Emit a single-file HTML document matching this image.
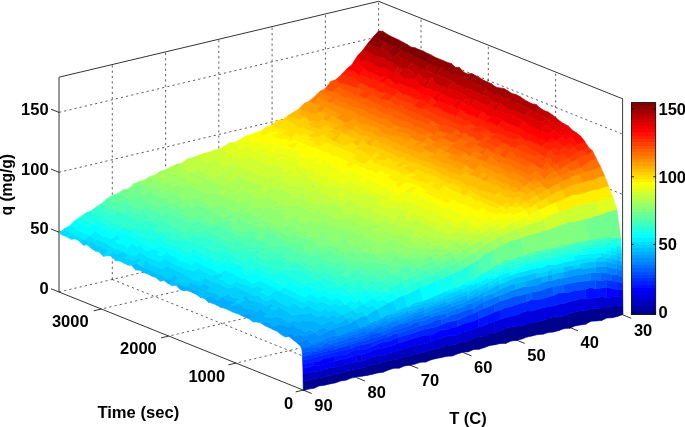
<!DOCTYPE html>
<html><head><meta charset="utf-8"><title>q surface</title><style>html,body{margin:0;padding:0;background:#fff}body{width:685px;height:427px;overflow:hidden}</style></head><body>
<svg width="685" height="427" viewBox="0 0 685 427" style="display:block">
<rect width="685" height="427" fill="#fff"/>
<path d="M112.3,279.5 L112.3,64.6 M112.3,279.5 L356.5,377.6 M165.6,267.0 L165.6,51.9 M165.6,267.0 L409.8,365.0 M218.8,254.4 L218.8,39.3 M218.8,254.4 L463.1,352.5 M272.1,241.9 L272.1,26.6 M272.1,241.9 L516.3,340.0 M325.4,229.4 L325.4,14.0 M325.4,229.4 L569.6,327.4 M378.6,216.8 L378.6,1.3 M378.6,216.8 L622.9,314.9 M421.0,233.8 L421.0,18.3 M421.0,233.8 L101.4,309.0 M488.3,260.9 L488.3,45.1 M488.3,260.9 L168.7,336.1 M555.6,287.9 L555.6,72.0 M555.6,287.9 L236.0,363.1 M59.0,292.0 L378.6,216.8 M59.0,232.2 L378.6,156.8 M378.6,156.8 L622.9,254.7 M59.0,172.3 L378.6,96.7 M378.6,96.7 L622.9,194.5 M59.0,112.4 L378.6,36.6 M378.6,36.6 L622.9,134.3" fill="none" stroke="#1a1a1a" stroke-width="0.7" stroke-dasharray="2.2 3.1"/>
<path d="M303.3,390.1 L59.0,292.0 M59.0,77.2 L378.6,1.3 L622.9,98.9" fill="none" stroke="#000" stroke-width="0.8"/>
<path d="M59,292.0 V77.2" fill="none" stroke="#333" stroke-width="1"/>
<path d="M622.6,314.9 V98.9" fill="none" stroke="#222" stroke-width="0.9"/>
<g stroke-width="0.6" stroke-linejoin="round">
<path fill="#00008f" stroke="#00008f" d="M622.9 314.5l-5.4 1.9l-0.1 -10.5l5.3 -0.4zM617.5 316.4l-5.3 1.3l-0.1 -11.6l5.3 -0.2zM612.2 317.7l-5.3 0.3l-0.2 -10l5.4 -1.9zM606.9 318.0l-5.3 2.5l-0.2 -12.6l5.3 0.1zM601.6 320.5l-5.4 0.4l-0.1 -12.4l5.3 -0.6zM596.2 320.9l-5.3 0.4l-0.1 -12.2l5.3 -0.6zM590.9 321.3l-5.3 2.9l-0.2 -13.5l5.4 -1.6zM585.6 324.2l-5.4 0.8l-0.1 -14.2l5.3 -0.1zM580.2 325.0l-5.3 1l-0.1 -14.1l5.3 -1.1zM574.9 326.0l-5.3 2.3l-0.1 -14.9l5.3 -1.5zM569.6 328.3l-5.3 0.2l-0.2 -12.6l5.4 -2.5zM564.3 328.5l-5.4 2l-0.1 -13.9l5.3 -0.7zM558.9 330.5l-5.3 1.5l-0.1 -15.3l5.3 -0.1zM553.6 332.0l-5.3 0.4l-0.1 -13.9l5.3 -1.8zM548.3 332.4l-5.3 1.8l-0.2 -13.9l5.4 -1.8zM543.0 334.2l-5.4 0.4l-0.1 -12.9l5.3 -1.4zM537.6 334.6l-5.3 1.3l-0.1 -13.4l5.3 -0.8zM532.3 335.9l-5.3 1.2l-0.2 -13.6l5.4 -1zM527.0 337.1l-5.3 2l-0.2 -13.3l5.3 -2.3zM521.7 339.1l-5.4 1.3l-0.1 -14.1l5.3 -0.5zM516.3 340.4l-5.3 0.7l-0.1 -14l5.3 -0.8zM511.0 341.1l-5.3 2.3l-0.2 -14.9l5.4 -1.4zM505.7 343.4l-5.3 0.1l-0.2 -12.8l5.3 -2.2zM500.4 343.5l-5.4 1.2l-0.1 -11.9l5.3 -2.1zM495.0 344.7l-5.3 0.9l-0.1 -12.1l5.3 -0.7zM489.7 345.6l-5.3 2l-0.2 -11.7l5.4 -2.4zM484.4 347.6l-5.4 1.7l-0.1 -12.9l5.3 -0.5zM479.0 349.3l-5.3 0.2l-0.1 -11.2l5.3 -1.9zM473.7 349.5l-5.3 2.3l-0.1 -10.8l5.3 -2.7zM468.4 351.8l-5.3 0.4l-0.2 -10.6l5.4 -0.6zM463.1 352.2l-5.4 1.6l-0.1 -10.6l5.3 -1.6zM457.7 353.8l-5.3 2.2l-0.1 -10.7l5.3 -2.1zM452.4 356.0l-5.3 0.3l-0.1 -11.3l5.3 0.3zM447.1 356.3l-5.3 1.1l-0.2 -10.2l5.4 -2.2zM441.8 357.4l-5.4 1.1l-0.1 -9.8l5.3 -1.5zM436.4 358.5l-5.3 1.3l-0.1 -10.1l5.3 -1zM431.1 359.8l-5.3 2.3l-0.2 -10.7l5.4 -1.7zM425.8 362.1l-5.3 0.2l-0.2 -9.3l5.3 -1.6zM420.5 362.3l-5.4 1.8l-0.1 -10.2l5.3 -0.9zM415.1 364.1l-5.3 1.2l-0.1 -9.5l5.3 -1.9zM409.8 365.3l-5.3 0.6l-0.2 -9.5l5.4 -0.6zM404.5 365.9l-5.4 2.3l-0.1 -9.4l5.3 -2.4zM399.1 368.2l-5.3 0.1l-0.1 -8.3l5.3 -1.2zM393.8 368.3l-5.3 1.6l-0.1 -9.6l5.3 -0.3zM388.5 369.9l-5.3 2.3l-0.2 -9.9l5.4 -2zM383.2 372.2l-5.4 0.7l-0.1 -9l5.3 -1.6zM377.8 372.9l-5.3 1.4l-0.1 -10l5.3 -0.4zM372.5 374.3l-5.3 1.1l-0.1 -9l5.3 -2.1zM367.2 375.4l-5.3 0.8l-0.2 -7.9l5.4 -1.9zM361.9 376.2l-5.4 0.9l-0.1 -7.8l5.3 -1zM356.5 377.1l-5.3 1l-0.1 -8l5.3 -0.8zM351.2 378.1l-5.3 2.1l-0.2 -8.9l5.4 -1.2zM345.9 380.2l-5.3 0.8l-0.2 -7.6l5.3 -2.1zM340.6 381.0l-5.4 1.9l-0.1 -8.9l5.3 -0.6zM335.2 382.9l-5.3 1l-0.1 -8.3l5.3 -1.6zM329.9 383.9l-5.3 1.3l-0.2 -8.7l5.4 -0.9zM324.6 385.2l-5.4 0.7l-0.1 -7.9l5.3 -1.5zM319.2 385.9l-5.3 2.4l-0.1 -9.5l5.3 -0.8zM313.9 388.3l-5.3 0.8l-0.1 -8.7l5.3 -1.6zM308.6 389.1l-5.3 1.6l-0.2 -9.8l5.4 -0.5z"/>
<path fill="#0000bf" stroke="#0000bf" d="M415.0 353.9l-5.3 1.9l-0.2 -8.6l5.4 -1.7zM409.7 355.8l-5.4 0.6l-0.1 -8l5.3 -1.2zM404.3 356.4l-5.3 2.4l-0.1 -8.6l5.3 -1.8zM399.0 358.8l-5.3 1.2l-0.1 -8.6l5.3 -1.2zM393.7 360.0l-5.3 0.3l-0.2 -6.9l5.4 -2zM388.4 360.3l-5.4 2l-0.1 -6.9l5.3 -2zM383.0 362.3l-5.3 1.6l-0.1 -8.2l5.3 -0.3zM377.7 363.9l-5.3 0.4l-0.2 -7.2l5.4 -1.4zM372.4 364.3l-5.3 2.1l-0.2 -7.4l5.3 -1.9zM367.1 366.4l-5.4 1.9l-0.1 -7.1l5.3 -2.2zM361.7 368.3l-5.3 1l-0.1 -7.5l5.3 -0.6zM356.4 369.3l-5.3 0.8l-0.2 -7.5l5.4 -0.8zM351.1 370.1l-5.4 1.2l-0.1 -6.8l5.3 -1.9zM345.7 371.3l-5.3 2.1l-0.1 -7.5l5.3 -1.4zM340.4 373.4l-5.3 0.6l-0.1 -6.6l5.3 -1.5zM335.1 374.0l-5.3 1.6l-0.2 -7.9l5.4 -0.3zM329.8 375.6l-5.4 0.9l-0.1 -7.6l5.3 -1.2zM324.4 376.5l-5.3 1.5l-0.1 -7.1l5.3 -2zM319.1 378.0l-5.3 0.8l-0.1 -7.4l5.3 -0.5zM313.8 378.8l-5.3 1.6l-0.2 -7.4l5.4 -1.6zM308.5 380.4l-5.4 0.5l-0.1 -7.7l5.3 -0.2z"/>
<path fill="#0000cf" stroke="#0000cf" d="M622.7 305.5l-5.3 0.4l-0.1 -9.3l5.3 1zM617.4 305.9l-5.3 0.2l-0.2 -8.8l5.4 -0.7zM612.1 306.1l-5.4 1.9l-0.1 -10.5l5.3 -0.2zM606.7 308.0l-5.3 -0.1l-0.1 -11.2l5.3 0.8zM601.4 307.9l-5.3 0.6l-0.1 -10.7l5.3 -1.1zM494.9 332.8l-5.3 0.7l-0.2 -10.4l5.4 -2.2zM489.6 333.5l-5.4 2.4l-0.1 -10.5l5.3 -2.3zM484.2 335.9l-5.3 0.5l-0.1 -9.3l5.3 -1.7zM478.9 336.4l-5.3 1.9l-0.2 -9.4l5.4 -1.8zM473.6 338.3l-5.3 2.7l-0.2 -10.5l5.3 -1.6zM468.3 341.0l-5.4 0.6l-0.1 -9.3l5.3 -1.8zM462.9 341.6l-5.3 1.6l-0.1 -8.2l5.3 -2.7zM457.6 343.2l-5.3 2.1l-0.2 -9.7l5.4 -0.6zM452.3 345.3l-5.3 -0.3l-0.2 -8.9l5.3 -0.5zM447.0 345.0l-5.4 2.2l-0.1 -8.6l5.3 -2.5zM441.6 347.2l-5.3 1.5l-0.1 -9.8l5.3 -0.3zM436.3 348.7l-5.3 1l-0.2 -8.3l5.4 -2.5zM431.0 349.7l-5.4 1.7l-0.1 -8l5.3 -2zM425.6 351.4l-5.3 1.6l-0.1 -8.5l5.3 -1.1zM420.3 353.0l-5.3 0.9l-0.1 -8.4l5.3 -1z"/>
<path fill="#0000df" stroke="#0000df" d="M596.1 308.5l-5.3 0.6l-0.2 -10.9l5.4 -0.4zM590.8 309.1l-5.4 1.6l-0.1 -11.6l5.3 -0.9zM585.4 310.7l-5.3 0.1l-0.1 -11.9l5.3 0.2zM580.1 310.8l-5.3 1.1l-0.1 -11.5l5.3 -1.5zM574.8 311.9l-5.3 1.5l-0.2 -12l5.4 -1zM569.5 313.4l-5.4 2.5l-0.1 -12.5l5.3 -2zM564.1 315.9l-5.3 0.7l-0.1 -12.3l5.3 -0.9zM558.8 316.6l-5.3 0.1l-0.2 -11l5.4 -1.4zM553.5 316.7l-5.3 1.8l-0.2 -11.8l5.3 -1zM548.2 318.5l-5.4 1.8l-0.1 -12.6l5.3 -1zM542.8 320.3l-5.3 1.4l-0.1 -12.4l5.3 -1.6zM537.5 321.7l-5.3 0.8l-0.2 -11.6l5.4 -1.6zM532.2 322.5l-5.4 1l-0.1 -12.6l5.3 0zM526.8 323.5l-5.3 2.3l-0.1 -13.1l5.3 -1.8zM521.5 325.8l-5.3 0.5l-0.1 -11.4l5.3 -2.2zM516.2 326.3l-5.3 0.8l-0.2 -10.8l5.4 -1.4zM510.9 327.1l-5.4 1.4l-0.1 -11.1l5.3 -1.1zM505.5 328.5l-5.3 2.2l-0.1 -11.4l5.3 -1.9zM500.2 330.7l-5.3 2.1l-0.1 -11.9l5.3 -1.6zM361.6 361.2l-5.3 0.6l-0.2 -6.8l5.4 -0.4zM345.6 364.5l-5.3 1.4l-0.1 -6.4l5.3 -0.7zM340.3 365.9l-5.3 1.5l-0.2 -6.4l5.4 -1.5z"/>
<path fill="#0000ef" stroke="#0000ef" d="M622.6 297.6l-5.3 -1l-0.2 -7l5.4 0.1zM430.8 341.4l-5.3 2l-0.1 -8.1l5.3 -0.2zM425.5 343.4l-5.3 1.1l-0.2 -8.1l5.4 -1.1zM420.2 344.5l-5.3 1l-0.2 -7.4l5.3 -1.7zM414.9 345.5l-5.4 1.7l-0.1 -7.7l5.3 -1.4zM409.5 347.2l-5.3 1.2l-0.1 -6.8l5.3 -2.1zM404.2 348.4l-5.3 1.8l-0.2 -7.1l5.4 -1.5zM398.9 350.2l-5.3 1.2l-0.2 -6.2l5.3 -2.1zM393.6 351.4l-5.4 2l-0.1 -6.6l5.3 -1.6zM388.2 353.4l-5.3 2l-0.1 -7.3l5.3 -1.3zM382.9 355.4l-5.3 0.3l-0.2 -6.7l5.4 -0.9zM377.6 355.7l-5.4 1.4l-0.1 -6.5l5.3 -1.6zM372.2 357.1l-5.3 1.9l-0.1 -6.1l5.3 -2.3zM366.9 359.0l-5.3 2.2l-0.1 -6.6l5.3 -1.7zM356.3 361.8l-5.4 0.8l-0.1 -5.7l5.3 -1.9zM350.9 362.6l-5.3 1.9l-0.1 -5.7l5.3 -1.9zM335.0 367.4l-5.4 0.3l-0.1 -4.9l5.3 -1.8zM329.6 367.7l-5.3 1.2l-0.1 -4.9l5.3 -1.2zM324.3 368.9l-5.3 2l-0.2 -5.4l5.4 -1.5zM319.0 370.9l-5.3 0.5l-0.2 -5.8l5.3 -0.1zM313.7 371.4l-5.4 1.6l-0.1 -5.7l5.3 -1.7zM308.3 373.0l-5.3 0.2l-0.1 -5l5.3 -0.9z"/>
<path fill="#0000ff" stroke="#0000ff" d="M617.3 296.6l-5.4 0.7l-0.1 -8.7l5.3 1zM611.9 297.3l-5.3 0.2l-0.1 -10.3l5.3 1.4zM478.8 327.1l-5.4 1.8l-0.1 -7.7l5.3 -2.6zM473.4 328.9l-5.3 1.6l-0.1 -8l5.3 -1.3zM468.1 330.5l-5.3 1.8l-0.1 -8.5l5.3 -1.3zM462.8 332.3l-5.3 2.7l-0.2 -8.5l5.4 -2.7zM457.5 335.0l-5.4 0.6l-0.1 -7.9l5.3 -1.2zM452.1 335.6l-5.3 0.5l-0.1 -6.5l5.3 -1.9zM446.8 336.1l-5.3 2.5l-0.1 -8.5l5.3 -0.5zM441.5 338.6l-5.3 0.3l-0.2 -6.5l5.4 -2.3zM436.2 338.9l-5.4 2.5l-0.1 -6.3l5.3 -2.7zM334.8 361.0l-5.3 1.8l-0.1 -5l5.3 -1.8zM329.5 362.8l-5.3 1.2l-0.2 -5.5l5.4 -0.7zM324.2 364.0l-5.4 1.5l-0.1 -4.3l5.3 -2.7zM318.8 365.5l-5.3 0.1l-0.1 -4.2l5.3 -0.2z"/>
<path fill="#0010ff" stroke="#0010ff" d="M606.6 297.5l-5.3 -0.8l-0.1 -8.7l5.3 -0.8zM601.3 296.7l-5.3 1.1l-0.2 -9l5.4 -0.8zM596.0 297.8l-5.4 0.4l-0.1 -10.6l5.3 1.2zM590.6 298.2l-5.3 0.9l-0.1 -9.8l5.3 -1.7zM500.1 319.3l-5.3 1.6l-0.2 -9.2l5.3 -1.7zM494.8 320.9l-5.4 2.2l-0.1 -8.7l5.3 -2.7zM489.4 323.1l-5.3 2.3l-0.1 -9l5.3 -2zM484.1 325.4l-5.3 1.7l-0.2 -8.5l5.4 -2.2zM398.7 343.1l-5.3 2.1l-0.1 -6l5.3 -2.1zM393.4 345.2l-5.3 1.6l-0.1 -5.1l5.3 -2.5zM388.1 346.8l-5.3 1.3l-0.2 -6l5.4 -0.4zM382.8 348.1l-5.4 0.9l-0.1 -5l5.3 -1.9zM377.4 349.0l-5.3 1.6l-0.1 -3.9l5.3 -2.7zM372.1 350.6l-5.3 2.3l-0.2 -4.4l5.4 -1.8zM366.8 352.9l-5.3 1.7l-0.2 -5l5.3 -1.1zM361.5 354.6l-5.4 0.4l-0.1 -5.1l5.3 -0.3zM356.1 355.0l-5.3 1.9l-0.1 -5.1l5.3 -1.9zM350.8 356.9l-5.3 1.9l-0.2 -4.1l5.4 -2.9zM345.5 358.8l-5.3 0.7l-0.2 -4.5l5.3 -0.3zM340.2 359.5l-5.4 1.5l-0.1 -5l5.3 -1zM313.5 365.6l-5.3 1.7l-0.1 -4.6l5.3 -1.3zM308.2 367.3l-5.3 0.9l-0.2 -4.4l5.4 -1.1z"/>
<path fill="#0020ff" stroke="#0020ff" d="M585.3 299.1l-5.3 -0.2l-0.2 -8.6l5.4 -1zM580.0 298.9l-5.3 1.5l-0.2 -10.2l5.3 0.1zM574.7 300.4l-5.4 1l-0.1 -9l5.3 -2.2zM569.3 301.4l-5.3 2l-0.1 -10.9l5.3 -0.1zM564.0 303.4l-5.3 0.9l-0.2 -11.3l5.4 -0.5zM558.7 304.3l-5.4 1.4l-0.1 -10.3l5.3 -2.4zM553.3 305.7l-5.3 1l-0.1 -9.7l5.3 -1.6zM548.0 306.7l-5.3 1l-0.1 -9.3l5.3 -1.4zM542.7 307.7l-5.3 1.6l-0.2 -9.6l5.4 -1.3zM537.4 309.3l-5.4 1.6l-0.1 -11.6l5.3 0.4zM532.0 310.9l-5.3 0l-0.1 -9.1l5.3 -2.5zM526.7 310.9l-5.3 1.8l-0.1 -9.6l5.3 -1.3zM521.4 312.7l-5.3 2.2l-0.2 -10.1l5.4 -1.7zM516.1 314.9l-5.4 1.4l-0.1 -9.7l5.3 -1.8zM510.7 316.3l-5.3 1.1l-0.1 -9.8l5.3 -1zM505.4 317.4l-5.3 1.9l-0.2 -9.3l5.4 -2.4zM622.5 289.7l-5.4 -0.1l-0.1 -8.1l5.3 1.3zM457.3 326.5l-5.3 1.2l-0.1 -6.4l5.3 -1.4zM452.0 327.7l-5.3 1.9l-0.2 -7.3l5.4 -1zM446.7 329.6l-5.3 0.5l-0.2 -5.3l5.3 -2.5zM441.4 330.1l-5.4 2.3l-0.1 -5.4l5.3 -2.2zM436.0 332.4l-5.3 2.7l-0.1 -7l5.3 -1.1zM430.7 335.1l-5.3 0.2l-0.2 -6.2l5.4 -1zM425.4 335.3l-5.4 1.1l-0.1 -5.7l5.3 -1.6zM420.0 336.4l-5.3 1.7l-0.1 -5.5l5.3 -1.9zM414.7 338.1l-5.3 1.4l-0.1 -5.2l5.3 -1.7zM409.4 339.5l-5.3 2.1l-0.2 -5.8l5.4 -1.5zM404.1 341.6l-5.4 1.5l-0.1 -6l5.3 -1.3zM372.0 346.7l-5.4 1.8l-0.1 -4.4l5.3 -2.1zM366.6 348.5l-5.3 1.1l-0.1 -4.8l5.3 -0.7zM361.3 349.6l-5.3 0.3l-0.1 -3.7l5.3 -1.4zM356.0 349.9l-5.3 1.9l-0.2 -3.4l5.4 -2.2zM350.7 351.8l-5.4 2.9l-0.1 -4.9l5.3 -1.4zM345.3 354.7l-5.3 0.3l-0.1 -3.9l5.3 -1.3zM340.0 355.0l-5.3 1l-0.1 -3.8l5.3 -1.1zM334.7 356.0l-5.3 1.8l-0.2 -4.2l5.4 -1.4zM329.4 357.8l-5.4 0.7l-0.1 -3.3l5.3 -1.6zM324.0 358.5l-5.3 2.7l-0.1 -5.2l5.3 -0.8zM318.7 361.2l-5.3 0.2l-0.1 -3.9l5.3 -1.5zM313.4 361.4l-5.3 1.3l-0.2 -3.5l5.4 -1.7zM308.1 362.7l-5.4 1.1l-0.1 -4.1l5.3 -0.5z"/>
<path fill="#0030ff" stroke="#0030ff" d="M617.1 289.6l-5.3 -1l-0.1 -8.1l5.3 1zM611.8 288.6l-5.3 -1.4l-0.2 -7.2l5.4 0.5zM478.6 318.6l-5.3 2.6l-0.1 -7.7l5.3 -2.8zM473.3 321.2l-5.3 1.3l-0.1 -7.3l5.3 -1.7zM468.0 322.5l-5.3 1.3l-0.2 -6l5.4 -2.6zM462.7 323.8l-5.4 2.7l-0.1 -6.6l5.3 -2.1zM398.6 337.1l-5.3 2.1l-0.2 -5l5.4 -1.1zM393.3 339.2l-5.3 2.5l-0.2 -4.7l5.3 -2.8zM388.0 341.7l-5.4 0.4l-0.1 -4l5.3 -1.1zM382.6 342.1l-5.3 1.9l-0.1 -4.3l5.3 -1.6zM377.3 344.0l-5.3 2.7l-0.2 -4.7l5.4 -2.3zM350.5 348.4l-5.3 1.4l-0.1 -3.2l5.3 -2.3zM345.2 349.8l-5.3 1.3l-0.2 -3.6l5.4 -0.9zM339.9 351.1l-5.3 1.1l-0.2 -2.8l5.3 -1.9zM334.6 352.2l-5.4 1.4l-0.1 -3l5.3 -1.2zM329.2 353.6l-5.3 1.6l-0.1 -3.1l5.3 -1.5zM323.9 355.2l-5.3 0.8l-0.2 -3l5.4 -0.9zM318.6 356.0l-5.3 1.5l-0.2 -2.6l5.3 -1.9zM313.3 357.5l-5.4 1.7l-0.1 -4l5.3 -0.3zM307.9 359.2l-5.3 0.5l-0.1 -1.7l5.3 -2.8z"/>
<path fill="#0040ff" stroke="#0040ff" d="M606.5 287.2l-5.3 0.8l-0.2 -7.6l5.3 -0.4zM601.2 288.0l-5.4 0.8l-0.1 -8.9l5.3 0.5zM494.6 311.7l-5.3 2.7l-0.1 -8l5.3 -2.5zM489.3 314.4l-5.3 2l-0.2 -8l5.4 -2zM484.0 316.4l-5.4 2.2l-0.1 -7.9l5.3 -2.3zM441.2 324.8l-5.3 2.2l-0.1 -6.8l5.3 -0.4zM435.9 327.0l-5.3 1.1l-0.2 -5.4l5.4 -2.5zM430.6 328.1l-5.4 1l-0.1 -4.5l5.3 -1.9zM425.2 329.1l-5.3 1.6l-0.1 -4.7l5.3 -1.4zM419.9 330.7l-5.3 1.9l-0.1 -4.5l5.3 -2.1zM414.6 332.6l-5.3 1.7l-0.2 -4.8l5.4 -1.4zM409.3 334.3l-5.4 1.5l-0.1 -4.3l5.3 -2zM403.9 335.8l-5.3 1.3l-0.1 -4l5.3 -1.6zM387.8 337.0l-5.3 1.1l-0.1 -2.7l5.3 -2.4zM382.5 338.1l-5.3 1.6l-0.2 -2.8l5.4 -1.5zM377.2 339.7l-5.4 2.3l-0.1 -4.2l5.3 -0.9zM371.8 342.0l-5.3 2.1l-0.1 -3.7l5.3 -2.6zM366.5 344.1l-5.3 0.7l-0.1 -3.7l5.3 -0.7zM361.2 344.8l-5.3 1.4l-0.2 -3.2l5.4 -1.9zM355.9 346.2l-5.4 2.2l-0.1 -4.1l5.3 -1.3zM334.4 349.4l-5.3 1.2l-0.1 -2.2l5.3 -2.3zM329.1 350.6l-5.3 1.5l-0.2 -2.9l5.4 -0.8zM323.8 352.1l-5.4 0.9l-0.1 -1.4l5.3 -2.4zM318.4 353.0l-5.3 1.9l-0.1 -2.9l5.3 -0.4zM313.1 354.9l-5.3 0.3l-0.1 -0.6l5.3 -2.6zM307.8 355.2l-5.3 2.8l-0.2 -2l5.4 -1.4z"/>
<path fill="#0050ff" stroke="#0050ff" d="M595.8 288.8l-5.3 -1.2l-0.1 -7.3l5.3 -0.4zM590.5 287.6l-5.3 1.7l-0.2 -8.3l5.4 -0.7zM585.2 289.3l-5.4 1l-0.1 -8.9l5.3 -0.4zM579.8 290.3l-5.3 -0.1l-0.1 -7.8l5.3 -1zM574.5 290.2l-5.3 2.2l-0.1 -9.1l5.3 -0.9zM569.2 292.4l-5.3 0.1l-0.2 -7.8l5.4 -1.4zM553.2 295.4l-5.3 1.6l-0.1 -9.1l5.3 -1.4zM547.9 297.0l-5.3 1.4l-0.2 -8.7l5.4 -1.8zM542.6 298.4l-5.4 1.3l-0.1 -8.2l5.3 -1.8zM537.2 299.7l-5.3 -0.4l-0.1 -7.2l5.3 -0.6zM526.6 301.8l-5.3 1.3l-0.2 -7.9l5.3 -1.4zM521.3 303.1l-5.4 1.7l-0.1 -8.7l5.3 -0.9zM515.9 304.8l-5.3 1.8l-0.1 -8.9l5.3 -1.6zM510.6 306.6l-5.3 1l-0.2 -7.9l5.4 -2zM505.3 307.6l-5.4 2.4l-0.1 -9.1l5.3 -1.2zM499.9 310.0l-5.3 1.7l-0.1 -7.8l5.3 -3zM622.3 282.8l-5.3 -1.3l-0.1 -6.9l5.3 2.4zM617.0 281.5l-5.3 -1l-0.2 -6.1l5.4 0.2zM473.2 313.5l-5.3 1.7l-0.2 -5.5l5.3 -1.1zM467.9 315.2l-5.4 2.6l-0.1 -6.5l5.3 -1.6zM462.5 317.8l-5.3 2.1l-0.1 -6.2l5.3 -2.4zM457.2 319.9l-5.3 1.4l-0.2 -6.6l5.4 -1zM451.9 321.3l-5.4 1l-0.1 -4.7l5.3 -2.9zM446.5 322.3l-5.3 2.5l-0.1 -5l5.3 -2.2zM419.8 326.0l-5.3 2.1l-0.2 -5.3l5.3 -1.7zM414.5 328.1l-5.4 1.4l-0.1 -3.6l5.3 -3.1zM409.1 329.5l-5.3 2l-0.1 -4.3l5.3 -1.3zM403.8 331.5l-5.3 1.6l-0.2 -3.9l5.4 -2zM398.5 333.1l-5.4 1.1l-0.1 -4.2l5.3 -0.8zM393.1 334.2l-5.3 2.8l-0.1 -4l5.3 -3zM382.4 335.4l-5.4 1.5l-0.1 -3.6l5.3 -1.6zM377.0 336.9l-5.3 0.9l-0.1 -3.4l5.3 -1.1zM371.7 337.8l-5.3 2.6l-0.2 -3.2l5.4 -2.8zM366.4 340.4l-5.3 0.7l-0.2 -2l5.3 -1.9zM361.1 341.1l-5.4 1.9l-0.1 -2.3l5.3 -1.6zM355.7 343.0l-5.3 1.3l-0.1 -2.7l5.3 -0.9zM350.4 344.3l-5.3 2.3l-0.2 -3.6l5.4 -1.4zM345.1 346.6l-5.4 0.9l-0.1 -2.7l5.3 -1.8zM339.7 347.5l-5.3 1.9l-0.1 -3.3l5.3 -1.3zM334.3 346.1l-5.3 2.3l-0.2 -3l5.4 -1.2zM329.0 348.4l-5.4 0.8l-0.1 -1.5l5.3 -2.3zM323.6 349.2l-5.3 2.4l-0.1 -2.6l5.3 -1.3zM318.3 351.6l-5.3 0.4l-0.2 -1.2l5.4 -1.8zM313.0 352.0l-5.3 2.6l-0.2 -3.2l5.3 -0.6zM307.7 354.6l-5.4 1.4l-0.1 -3.4l5.3 -1.2z"/>
<path fill="#0060ff" stroke="#0060ff" d="M563.9 292.5l-5.4 0.5l-0.1 -7.6l5.3 -0.7zM558.5 293.0l-5.3 2.4l-0.1 -8.9l5.3 -1.1zM531.9 299.3l-5.3 2.5l-0.2 -8l5.4 -1.7zM611.7 280.5l-5.4 -0.5l-0.1 -7.1l5.3 1.5zM606.3 280.0l-5.3 0.4l-0.1 -7.4l5.3 -0.1zM483.8 308.4l-5.3 2.3l-0.1 -5.9l5.3 -3.1zM478.5 310.7l-5.3 2.8l-0.2 -4.9l5.4 -3.8zM446.4 317.6l-5.3 2.2l-0.1 -5l5.3 -1.7zM441.1 319.8l-5.3 0.4l-0.2 -4.6l5.4 -0.8zM435.8 320.2l-5.4 2.5l-0.1 -5.4l5.3 -1.7zM430.4 322.7l-5.3 1.9l-0.1 -4.2l5.3 -3.1zM425.1 324.6l-5.3 1.4l-0.2 -4.9l5.4 -0.7zM409.0 325.9l-5.3 1.3l-0.2 -3.4l5.4 -2.3zM403.7 327.2l-5.4 2l-0.1 -4.6l5.3 -0.8zM398.3 329.2l-5.3 0.8l-0.1 -2.8l5.3 -2.6zM393.0 330.0l-5.3 3l-0.1 -3.5l5.3 -2.3zM387.7 333.0l-5.3 2.4l-0.2 -3.7l5.4 -2.2zM376.9 333.3l-5.3 1.1l-0.2 -2.3l5.4 -1.3zM371.6 334.4l-5.4 2.8l-0.1 -2.8l5.3 -2.3zM366.2 337.2l-5.3 1.9l-0.1 -3l5.3 -1.7zM360.9 339.1l-5.3 1.6l-0.1 -2.5l5.3 -2.1zM355.6 340.7l-5.3 0.9l-0.2 -1.9l5.4 -1.5zM350.3 341.6l-5.4 1.4l-0.1 -2.4l5.3 -0.9zM344.9 343.0l-5.3 1.8l-0.1 -2.1l5.3 -2.1zM339.6 344.8l-5.3 1.3l-0.1 -1.9l5.3 -1.5zM355.5 338.2l-5.4 1.5l-0.1 -2l5.3 -1.8zM350.1 339.7l-5.3 0.9l-0.1 -0.3l5.3 -2.6zM344.8 340.6l-5.3 2.1l-0.2 -1.6l5.4 -0.8zM339.5 342.7l-5.3 1.5l-0.2 -1.5l5.3 -1.6zM334.2 344.2l-5.4 1.2l-0.1 -0.8l5.3 -1.9zM328.8 345.4l-5.3 2.3l-0.1 -1.8l5.3 -1.3zM323.5 347.7l-5.3 1.3l-0.2 -2.5l5.4 -0.6zM318.2 349.0l-5.4 1.8l-0.1 -3.1l5.3 -1.2zM312.8 350.8l-5.3 0.6l-0.1 -1.3l5.3 -2.4zM307.5 351.4l-5.3 1.2l-0.1 -1.1l5.3 -1.4zM328.7 344.6l-5.3 1.3l-0.2 -1.2l5.4 -2.6zM312.7 347.7l-5.3 2.4l-0.1 -2.5l5.3 -0.9zM307.4 350.1l-5.3 1.4l-0.2 -1.9l5.4 -2z"/>
<path fill="#0070ff" stroke="#0070ff" d="M601.0 280.4l-5.3 -0.5l-0.1 -7.3l5.3 0.4zM595.7 279.9l-5.3 0.4l-0.2 -7.9l5.4 0.2zM499.8 300.9l-5.3 3l-0.1 -6.4l5.3 -2.6zM494.5 303.9l-5.3 2.5l-0.2 -7l5.4 -1.9zM489.2 306.4l-5.4 2l-0.1 -6.7l5.3 -2.3zM622.2 277.0l-5.3 -2.4l-0.2 -6.3l5.4 2.4zM473.0 308.6l-5.3 1.1l-0.1 -5.4l5.3 -1.5zM467.7 309.7l-5.3 1.6l-0.1 -3.9l5.3 -3.1zM462.4 311.3l-5.3 2.4l-0.2 -5.2l5.4 -1.1zM457.1 313.7l-5.4 1l-0.1 -3.4l5.3 -2.8zM451.7 314.7l-5.3 2.9l-0.1 -4.5l5.3 -1.8zM430.3 317.3l-5.3 3.1l-0.2 -4.2l5.4 -1.7zM425.0 320.4l-5.4 0.7l-0.1 -3.1l5.3 -1.8zM419.6 321.1l-5.3 1.7l-0.1 -3.8l5.3 -1zM414.3 322.8l-5.3 3.1l-0.1 -4.4l5.3 -2.5zM392.9 327.2l-5.3 2.3l-0.2 -2.5l5.3 -2.5zM387.6 329.5l-5.4 2.2l-0.1 -2.6l5.3 -2.1zM382.2 331.7l-5.3 1.6l-0.1 -2.5l5.3 -1.7zM382.1 329.1l-5.3 1.7l-0.2 -2.2l5.4 -2.5zM376.8 330.8l-5.4 1.3l-0.1 -1.9l5.3 -1.6zM371.4 332.1l-5.3 2.3l-0.1 -2.1l5.3 -2.1zM366.1 334.4l-5.3 1.7l-0.1 -1.4l5.3 -2.4zM360.8 336.1l-5.3 2.1l-0.2 -2.3l5.4 -1.2zM366.0 332.3l-5.3 2.4l-0.2 -2.4l5.3 -1.9zM360.7 334.7l-5.4 1.2l-0.1 -1.7l5.3 -1.9zM355.3 335.9l-5.3 1.8l-0.1 -2.1l5.3 -1.4zM350.0 337.7l-5.3 2.6l-0.2 -2.3l5.4 -2.4zM344.7 340.3l-5.4 0.8l-0.1 -1.8l5.3 -1.3zM339.3 341.1l-5.3 1.6l-0.1 -1.6l5.3 -1.8zM334.0 342.7l-5.3 1.9l-0.1 -2.5l5.3 -1zM323.4 345.9l-5.4 0.6l-0.1 -0.9l5.3 -0.9zM318.0 346.5l-5.3 1.2l-0.1 -1l5.3 -1.1zM344.5 338.0l-5.3 1.3l-0.1 -1.7l5.3 -0.7zM339.2 339.3l-5.3 1.8l-0.2 -1l5.4 -2.5zM333.9 341.1l-5.3 1l-0.2 -1.6l5.3 -0.4zM328.6 342.1l-5.4 2.6l-0.1 -2l5.3 -2.2zM323.2 344.7l-5.3 0.9l-0.1 -1.2l5.3 -1.7zM317.9 345.6l-5.3 1.1l-0.2 0l5.4 -2.3zM312.6 346.7l-5.3 0.9l-0.2 -0.1l5.3 -0.8zM307.3 347.6l-5.4 2l-0.1 -1.1l5.3 -1zM323.1 342.7l-5.3 1.7l-0.2 -0.1l5.4 -2.4zM317.8 344.4l-5.4 2.3l-0.1 -2.2l5.3 -0.2zM312.4 346.7l-5.3 0.8l-0.1 -0.6l5.3 -2.4zM307.1 347.5l-5.3 1l-0.1 0l5.3 -1.6zM307.0 346.9l-5.3 1.6l-0.2 -1.1l5.3 -1.2z"/>
<path fill="#0080ff" stroke="#0080ff" d="M590.4 280.3l-5.4 0.7l-0.1 -6.9l5.3 -1.7zM585.0 281.0l-5.3 0.4l-0.1 -6.6l5.3 -0.7zM579.7 281.4l-5.3 1l-0.2 -7.2l5.4 -0.4zM574.4 282.4l-5.3 0.9l-0.2 -6.4l5.3 -1.7zM569.1 283.3l-5.4 1.4l-0.1 -6.8l5.3 -1zM563.7 284.7l-5.3 0.7l-0.1 -7l5.3 -0.5zM558.4 285.4l-5.3 1.1l-0.2 -6l5.4 -2.1zM553.1 286.5l-5.3 1.4l-0.2 -6.8l5.3 -0.6zM547.8 287.9l-5.4 1.8l-0.1 -7.3l5.3 -1.3zM542.4 289.7l-5.3 1.8l-0.1 -6.2l5.3 -2.9zM537.1 291.5l-5.3 0.6l-0.2 -6.1l5.4 -0.7zM531.8 292.1l-5.4 1.7l-0.1 -7.4l5.3 -0.4zM526.4 293.8l-5.3 1.4l-0.1 -7.9l5.3 -0.9zM521.1 295.2l-5.3 0.9l-0.1 -6.9l5.3 -1.9zM515.8 296.1l-5.3 1.6l-0.2 -6.8l5.4 -1.7zM510.5 297.7l-5.4 2l-0.1 -6.5l5.3 -2.3zM505.1 299.7l-5.3 1.2l-0.1 -6l5.3 -1.7zM616.9 274.6l-5.4 -0.2l-0.1 -6.3l5.3 0.2zM611.5 274.4l-5.3 -1.5l-0.1 -6.6l5.3 1.8zM483.7 301.7l-5.3 3.1l-0.2 -4.9l5.4 -3.2zM478.4 304.8l-5.4 3.8l-0.1 -5.8l5.3 -2.9zM456.9 308.5l-5.3 2.8l-0.1 -4.4l5.3 -2.4zM451.6 311.3l-5.3 1.8l-0.2 -4.2l5.4 -2zM446.3 313.1l-5.3 1.7l-0.2 -4.1l5.3 -1.8zM441.0 314.8l-5.4 0.8l-0.1 -3.3l5.3 -1.6zM435.6 315.6l-5.3 1.7l-0.1 -2.8l5.3 -2.2zM424.8 316.2l-5.3 1.8l-0.1 -3.4l5.3 -1.3zM419.5 318.0l-5.3 1l-0.1 -3l5.3 -1.4zM414.2 319.0l-5.3 2.5l-0.2 -3.1l5.4 -2.4zM408.9 321.5l-5.4 2.3l-0.1 -3l5.3 -2.4zM403.5 323.8l-5.3 0.8l-0.1 -2.9l5.3 -0.9zM398.2 324.6l-5.3 2.6l-0.2 -2.7l5.4 -2.8zM398.1 321.7l-5.4 2.8l-0.1 -2.4l5.3 -2.6zM392.7 324.5l-5.3 2.5l-0.1 -3l5.3 -1.9zM387.4 327.0l-5.3 2.1l-0.1 -3l5.3 -2.1zM382.0 326.1l-5.4 2.5l-0.1 -2.8l5.3 -0.8zM376.6 328.6l-5.3 1.6l-0.1 -1.1l5.3 -3.3zM371.3 330.2l-5.3 2.1l-0.2 -1.9l5.4 -1.3zM371.2 329.1l-5.4 1.3l-0.1 -1.2l5.3 -2.4zM365.8 330.4l-5.3 1.9l-0.1 -0.5l5.3 -2.6zM360.5 332.3l-5.3 1.9l-0.1 -2.2l5.3 -0.2zM355.2 334.2l-5.3 1.4l-0.2 -0.9l5.4 -2.7zM349.9 335.6l-5.4 2.4l-0.1 -1.1l5.3 -2.2zM365.7 329.2l-5.3 2.6l-0.2 -2.9l5.4 -1.2zM360.4 331.8l-5.3 0.2l-0.2 -0.4l5.3 -2.7zM355.1 332.0l-5.4 2.7l-0.1 -2.1l5.3 -1zM349.7 334.7l-5.3 2.2l-0.1 -2.5l5.3 -1.8zM344.4 336.9l-5.3 0.7l-0.2 -1l5.4 -2.2zM339.1 337.6l-5.4 2.5l-0.1 -2l5.3 -1.5zM333.7 340.1l-5.3 0.4l-0.1 -0.4l5.3 -2zM328.4 340.5l-5.3 2.2l-0.1 -0.8l5.3 -1.8zM344.3 334.4l-5.4 2.2l-0.1 0.3l5.3 -2.6zM338.9 336.6l-5.3 1.5l-0.1 -0.5l5.3 -0.7zM333.6 338.1l-5.3 2l-0.1 -1l5.3 -1.5zM328.3 340.1l-5.3 1.8l-0.2 -0.9l5.4 -1.9zM323.0 341.9l-5.4 2.4l-0.1 -1.5l5.3 -1.8zM317.6 344.3l-5.3 0.2l-0.1 0l5.3 -1.7zM312.3 344.5l-5.3 2.4l-0.2 -0.7l5.4 -1.7zM344.1 334.3l-5.3 2.6l-0.1 -1.2l5.3 -2.1zM338.8 336.9l-5.3 0.7l-0.2 -0.3l5.4 -1.6zM333.5 337.6l-5.3 1.5l-0.2 -0.8l5.3 -1zM328.2 339.1l-5.4 1.9l-0.1 -0.5l5.3 -2.2zM322.8 341.0l-5.3 1.8l-0.1 -1.2l5.3 -1.1zM317.5 342.8l-5.3 1.7l-0.2 -0.2l5.4 -2.7zM312.2 344.5l-5.4 1.7l-0.1 -1.6l5.3 -0.3zM306.8 346.2l-5.3 1.2l-0.1 0.6l5.3 -3.4zM338.7 335.7l-5.4 1.6l-0.1 -1.7l5.3 0.5zM333.3 337.3l-5.3 1l-0.1 -0.6l5.3 -2.1zM328.0 338.3l-5.3 2.2l-0.1 0.1l5.3 -2.9zM322.7 340.5l-5.3 1.1l-0.2 0.1l5.4 -1.1zM317.4 341.6l-5.4 2.7l-0.1 -0.4l5.3 -2.2zM312.0 344.3l-5.3 0.3l-0.1 -0.1l5.3 -0.6zM306.7 344.6l-5.3 3.4l-0.1 -1.1l5.3 -2.4zM311.9 343.9l-5.3 0.6l-4.1 -3.8l5.4 -1.8zM306.6 344.5l-5.3 2.4l-4.1 -3.9l5.3 -2.3z"/>
<path fill="#008fff" stroke="#008fff" d="M606.2 272.9l-5.3 0.1l-0.2 -6.2l5.4 -0.5zM600.9 273.0l-5.3 -0.4l-0.2 -5.5l5.3 -0.3zM494.4 297.5l-5.4 1.9l-0.1 -5l5.3 -1.7zM489.0 299.4l-5.3 2.3l-0.1 -5l5.3 -2.3zM622.1 270.7l-5.4 -2.4l-0.1 -4.5l5.3 2.2zM478.2 299.9l-5.3 2.9l-0.1 -5.1l5.3 -2.2zM472.9 302.8l-5.3 1.5l-0.2 -4l5.4 -2.6zM467.6 304.3l-5.3 3.1l-0.2 -3.9l5.3 -3.2zM462.3 307.4l-5.4 1.1l-0.1 -4l5.3 -1zM451.5 306.9l-5.4 2l-0.1 -3.4l5.3 -2.8zM446.1 308.9l-5.3 1.8l-0.1 -3.8l5.3 -1.4zM440.8 310.7l-5.3 1.6l-0.1 -4l5.3 -1.4zM435.5 312.3l-5.3 2.2l-0.2 -3.6l5.4 -2.6zM430.2 314.5l-5.4 1.7l-0.1 -2.9l5.3 -2.4zM424.7 313.3l-5.3 1.3l-0.2 -2.8l5.4 -2zM419.4 314.6l-5.3 1.4l-0.2 -2.4l5.3 -1.8zM414.1 316.0l-5.4 2.4l-0.1 -2.8l5.3 -2zM408.7 318.4l-5.3 2.4l-0.1 -3.3l5.3 -1.9zM403.4 320.8l-5.3 0.9l-0.2 -2.2l5.4 -2zM397.9 319.5l-5.3 2.6l-0.1 -2.1l5.3 -2.1zM392.6 322.1l-5.3 1.9l-0.2 -2l5.4 -2zM387.3 324.0l-5.3 2.1l-0.2 -1.1l5.3 -3zM387.1 322.0l-5.3 3l-0.1 -2.7l5.3 -2.8zM381.8 325.0l-5.3 0.8l-0.1 -1.2l5.3 -2.3zM376.5 325.8l-5.3 3.3l-0.2 -2.3l5.4 -2.2zM376.4 324.6l-5.4 2.2l-0.1 -0.8l5.3 -3.1zM371.0 326.8l-5.3 2.4l-0.1 -1.5l5.3 -1.7zM370.9 326.0l-5.3 1.7l-0.2 -0.2l5.4 -3.4zM365.6 327.7l-5.4 1.2l-0.1 0.3l5.3 -1.7zM360.2 328.9l-5.3 2.7l-0.1 -1.5l5.3 -0.9zM354.9 331.6l-5.3 1l-0.1 -0.8l5.3 -1.7zM349.6 332.6l-5.3 1.8l-0.2 -0.1l5.4 -2.5zM365.4 327.5l-5.3 1.7l-0.1 -1.4l5.3 -1.9zM360.1 329.2l-5.3 0.9l-0.1 -0.2l5.3 -2.1zM354.8 330.1l-5.3 1.7l-0.2 0.1l5.4 -2zM349.5 331.8l-5.4 2.5l-0.1 -0.7l5.3 -1.7zM360.0 327.8l-5.3 2.1l-0.2 -1.4l5.3 -0.8zM354.7 329.9l-5.4 2l-0.1 -0.9l5.3 -2.5zM349.3 331.9l-5.3 1.7l-0.1 -0.7l5.3 -1.9zM344.0 333.6l-5.3 2.1l-0.2 0.4l5.4 -3.2zM338.5 336.1l-5.3 -0.5l-4 -5.2l5.3 -2.2zM333.2 335.6l-5.3 2.1l-4.1 -4.6l5.4 -2.7zM327.9 337.7l-5.3 2.9l-4.1 -4.9l5.3 -2.6zM322.6 340.6l-5.4 1.1l-4 -4.6l5.3 -1.4zM317.2 341.7l-5.3 2.2l-4 -5l5.3 -1.8zM318.5 335.7l-5.3 1.4l-4 -2.6l5.3 -2.1zM313.2 337.1l-5.3 1.8l-4.1 -2.4l5.4 -2zM307.9 338.9l-5.4 1.8l-4 -3.2l5.3 -1zM302.5 340.7l-5.3 2.3l-4 -3.1l5.3 -2.4zM303.8 336.5l-5.3 1l-4 -1.3l5.3 -1.9zM298.5 337.5l-5.3 2.4l-4.1 -3.3l5.4 -0.4zM294.5 336.2l-5.4 0.4l-4 0.3l5.3 -4z"/>
<path fill="#009fff" stroke="#009fff" d="M595.6 272.6l-5.4 -0.2l-0.1 -5.1l5.3 -0.2zM590.2 272.4l-5.3 1.7l-0.1 -5.4l5.3 -1.4zM584.9 274.1l-5.3 0.7l-0.2 -6.8l5.4 0.7zM579.6 274.8l-5.4 0.4l-0.1 -6.2l5.3 -1zM574.2 275.2l-5.3 1.7l-0.1 -6.1l5.3 -1.8zM568.9 276.9l-5.3 1l-0.1 -6l5.3 -1.1zM552.9 280.5l-5.3 0.6l-0.1 -5.5l5.3 -1.3zM542.3 282.4l-5.3 2.9l-0.2 -7.3l5.4 -1.6zM537.0 285.3l-5.4 0.7l-0.1 -6.3l5.3 -1.7zM531.6 286.0l-5.3 0.4l-0.1 -5.7l5.3 -1zM515.7 289.2l-5.4 1.7l-0.1 -5.9l5.3 -1.4zM510.3 290.9l-5.3 2.3l-0.1 -6.1l5.3 -2.1zM505.0 293.2l-5.3 1.7l-0.2 -5.5l5.4 -2.3zM499.7 294.9l-5.3 2.6l-0.2 -4.8l5.3 -3.3zM616.7 268.3l-5.3 -0.2l-0.1 -5.2l5.3 0.9zM611.4 268.1l-5.3 -1.8l-0.2 -5.4l5.4 2zM483.6 296.7l-5.4 3.2l-0.1 -4.4l5.3 -3.6zM621.9 266.0l-5.3 -2.2l-0.1 -4.2l5.3 2zM467.4 300.3l-5.3 3.2l-0.1 -3.8l5.3 -3.2zM462.1 303.5l-5.3 1l-0.1 -3.5l5.3 -1.3zM456.8 304.5l-5.3 2.4l-0.2 -4.2l5.4 -1.7zM446.0 305.5l-5.3 1.4l-0.2 -3l5.4 -2zM440.7 306.9l-5.3 1.4l-0.2 -2.5l5.3 -1.9zM435.4 308.3l-5.4 2.6l-0.1 -3.2l5.3 -1.9zM430.0 310.9l-5.3 2.4l-0.1 -3.5l5.3 -2.1zM424.6 309.8l-5.4 2l-0.1 -2.8l5.3 -2zM419.2 311.8l-5.3 1.8l-0.1 -1.8l5.3 -2.8zM413.9 313.6l-5.3 2l-0.1 -2.4l5.3 -1.4zM408.6 315.6l-5.3 1.9l-0.2 -1.6l5.4 -2.7zM403.3 317.5l-5.4 2l-0.1 -1.6l5.3 -2zM408.5 313.2l-5.4 2.7l-0.1 -1.7l5.3 -3.3zM403.1 315.9l-5.3 2l-0.1 -1.9l5.3 -1.8zM397.8 317.9l-5.3 2.1l-0.2 -3l5.4 -1zM392.5 320.0l-5.4 2l-0.1 -2.5l5.3 -2.5zM392.3 317.0l-5.3 2.5l-0.1 -0.4l5.3 -2.6zM387.0 319.5l-5.3 2.8l-0.1 -0.4l5.3 -2.8zM381.7 322.3l-5.3 2.3l-0.2 -1.7l5.4 -1zM386.9 319.1l-5.3 2.8l-0.2 -3.1l5.3 -1.5zM381.6 321.9l-5.4 1l-0.1 -0.7l5.3 -3.4zM376.2 322.9l-5.3 3.1l-0.1 -1.9l5.3 -1.9zM376.1 322.2l-5.3 1.9l-0.2 -1l5.4 -1.8zM370.8 324.1l-5.4 3.4l-0.1 -1.6l5.3 -2.8zM376.0 321.3l-5.4 1.8l-0.1 -0.1l5.3 -2.4zM370.6 323.1l-5.3 2.8l-0.1 -0.6l5.3 -2.3zM365.3 325.9l-5.3 1.9l-0.2 -0.1l5.4 -2.4zM359.8 327.7l-5.3 0.8l-4 -5.6l5.3 -3.2zM354.5 328.5l-5.3 2.5l-4 -5.9l5.3 -2.2zM349.2 331.0l-5.3 1.9l-4.1 -6.3l5.4 -1.5zM343.9 332.9l-5.4 3.2l-4 -7.9l5.3 -1.6zM329.2 330.4l-5.4 2.7l-4 -4.5l5.3 -0.8zM323.8 333.1l-5.3 2.6l-4 -3.3l5.3 -3.8zM314.5 332.4l-5.3 2.1l-4.1 -2.4l5.3 -3.2zM309.2 334.5l-5.4 2l-4 -2.2l5.3 -2.2zM305.1 332.1l-5.3 2.2l-4 -3.3l5.3 -2.2zM299.8 334.3l-5.3 1.9l-4.1 -3.3l5.4 -1.9zM301.1 328.8l-5.3 2.2l-4.1 -1.4l5.3 -1.6zM295.8 331.0l-5.4 1.9l-4 -0.3l5.3 -3zM290.4 332.9l-5.3 4l-4 -2.4l5.3 -1.9zM297.0 328.0l-5.3 1.6l-4 -2.8l5.3 -2.4zM291.7 329.6l-5.3 3l-4 -3.1l5.3 -2.7zM286.4 332.6l-5.3 1.9l-4.1 -3.3l5.4 -1.7zM287.7 326.8l-5.3 2.7l-4.1 -2.2l5.3 -2.1zM282.4 329.5l-5.4 1.7l-4 -1.6l5.3 -2.3zM283.6 325.2l-5.3 2.1l-4 -0.8l5.3 -2.7zM278.3 327.3l-5.3 2.3l-4 -2l5.3 -1.1zM274.3 326.5l-5.3 1.1l-4.1 -1.8l5.3 -2zM270.2 323.8l-5.3 2l-4 -2.9l5.3 -1.6zM254.1 316.6l-5.3 2.1l-4.1 -1.8l5.4 -2.2zM250.1 314.7l-5.4 2.2l-4 -1.8l5.3 -1.3z"/>
<path fill="#00afff" stroke="#00afff" d="M563.6 277.9l-5.3 0.5l-0.2 -6l5.4 -0.5zM558.3 278.4l-5.4 2.1l-0.1 -6.2l5.3 -1.9zM547.6 281.1l-5.3 1.3l-0.1 -6l5.3 -0.8zM526.3 286.4l-5.3 0.9l-0.2 -4.7l5.4 -1.9zM521.0 287.3l-5.3 1.9l-0.2 -5.6l5.3 -1zM606.1 266.3l-5.4 0.5l-0.1 -5.2l5.3 -0.7zM600.7 266.8l-5.3 0.3l-0.1 -5.8l5.3 0.3zM499.5 289.4l-5.3 3.3l-0.1 -6.3l5.3 -2.5zM494.2 292.7l-5.3 1.7l-0.1 -4.4l5.3 -3.6zM488.9 294.4l-5.3 2.3l-0.2 -4.8l5.4 -1.9zM616.6 263.8l-5.3 -0.9l-0.2 -5l5.4 1.7zM478.1 295.5l-5.3 2.2l-0.2 -2.2l5.4 -4.9zM472.8 297.7l-5.4 2.6l-0.1 -3.8l5.3 -1zM467.3 296.5l-5.3 3.2l-0.1 -3.4l5.3 -1.5zM462.0 299.7l-5.3 1.3l-0.2 -2.9l5.4 -1.8zM456.7 301.0l-5.4 1.7l-0.1 -1.9l5.3 -2.7zM451.3 302.7l-5.3 2.8l-0.1 -3.6l5.3 -1.1zM445.9 301.9l-5.4 2l-0.1 -1.3l5.3 -3.9zM440.5 303.9l-5.3 1.9l-0.1 -2.2l5.3 -1zM435.2 305.8l-5.3 1.9l-0.1 -2.1l5.3 -2zM429.9 307.7l-5.3 2.1l-0.2 -2.8l5.4 -1.4zM424.4 307.0l-5.3 2l-0.1 -1.1l5.3 -2.8zM419.1 309.0l-5.3 2.8l-0.2 -2.5l5.4 -1.4zM413.8 311.8l-5.3 1.4l-0.2 -2.3l5.3 -1.6zM408.3 310.9l-5.3 3.3l-0.1 -1.8l5.3 -2.8zM403.0 314.2l-5.3 1.8l-0.2 -2.3l5.4 -1.3zM397.7 316.0l-5.4 1l-0.1 -0.5l5.3 -2.8zM402.9 312.4l-5.4 1.3l-0.1 -0.8l5.3 -1.9zM397.5 313.7l-5.3 2.8l-0.1 -1.8l5.3 -1.8zM392.2 316.5l-5.3 2.6l-0.2 -1.8l5.4 -2.6zM392.1 314.7l-5.4 2.6l-0.1 -0.5l5.3 -2.1zM386.7 317.3l-5.3 1.5l-0.1 -0.7l5.3 -1.3zM381.4 318.8l-5.3 3.4l-0.1 -0.9l5.3 -3.2zM391.9 314.7l-5.3 2.1l-0.1 -1.8l5.3 -1.4zM386.6 316.8l-5.3 1.3l-0.2 0l5.4 -3.1zM381.3 318.1l-5.3 3.2l-0.2 -0.7l5.3 -2.5zM370.5 323.0l-5.3 2.3l-4.1 -8.7l5.4 -0.6zM365.2 325.3l-5.4 2.4l-4 -8l5.3 -3.1zM350.5 322.9l-5.3 2.2l-4.1 -3.3l5.3 -3.4zM345.2 325.1l-5.4 1.5l-4 -2.8l5.3 -2zM339.8 326.6l-5.3 1.6l-4 -2.6l5.3 -1.8zM334.5 328.2l-5.3 2.2l-4.1 -2.6l5.4 -2.2zM335.8 323.8l-5.3 1.8l-4.1 -3.2l5.4 -2.5zM330.5 325.6l-5.4 2.2l-4 -2.9l5.3 -2.5zM325.1 327.8l-5.3 0.8l-4 -2.5l5.3 -1.2zM319.8 328.6l-5.3 3.8l-4.1 -3.5l5.4 -2.8zM321.1 324.9l-5.3 1.2l-4.1 -1.5l5.4 -2.3zM315.8 326.1l-5.4 2.8l-4 -2.2l5.3 -2.1zM310.4 328.9l-5.3 3.2l-4 -3.3l5.3 -2.1zM317.1 322.3l-5.4 2.3l-4 -3l5.3 -1.6zM311.7 324.6l-5.3 2.1l-4 -2.5l5.3 -2.6zM306.4 326.7l-5.3 2.1l-4.1 -0.8l5.4 -3.8zM307.7 321.6l-5.3 2.6l-4.1 -1.8l5.4 -2.7zM302.4 324.2l-5.4 3.8l-4 -3.6l5.3 -2zM298.3 322.4l-5.3 2l-4 -1.9l5.3 -2.7zM293.0 324.4l-5.3 2.4l-4.1 -1.6l5.4 -2.7zM289.0 322.5l-5.4 2.7l-4 -1.4l5.3 -3.5zM284.9 320.3l-5.3 3.5l-4 -3.4l5.3 -2.5zM279.6 323.8l-5.3 2.7l-4.1 -2.7l5.4 -3.4zM280.9 317.9l-5.3 2.5l-4.1 -2.2l5.4 -2.2zM275.6 320.4l-5.4 3.4l-4 -2.5l5.3 -3.1zM271.5 318.2l-5.3 3.1l-4 -2.6l5.3 -0.9zM266.2 321.3l-5.3 1.6l-4.1 -0.8l5.4 -3.4zM267.5 317.8l-5.3 0.9l-4.1 -1.2l5.4 -1.8zM262.2 318.7l-5.4 3.4l-4 -0.3l5.3 -4.3zM268.8 312.8l-5.3 2.9l-4.1 -2.7l5.4 -0.4zM263.5 315.7l-5.4 1.8l-4 -0.9l5.3 -3.6zM258.1 317.5l-5.3 4.3l-4 -3.1l5.3 -2.1zM264.8 312.6l-5.4 0.4l-4 -0.8l5.3 -4.4zM259.4 313.0l-5.3 3.6l-4 -1.9l5.3 -2.5zM255.4 312.2l-5.3 2.5l-4.1 -0.9l5.4 -5.7zM251.4 308.1l-5.4 5.7l-4 -3.8l5.3 -0.8zM246.0 313.8l-5.3 1.3l-4 -1.7l5.3 -3.4zM247.3 309.2l-5.3 0.8l-4 -3.2l5.3 0.3zM242.0 310.0l-5.3 3.4l-4.1 -1.4l5.4 -5.2zM243.3 307.1l-5.3 -0.3l-4.1 -0.8l5.3 -2.8zM238.0 306.8l-5.4 5.2l-4 -2l5.3 -4zM233.9 306.0l-5.3 4l-4 -1.7l5.3 -2.8zM235.2 302.8l-5.3 2.7l-4.1 -1.9l5.4 -3zM229.9 305.5l-5.3 2.8l-4.1 -1l5.3 -3.7zM231.2 300.6l-5.4 3l-4 -2.4l5.3 -0.9zM225.8 303.6l-5.3 3.7l-4 -2.2l5.3 -3.9zM227.1 300.3l-5.3 0.9l-4 -0.9l5.3 -3.9zM221.8 301.2l-5.3 3.9l-4.1 -1.8l5.4 -3zM217.8 300.3l-5.4 3l-4 -1.1l5.3 -5zM213.7 297.2l-5.3 5l-4 -3.6l5.3 -2.9zM201.6 292.8l-5.3 1.6l-4 -2l5.3 -1.4zM197.6 291.0l-5.3 1.4l-4.1 -1.6l5.3 -0.7zM193.5 290.1l-5.3 0.7l-4 -0.1l5.3 -3.2zM189.5 287.5l-5.3 3.2l-4.1 -1.2l5.4 -2.9zM185.5 286.6l-5.4 2.9l-4 -4.2l5.3 -1.4zM173.4 282.0l-5.4 1.5l-4 -3.1l5.3 -1.6z"/>
<path fill="#00bfff" stroke="#00bfff" d="M595.4 267.1l-5.3 0.2l-0.1 -5.4l5.3 -0.6zM590.1 267.3l-5.3 1.4l-0.2 -6l5.4 -0.8zM584.8 268.7l-5.4 -0.7l-0.1 -4l5.3 -1.3zM574.1 269.0l-5.3 1.8l-0.1 -4.8l5.3 -1.1zM568.8 270.8l-5.3 1.1l-0.2 -5.1l5.4 -0.8zM552.8 274.3l-5.3 1.3l-0.2 -4.4l5.4 -2.5zM536.8 278.0l-5.3 1.7l-0.1 -6.2l5.3 -1zM531.5 279.7l-5.3 1l-0.2 -5.4l5.4 -1.8zM526.2 280.7l-5.4 1.9l-0.1 -5.8l5.3 -1.5zM520.8 282.6l-5.3 1l-0.1 -6.3l5.3 -0.5zM515.5 283.6l-5.3 1.4l-0.1 -5l5.3 -2.7zM510.2 285.0l-5.3 2.1l-0.2 -5.1l5.4 -2zM504.9 287.1l-5.4 2.3l-0.1 -5.5l5.3 -1.9zM611.3 262.9l-5.4 -2l-0.1 -3.1l5.3 0.1zM488.8 290.0l-5.4 1.9l-0.1 -3.1l5.3 -2.7zM483.4 291.9l-5.3 3.6l-0.1 -4.9l5.3 -1.8zM621.8 261.6l-5.3 -2l-0.2 -4.7l5.3 2.1zM478.0 290.6l-5.4 4.9l-0.1 -5.1l5.3 -2.6zM472.6 295.5l-5.3 1l-0.1 -1.7l5.3 -4.4zM467.2 294.8l-5.3 1.5l-0.2 -2.8l5.3 -1.7zM461.9 296.3l-5.4 1.8l-0.1 -3l5.3 -1.6zM456.5 298.1l-5.3 2.7l-0.1 -3.4l5.3 -2.3zM451.2 300.8l-5.3 1.1l-0.2 -3.2l5.4 -1.3zM445.7 298.7l-5.3 3.9l-0.1 -2.7l5.3 -1.7zM440.4 302.6l-5.3 1l-0.1 -1.9l5.3 -1.8zM435.1 303.6l-5.3 2l-0.2 -2.7l5.4 -1.2zM429.8 305.6l-5.4 1.4l-0.1 -1.9l5.3 -2.2zM435.0 301.7l-5.4 1.2l-0.1 -0.6l5.3 -1.4zM429.6 302.9l-5.3 2.2l-0.1 -2.3l5.3 -0.5zM424.3 305.1l-5.3 2.8l-0.2 -3.1l5.4 -2zM419.0 307.9l-5.4 1.4l-0.1 -1.4l5.3 -3.1zM413.6 309.3l-5.3 1.6l-0.1 -1.3l5.3 -1.7zM418.8 304.8l-5.3 3.1l-0.1 -2.1l5.3 -1.4zM413.5 307.9l-5.3 1.7l-0.1 -1.9l5.3 -1.9zM408.2 309.6l-5.3 2.8l-0.2 -1.4l5.4 -3.3zM408.1 307.7l-5.4 3.3l-0.1 -1.8l5.3 -1.4zM402.7 311.0l-5.3 1.9l-0.1 -1.9l5.3 -1.8zM397.4 312.9l-5.3 1.8l-0.2 0l5.4 -3.7zM407.9 307.8l-5.3 1.4l-0.1 -1l5.3 -1.8zM402.6 309.2l-5.3 1.8l-0.2 -0.3l5.4 -2.5zM397.3 311.0l-5.4 3.7l-0.1 -1.1l5.3 -2.9zM381.1 318.1l-5.3 2.5l-4 -9l5.3 -2.5zM375.8 320.6l-5.3 2.4l-4 -7l5.3 -4.4zM355.8 319.7l-5.3 3.2l-4.1 -4.5l5.4 -1.6zM346.4 318.4l-5.3 3.4l-4 -3.9l5.3 -3.5zM341.1 321.8l-5.3 2l-4 -3.9l5.3 -2zM337.1 317.9l-5.3 2l-4.1 -2l5.3 -3.5zM331.8 319.9l-5.4 2.5l-4 -2.6l5.3 -1.9zM326.4 322.4l-5.3 2.5l-4 -2.6l5.3 -2.5zM327.7 317.9l-5.3 1.9l-4 -3l5.3 -2.2zM322.4 319.8l-5.3 2.5l-4.1 -2.3l5.4 -3.2zM318.4 316.8l-5.4 3.2l-4 -2.1l5.3 -2.3zM313.0 320.0l-5.3 1.6l-4 -1.9l5.3 -1.8zM314.3 315.6l-5.3 2.3l-4 -3.6l5.3 -2.2zM309.0 317.9l-5.3 1.8l-4.1 -3.2l5.4 -2.2zM303.7 319.7l-5.4 2.7l-4 -2.6l5.3 -3.3zM305.0 314.3l-5.4 2.2l-4 -1.6l5.3 -2zM299.6 316.5l-5.3 3.3l-4 -3.3l5.3 -1.6zM294.3 319.8l-5.3 2.7l-4.1 -2.2l5.4 -3.8zM295.6 314.9l-5.3 1.6l-4.1 -1.3l5.4 -0.4zM290.3 316.5l-5.4 3.8l-4 -2.4l5.3 -2.7zM291.6 314.8l-5.4 0.4l-4 -1l5.3 -2.7zM286.2 315.2l-5.3 2.7l-4 -1.9l5.3 -1.8zM287.5 311.5l-5.3 2.7l-4 -2.7l5.3 -2.1zM282.2 314.2l-5.3 1.8l-4.1 -3.8l5.4 -0.7zM276.9 316.0l-5.4 2.2l-4 -0.4l5.3 -5.6zM283.5 309.4l-5.3 2.1l-4.1 -1.3l5.3 -4zM278.2 311.5l-5.4 0.7l-4 0.6l5.3 -2.6zM272.8 312.2l-5.3 5.6l-4 -2.1l5.3 -2.9zM274.1 310.2l-5.3 2.6l-4 -0.2l5.3 -4.8zM275.4 306.4l-5.3 1.4l-4.1 -1.3l5.4 -3zM270.1 307.8l-5.3 4.8l-4.1 -4.8l5.3 -1.3zM266.0 306.5l-5.3 1.3l-4 -0.1l5.3 -4.5zM260.7 307.8l-5.3 4.4l-4 -4.1l5.3 -0.4zM262.0 303.2l-5.3 4.5l-4.1 -2.7l5.4 -2.7zM256.7 307.7l-5.3 0.4l-4.1 1.1l5.3 -4.2zM258.0 302.3l-5.4 2.7l-4 -2.6l5.3 -1.8zM252.6 305.0l-5.3 4.2l-4 -2.1l5.3 -4.7zM253.9 300.6l-5.3 1.8l-4 -3.1l5.3 0.9zM248.6 302.4l-5.3 4.7l-4.1 -3.9l5.4 -3.9zM249.9 300.2l-5.3 -0.9l-4.1 -0.5l5.4 -4.1zM239.2 303.2l-5.3 2.8l-4 -0.5l5.3 -2.7zM240.5 298.8l-5.3 4l-4 -2.2l5.3 -2.6zM236.5 298.0l-5.3 2.6l-4.1 -0.3l5.4 -2.6zM232.5 297.7l-5.4 2.6l-4 -3.9l5.3 -2.8zM223.1 296.4l-5.3 3.9l-4.1 -3.1l5.4 -1.8zM219.1 295.4l-5.4 1.8l-4 -1.5l5.3 -3zM215.0 292.7l-5.3 3l-4 -2.3l5.3 -1.1zM209.7 295.7l-5.3 2.9l-4.1 -1.1l5.4 -4.1zM211.0 292.3l-5.3 1.1l-4.1 -0.6l5.3 -2.4zM205.7 293.4l-5.4 4.1l-4 -3.1l5.3 -1.6zM212.3 286.4l-5.4 4l-4 -2.2l5.3 -2zM206.9 290.4l-5.3 2.4l-4 -1.8l5.3 -2.8zM208.2 286.2l-5.3 2l-4 -1.8l5.3 -3.5zM202.9 288.2l-5.3 2.8l-4.1 -0.9l5.4 -3.7zM198.9 286.4l-5.4 3.7l-4 -2.6l5.3 -3.8zM194.8 283.7l-5.3 3.8l-4 -0.9l5.3 -4.7zM181.4 283.9l-5.3 1.4l-4 0.4l5.3 -3.9zM177.4 281.8l-5.3 3.9l-4.1 -2.2l5.4 -1.5zM178.7 278.2l-5.3 3.8l-4.1 -3.2l5.4 -4.4zM169.3 278.8l-5.3 1.6l-4 0.8l5.3 -4zM165.3 277.2l-5.3 4l-4.1 -3.6l5.4 -3zM161.3 274.6l-5.4 3l-4 -1.4l5.3 -2.8zM157.2 273.4l-5.3 2.8l-4 -2.3l5.3 -2.7zM153.2 271.2l-5.3 2.7l-4.1 -1.2l5.3 -3.2zM149.1 269.5l-5.3 3.2l-4 -2.5l5.3 -2.3zM145.1 267.9l-5.3 2.3l-4.1 -0.2l5.4 -3.6zM141.1 266.4l-5.4 3.6l-4 -4.5l5.3 -2.6z"/>
<path fill="#00cfff" stroke="#00cfff" d="M579.4 268.0l-5.3 1l-0.1 -4.1l5.3 -0.9zM563.5 271.9l-5.4 0.5l-0.1 -4.4l5.3 -1.2zM558.1 272.4l-5.3 1.9l-0.1 -5.6l5.3 -0.7zM547.5 275.6l-5.3 0.8l-0.2 -4.2l5.3 -1zM542.2 276.4l-5.4 1.6l-0.1 -5.5l5.3 -0.3zM605.9 260.9l-5.3 0.7l-0.1 -5.1l5.3 1.3zM600.6 261.6l-5.3 -0.3l-0.1 -3l5.3 -1.8zM499.4 283.9l-5.3 2.5l-0.2 -3l5.4 -2.9zM494.1 286.4l-5.3 3.6l-0.2 -3.9l5.3 -2.7zM616.5 259.6l-5.4 -1.7l-0.1 -3.3l5.3 0.3zM488.6 286.1l-5.3 2.7l-0.1 -3.6l5.3 -3.1zM483.3 288.8l-5.3 1.8l-0.2 -2.8l5.4 -2.6zM621.6 257.0l-5.3 -2.1l-0.1 -2.8l5.3 1.8zM472.5 290.4l-5.3 4.4l-0.2 -3l5.4 -3.4zM467.0 291.8l-5.3 1.7l-0.1 -1.7l5.3 -1.9zM461.7 293.5l-5.3 1.6l-0.1 -0.6l5.3 -2.7zM456.4 295.1l-5.3 2.3l-0.2 -2.1l5.4 -0.8zM451.1 297.4l-5.4 1.3l-0.1 -0.5l5.3 -2.9zM461.6 291.8l-5.3 2.7l-0.2 -2l5.4 -3zM456.3 294.5l-5.4 0.8l-0.1 -2.1l5.3 -0.7zM450.9 295.3l-5.3 2.9l-0.1 -3l5.3 -2zM445.6 298.2l-5.3 1.7l-0.2 -2.2l5.4 -2.5zM440.3 299.9l-5.3 1.8l-0.2 -0.8l5.3 -3.2zM440.1 297.7l-5.3 3.2l-0.1 -1.9l5.3 -2.4zM434.8 300.9l-5.3 1.4l-0.1 -1.4l5.3 -1.9zM429.5 302.3l-5.3 0.5l-0.2 -0.5l5.4 -1.4zM424.2 302.8l-5.4 2l-0.1 -0.4l5.3 -2.1zM434.7 299.0l-5.3 1.9l-0.2 -2l5.3 -1.8zM429.4 300.9l-5.4 1.4l-0.1 -1.8l5.3 -1.6zM424.0 302.3l-5.3 2.1l-0.1 -1.7l5.3 -2.2zM418.7 304.4l-5.3 1.4l-0.2 -1.5l5.4 -1.6zM413.4 305.8l-5.3 1.9l-0.2 0.1l5.3 -3.5zM418.6 302.7l-5.4 1.6l-0.1 -0.8l5.3 -2.2zM413.2 304.3l-5.3 3.5l-0.1 -1.4l5.3 -2.9zM397.1 310.7l-5.3 2.9l-4 -10.6l5.3 -2.4zM391.8 313.6l-5.3 1.4l-4.1 -9.1l5.4 -2.9zM386.5 315.0l-5.4 3.1l-4 -9l5.3 -3.2zM366.5 316.0l-5.4 0.6l-4 -3.3l5.3 -2.6zM361.1 316.6l-5.3 3.1l-4 -2.9l5.3 -3.5zM357.1 313.3l-5.3 3.5l-4.1 -4.9l5.4 -2.3zM351.8 316.8l-5.4 1.6l-4 -4l5.3 -2.5zM342.4 314.4l-5.3 3.5l-4.1 -3.5l5.4 -1.7zM338.4 312.7l-5.4 1.7l-4 -2.6l5.3 -2.7zM333.0 314.4l-5.3 3.5l-4 -3.3l5.3 -2.8zM329.0 311.8l-5.3 2.8l-4.1 -2.4l5.4 -4.1zM323.7 314.6l-5.3 2.2l-4.1 -1.2l5.3 -3.4zM319.6 312.2l-5.3 3.4l-4 -3.5l5.3 -2.4zM315.6 309.7l-5.3 2.4l-4.1 -4.2l5.4 0.2zM310.3 312.1l-5.3 2.2l-4.1 -1.4l5.3 -5zM311.6 308.1l-5.4 -0.2l-4 0.5l5.3 -3.4zM306.2 307.9l-5.3 5l-4 -3.4l5.3 -1.1zM300.9 312.9l-5.3 2l-4 -0.1l5.3 -5.3zM302.2 308.4l-5.3 1.1l-4.1 -0.3l5.4 -3.3zM296.9 309.5l-5.3 5.3l-4.1 -3.3l5.3 -2.3zM298.2 305.9l-5.4 3.3l-4 -2.8l5.3 -3.6zM292.8 309.2l-5.3 2.3l-4 -2.1l5.3 -3zM288.8 306.4l-5.3 3l-4.1 -3.2l5.4 -0.6zM284.8 305.6l-5.4 0.6l-4 0.2l5.3 -3.9zM279.4 306.2l-5.3 4l-4 -2.4l5.3 -1.4zM280.7 302.5l-5.3 3.9l-4 -2.9l5.3 -2.9zM276.7 300.6l-5.3 2.9l-4.1 -2.5l5.4 -3zM271.4 303.5l-5.4 3l-4 -3.3l5.3 -2.2zM267.3 301.0l-5.3 2.2l-4 -0.9l5.3 -2.2zM263.3 300.1l-5.3 2.2l-4.1 -1.7l5.4 -5.2zM259.3 295.4l-5.4 5.2l-4 -0.4l5.3 -4.5zM255.2 295.7l-5.3 4.5l-4 -5.5l5.3 -0.5zM244.6 299.3l-5.4 3.9l-4 -0.4l5.3 -4zM251.2 294.2l-5.3 0.5l-4.1 -1l5.3 -2zM245.9 294.7l-5.4 4.1l-4 -0.8l5.3 -4.3zM247.1 291.7l-5.3 2l-4 -0.8l5.3 -2.7zM241.8 293.7l-5.3 4.3l-4 -0.3l5.3 -4.8zM243.1 290.2l-5.3 2.7l-4.1 -2.3l5.4 -2.2zM237.8 292.9l-5.3 4.8l-4.1 -4.1l5.3 -3zM239.1 288.4l-5.4 2.2l-4 -2.3l5.3 -2zM233.7 290.6l-5.3 3l-4 -2.4l5.3 -2.9zM228.4 293.6l-5.3 2.8l-4 -1l5.3 -4.2zM229.7 288.3l-5.3 2.9l-4.1 -0.8l5.4 -3zM224.4 291.2l-5.3 4.2l-4.1 -2.7l5.3 -2.3zM225.7 287.4l-5.4 3l-4 -2.6l5.3 -3.2zM220.3 290.4l-5.3 2.3l-4 -0.4l5.3 -4.5zM221.6 284.6l-5.3 3.2l-4 -1.4l5.3 -3.7zM216.3 287.8l-5.3 4.5l-4.1 -1.9l5.4 -4zM217.6 282.7l-5.3 3.7l-4.1 -0.2l5.4 -4.3zM213.6 281.9l-5.4 4.3l-4 -3.3l5.3 -2.5zM209.5 280.4l-5.3 2.5l-4 -1.6l5.3 -3.7zM204.2 282.9l-5.3 3.5l-4.1 -2.7l5.4 -2.4zM200.2 281.3l-5.4 2.4l-4 -1.8l5.3 -1.6zM196.1 280.3l-5.3 1.6l-4 -2.2l5.3 -1.2zM190.8 281.9l-5.3 4.7l-4.1 -2.7l5.4 -4.2zM192.1 278.5l-5.3 1.2l-4.1 -2.3l5.4 -1.4zM186.8 279.7l-5.4 4.2l-4 -2.1l5.3 -4.4zM188.1 276.0l-5.4 1.4l-4 0.8l5.3 -4.4zM182.7 277.4l-5.3 4.4l-4 0.2l5.3 -3.8zM184.0 273.8l-5.3 4.4l-4 -3.8l5.3 -2.2zM180.0 272.2l-5.3 2.2l-4.1 -1.6l5.3 -2.7zM174.7 274.4l-5.4 4.4l-4 -1.6l5.3 -4.4zM175.9 270.1l-5.3 2.7l-4 -0.6l5.3 -3.6zM170.6 272.8l-5.3 4.4l-4 -2.6l5.3 -2.4zM171.9 268.6l-5.3 3.6l-4.1 -3.6l5.4 -2.5zM166.6 272.2l-5.3 2.4l-4.1 -1.2l5.3 -4.8zM162.5 268.6l-5.3 4.8l-4 -2.2l5.3 -3.7zM158.5 267.5l-5.3 3.7l-4.1 -1.7l5.4 -4.4zM154.5 265.1l-5.4 4.4l-4 -1.6l5.3 -2.2zM150.4 265.7l-5.3 2.2l-4 -1.5l5.3 -8.2zM142.4 260.3l-5.4 2.6l-4 -1.8l5.3 -3.4zM137.0 262.9l-5.3 2.6l-4 -0.5l5.3 -3.9zM133.0 261.1l-5.3 3.9l-4.1 -2l5.4 -4.1zM129.0 258.9l-5.4 4.1l-4 -2.1l5.3 -2.9zM130.2 254.3l-5.3 3.7l-4 -3.8l5.3 -0.3zM124.9 258.0l-5.3 2.9l-4 -0.1l5.3 -6.6zM126.2 253.9l-5.3 0.3l-4.1 0.6l5.4 -4zM120.9 254.2l-5.3 6.6l-4.1 -4.6l5.3 -1.4zM116.8 254.8l-5.3 1.4l-4 -0.6l5.3 -4.6zM108.8 248.8l-5.4 7.6l-4 -4.2l5.3 -3.6zM104.7 248.6l-5.3 3.6l-4 -1.1l5.3 -5.4zM100.7 245.7l-5.3 5.4l-4.1 -2.6l5.4 -3zM96.7 245.5l-5.4 3l-4 -3.7l5.3 -2.3zM92.6 242.5l-5.3 2.3l-4 0.4l5.3 -2.9zM88.6 242.3l-5.3 2.9l-4.1 -4.2l5.4 -1.7z"/>
<path fill="#00dfff" stroke="#00dfff" d="M595.3 261.3l-5.3 0.6l-0.2 -4.2l5.4 0.6zM590.0 261.9l-5.4 0.8l-0.1 -4.4l5.3 -0.6zM584.6 262.7l-5.3 1.3l-0.1 -4.6l5.3 -1.1zM579.3 264.0l-5.3 0.9l-0.2 -4.3l5.4 -1.2zM574.0 264.9l-5.3 1.1l-0.2 -5l5.3 -0.4zM568.7 266.0l-5.4 0.8l-0.1 -4.4l5.3 -1.4zM563.3 266.8l-5.3 1.2l-0.1 -3.8l5.3 -1.8zM558.0 268.0l-5.3 0.7l-0.2 -4.2l5.4 -0.3zM552.7 268.7l-5.4 2.5l-0.1 -6.4l5.3 -0.3zM547.3 271.2l-5.3 1l-0.1 -4.4l5.3 -3zM542.0 272.2l-5.3 0.3l-0.1 -4.6l5.3 -0.1zM536.7 272.5l-5.3 1l-0.2 -4.4l5.4 -1.2zM531.4 273.5l-5.4 1.8l-0.1 -4.3l5.3 -1.9zM526.0 275.3l-5.3 1.5l-0.1 -5l5.3 -0.8zM520.7 276.8l-5.3 0.5l-0.1 -4l5.3 -1.5zM515.4 277.3l-5.3 2.7l-0.2 -4.6l5.4 -2.1zM510.1 280.0l-5.4 2l-0.1 -4.8l5.3 -1.8zM504.7 282.0l-5.3 1.9l-0.1 -3.4l5.3 -3.3zM611.1 257.9l-5.3 -0.1l-0.1 -4.4l5.3 1.2zM605.8 257.8l-5.3 -1.3l-0.2 -4l5.4 0.9zM499.3 280.5l-5.4 2.9l-0.1 -4.2l5.3 -3.2zM493.9 283.4l-5.3 2.7l-0.1 -4l5.3 -2.9zM616.3 254.9l-5.3 -0.3l-0.1 -4.1l5.3 1.6zM483.2 285.2l-5.4 2.6l-0.1 -2l5.3 -3.4zM477.8 287.8l-5.3 2.6l-0.1 -2l5.3 -2.6zM621.5 253.9l-5.3 -1.8l-0.1 -3.6l5.3 2.1zM477.7 285.8l-5.3 2.6l-0.2 -2.6l5.4 -3.1zM472.4 288.4l-5.4 3.4l-0.1 -1.9l5.3 -4.1zM472.2 285.8l-5.3 4.1l-0.1 -3.2l5.3 -2.7zM466.9 289.9l-5.3 1.9l-0.1 -2.3l5.3 -2.8zM461.5 289.5l-5.4 3l-0.1 -2.5l5.3 -1.9zM456.1 292.5l-5.3 0.7l-0.1 -1.1l5.3 -2.1zM450.8 293.2l-5.3 2l-0.2 -1.5l5.4 -1.6zM445.5 295.2l-5.4 2.5l-0.1 -1.1l5.3 -2.9zM450.7 292.1l-5.4 1.6l-0.1 -1l5.3 -1.6zM445.3 293.7l-5.3 2.9l-0.1 -1.7l5.3 -2.2zM440.0 296.6l-5.3 2.4l-0.2 -1.9l5.4 -2.2zM445.2 292.7l-5.3 2.2l-0.2 -1.1l5.4 -2.9zM439.9 294.9l-5.4 2.2l-0.1 -1.3l5.3 -2zM434.5 297.1l-5.3 1.8l-0.1 -1.2l5.3 -1.9zM429.2 298.9l-5.3 1.6l-0.1 0.2l5.3 -3zM423.9 300.5l-5.3 2.2l-0.2 -1.4l5.4 -0.6zM407.8 306.4l-5.3 1.8l-4.1 -10.9l5.3 -2.2zM402.5 308.2l-5.4 2.5l-4 -10.1l5.3 -3.3zM377.1 309.1l-5.3 2.5l-4.1 -4.4l5.4 -2.8zM371.8 311.6l-5.3 4.4l-4.1 -5.3l5.3 -3.5zM367.7 307.2l-5.3 3.5l-4 -4.5l5.3 -2.4zM362.4 310.7l-5.3 2.6l-4 -3.7l5.3 -3.4zM353.1 309.6l-5.4 2.3l-4 -3.6l5.3 -2.6zM347.7 311.9l-5.3 2.5l-4 -1.7l5.3 -4.4zM349.0 305.7l-5.3 2.6l-4 -2.1l5.3 -1.9zM343.7 308.3l-5.3 4.4l-4.1 -3.6l5.4 -2.9zM339.7 306.2l-5.4 2.9l-4 -3l5.3 -3.1zM334.3 309.1l-5.3 2.7l-4 -3.7l5.3 -2zM330.3 306.1l-5.3 2l-4.1 -2.6l5.4 -2.4zM325.0 308.1l-5.4 4.1l-4 -2.5l5.3 -4.2zM326.3 303.1l-5.4 2.4l-4 -2.1l5.3 -1.6zM320.9 305.5l-5.3 4.2l-4 -1.6l5.3 -4.7zM316.9 303.4l-5.3 4.7l-4.1 -3.1l5.4 -3.7zM312.9 301.3l-5.4 3.7l-4 -2.9l5.3 -2.5zM307.5 305.0l-5.3 3.4l-4 -2.5l5.3 -3.8zM303.5 302.1l-5.3 3.8l-4.1 -3.1l5.4 -1.8zM299.5 301.0l-5.4 1.8l-4 -2.9l5.3 -1.7zM294.1 302.8l-5.3 3.6l-4 -0.8l5.3 -5.7zM295.4 298.2l-5.3 1.7l-4 -1l5.3 -2.4zM290.1 299.9l-5.3 5.7l-4.1 -3.1l5.4 -3.6zM291.4 296.5l-5.3 2.4l-4.1 -0.6l5.3 -3.2zM286.1 298.9l-5.4 3.6l-4 -1.9l5.3 -2.3zM287.3 295.1l-5.3 3.2l-4 -3.5l5.3 -1.1zM282.0 298.3l-5.3 2.3l-4 -2.6l5.3 -3.2zM283.3 293.7l-5.3 1.1l-4.1 -3.6l5.4 -0.4zM278.0 294.8l-5.3 3.2l-4.1 -2.3l5.3 -4.5zM272.7 298.0l-5.4 3l-4 -0.9l5.3 -4.4zM268.6 295.7l-5.3 4.4l-4 -4.7l5.3 -1.6zM264.6 293.8l-5.3 1.6l-4.1 0.3l5.3 -3.9zM265.9 289.2l-5.4 2.6l-4 0.4l5.3 -4.5zM260.5 291.8l-5.3 3.9l-4 -1.5l5.3 -2zM261.8 287.7l-5.3 4.5l-4 -4.4l5.3 -2zM256.5 292.2l-5.3 2l-4.1 -2.5l5.4 -3.9zM252.5 287.8l-5.4 3.9l-4 -1.5l5.3 -4.7zM248.4 285.5l-5.3 4.7l-4 -1.8l5.3 -4zM244.4 284.4l-5.3 4l-4.1 -2.1l5.4 -3.1zM240.4 283.2l-5.4 3.1l-4 -1.6l5.3 -4zM235.0 286.3l-5.3 2l-4 -0.9l5.3 -2.7zM231.0 284.7l-5.3 2.7l-4.1 -2.8l5.4 -2.2zM227.0 282.4l-5.4 2.2l-4 -1.9l5.3 -2.7zM222.9 280.0l-5.3 2.7l-4 -0.8l5.3 -3zM224.2 276.3l-5.3 2.6l-4 -4l5.3 -1.8zM218.9 278.9l-5.3 3l-4.1 -1.5l5.4 -5.5zM214.9 274.9l-5.4 5.5l-4 -2.8l5.3 -2.1zM210.8 275.5l-5.3 2.1l-4 -3.2l5.3 -1.6zM205.5 277.6l-5.3 3.7l-4.1 -1l5.4 -5.9zM206.8 272.8l-5.3 1.6l-4.1 0.3l5.3 -3zM201.5 274.4l-5.4 5.9l-4 -1.8l5.3 -3.8zM202.7 271.7l-5.3 3l-4 -3.2l5.3 -4.1zM197.4 274.7l-5.3 3.8l-4 -2.5l5.3 -4.5zM193.4 271.5l-5.3 4.5l-4.1 -2.2l5.3 -4.2zM189.3 269.6l-5.3 4.2l-4 -1.6l5.3 -3.2zM185.3 269.0l-5.3 3.2l-4.1 -2.1l5.4 -3.4zM181.3 266.7l-5.4 3.4l-4 -1.5l5.3 -3.3zM177.2 265.3l-5.3 3.3l-4 -2.5l5.3 -2.4zM173.2 263.7l-5.3 2.4l-4.1 -2.4l5.4 -2.8zM167.9 266.1l-5.4 2.5l-4 -1.1l5.3 -3.8zM169.2 260.9l-5.4 2.8l-4 -2.3l5.3 -3zM163.8 263.7l-5.3 3.8l-4 -2.4l5.3 -3.7zM159.8 261.4l-5.3 3.7l-4.1 0.6l5.4 -5.9zM155.8 259.8l-5.4 5.9l-4 -7.5l5.3 0.5zM151.7 258.7l-5.3 -0.5l-4 2.1l5.3 -3.4zM146.4 258.2l-5.3 8.2l-4.1 -3.5l5.4 -2.6zM147.7 256.9l-5.3 3.4l-4.1 -2.6l5.3 -3.5zM143.6 254.2l-5.3 3.5l-4 -2l5.3 -4zM138.3 257.7l-5.3 3.4l-4 -2.2l5.3 -3.2zM134.3 255.7l-5.3 3.2l-4.1 -0.9l5.3 -3.7zM122.2 250.8l-5.4 4l-4 -3.8l5.3 -1.8zM118.1 249.2l-5.3 1.8l-4 -2.2l5.3 -0.8zM112.8 251.0l-5.3 4.6l-4.1 0.8l5.4 -7.6zM114.1 248.0l-5.3 0.8l-4.1 -0.2l5.4 -2.2zM110.1 246.4l-5.4 2.2l-4 -2.9l5.3 -3.1zM106.0 242.6l-5.3 3.1l-4 -0.2l5.3 -4.4zM102.0 241.1l-5.3 4.4l-4.1 -3l5.4 -2.2zM98.0 240.3l-5.4 2.2l-4 -0.2l5.3 -4.2zM93.9 238.1l-5.3 4.2l-4 -3l5.3 -4.1zM84.6 239.3l-5.4 1.7l-4 -2.1l5.3 -1.6zM80.5 237.3l-5.3 1.6l-4 0.4l5.3 -3.9zM76.5 235.4l-5.3 3.9l-4.1 -2.3l5.3 -3.6zM72.4 233.4l-5.3 3.6l-4 -1.6l5.3 -3.3zM68.4 232.1l-5.3 3.3l-4.1 -2.2l5.4 -4.5z"/>
<path fill="#00efff" stroke="#00efff" d="M600.5 256.5l-5.3 1.8l-0.2 -5l5.3 -0.8zM595.2 258.3l-5.4 -0.6l-0.1 -4.3l5.3 -0.1zM589.8 257.7l-5.3 0.6l-0.1 -3.8l5.3 -1.1zM584.5 258.3l-5.3 1.1l-0.2 -4.9l5.4 0zM579.2 259.4l-5.4 1.2l-0.1 -3.9l5.3 -2.2zM509.9 275.4l-5.3 1.8l-0.1 -3.5l5.3 -2zM504.6 277.2l-5.3 3.3l-0.2 -4.5l5.4 -2.3zM611.0 254.6l-5.3 -1.2l-0.2 -3.4l5.4 0.5zM493.8 279.2l-5.3 2.9l-0.1 -2.5l5.3 -2.6zM488.5 282.1l-5.3 3.1l-0.2 -2.8l5.4 -2.8zM616.2 252.1l-5.3 -1.6l-0.2 -4l5.4 2zM488.4 279.6l-5.4 2.8l-0.1 -2l5.3 -3.2zM483.0 282.4l-5.3 3.4l-0.1 -3.1l5.3 -2.3zM621.4 250.6l-5.3 -2.1l-0.2 -3.2l5.3 1.3zM477.6 282.7l-5.4 3.1l-0.1 -1.8l5.3 -3zM472.1 284.0l-5.3 2.7l-0.2 -1.5l5.4 -2.2zM466.8 286.7l-5.3 2.8l-0.2 -1.4l5.3 -2.9zM466.6 285.2l-5.3 2.9l-0.1 -2.9l5.3 -1.2zM461.3 288.1l-5.3 1.9l-0.1 -1.7l5.3 -3.1zM456.0 290.0l-5.3 2.1l-0.2 -1l5.4 -2.8zM455.9 288.3l-5.4 2.8l-0.1 -1.5l5.3 -3.1zM450.5 291.1l-5.3 1.6l-0.1 -1.8l5.3 -1.3zM423.8 300.7l-5.4 0.6l-4 -10.9l5.3 -3.2zM418.4 301.3l-5.3 2.2l-4 -10.2l5.3 -2.9zM413.1 303.5l-5.3 2.9l-4.1 -11.3l5.4 -1.8zM387.8 303.0l-5.4 2.9l-4 -4.3l5.3 -2.6zM382.4 305.9l-5.3 3.2l-4 -4.7l5.3 -2.8zM378.4 301.6l-5.3 2.8l-4.1 -4.3l5.4 -1.9zM373.1 304.4l-5.4 2.8l-4 -3.4l5.3 -3.7zM363.7 303.8l-5.3 2.4l-4.1 -3.3l5.4 -3.2zM358.4 306.2l-5.3 3.4l-4.1 -3.9l5.3 -2.8zM354.3 302.9l-5.3 2.8l-4 -1.4l5.3 -4.8zM345.0 304.3l-5.3 1.9l-4.1 -3.2l5.3 -3.2zM340.9 299.8l-5.3 3.2l-4 -2.4l5.3 -3.2zM335.6 303.0l-5.3 3.1l-4 -3l5.3 -2.5zM331.6 300.6l-5.3 2.5l-4.1 -1.3l5.3 -4.3zM327.5 297.5l-5.3 4.3l-4 -3.9l5.3 -2.6zM322.2 301.8l-5.3 1.6l-4 -2.1l5.3 -3.4zM318.2 297.9l-5.3 3.4l-4.1 -1.7l5.3 -3.9zM314.1 295.7l-5.3 3.9l-4 -2.8l5.3 -3.9zM308.8 299.6l-5.3 2.5l-4 -1.1l5.3 -4.2zM304.8 296.8l-5.3 4.2l-4.1 -2.8l5.3 -3.2zM300.7 295.0l-5.3 3.2l-4 -1.7l5.3 -3.4zM296.7 293.1l-5.3 3.4l-4.1 -1.4l5.4 -4.7zM292.7 290.4l-5.4 4.7l-4 -1.4l5.3 -4.3zM288.6 289.4l-5.3 4.3l-4 -2.9l5.3 -3.8zM279.3 290.8l-5.4 0.4l-4 -1l5.3 -3.3zM273.9 291.2l-5.3 4.5l-4 -1.9l5.3 -3.6zM275.2 286.9l-5.3 3.3l-4 -1l5.3 -2.7zM269.9 290.2l-5.3 3.6l-4.1 -2l5.4 -2.6zM271.2 286.5l-5.3 2.7l-4.1 -1.5l5.4 -4.2zM267.2 283.5l-5.4 4.2l-4 -1.9l5.3 -4.2zM263.1 281.6l-5.3 4.2l-4 -2.4l5.3 -3.2zM257.8 285.8l-5.3 2l-4.1 -2.3l5.4 -2.1zM253.8 283.4l-5.4 2.1l-4 -1.1l5.3 -2.7zM249.7 281.7l-5.3 2.7l-4 -1.2l5.3 -4.9zM245.7 278.3l-5.3 4.9l-4.1 -2.5l5.4 -2.2zM241.7 278.5l-5.4 2.2l-4 -2.9l5.3 -2.2zM236.3 280.7l-5.3 4l-4 -2.3l5.3 -4.6zM237.6 275.6l-5.3 2.2l-4 -1.6l5.3 -3.1zM232.3 277.8l-5.3 4.6l-4.1 -2.4l5.4 -3.8zM233.6 273.1l-5.3 3.1l-4.1 0.1l5.3 -4.2zM228.3 276.2l-5.4 3.8l-4 -1.1l5.3 -2.6zM229.5 272.1l-5.3 4.2l-4 -3.2l5.3 -3.5zM220.2 273.1l-5.3 1.8l-4.1 0.6l5.3 -4.4zM216.1 271.1l-5.3 4.4l-4 -2.7l5.3 -4.1zM212.1 268.7l-5.3 4.1l-4.1 -1.1l5.4 -3.9zM208.1 267.8l-5.4 3.9l-4 -4.3l5.3 -1.9zM204.0 265.5l-5.3 1.9l-4 -1l5.3 -2.8zM198.7 267.4l-5.3 4.1l-4.1 -1.9l5.4 -3.2zM200.0 263.6l-5.3 2.8l-4.1 -1.5l5.4 -4.2zM194.7 266.4l-5.4 3.2l-4 -0.6l5.3 -4.1zM190.6 264.9l-5.3 4.1l-4 -2.3l5.3 -4.4zM186.6 262.3l-5.3 4.4l-4.1 -1.4l5.4 -3.3zM182.6 262.0l-5.4 3.3l-4 -1.6l5.3 -4.2zM178.5 259.5l-5.3 4.2l-4 -2.8l5.3 -4.9zM174.5 256.0l-5.3 4.9l-4.1 -2.5l5.3 -2.7zM170.4 255.7l-5.3 2.7l-4 -2.5l5.3 -4.6zM165.1 258.4l-5.3 3l-4 -1.6l5.3 -3.9zM161.1 255.9l-5.3 3.9l-4.1 -1.1l5.3 -4.7zM162.4 251.7l-5.4 2.3l-4 -2.2l5.3 -0.4zM157.0 254.0l-5.3 4.7l-4 -1.8l5.3 -5.1zM158.3 251.4l-5.3 0.4l-4 -1.3l5.3 -2.1zM153.0 251.8l-5.3 5.1l-4.1 -2.7l5.4 -3.7zM149.0 250.5l-5.4 3.7l-4 -2.5l5.3 -1.5zM144.9 250.2l-5.3 1.5l-4 -2.7l5.3 -3.8zM139.6 251.7l-5.3 4l-4.1 -1.4l5.4 -5.3zM140.9 245.2l-5.3 3.8l-4.1 -1.5l5.4 -1zM135.6 249.0l-5.4 5.3l-4 -0.4l5.3 -6.4zM136.9 246.5l-5.4 1l-4 0.4l5.3 -5.6zM131.5 247.5l-5.3 6.4l-4 -3.1l5.3 -2.9zM127.5 247.9l-5.3 2.9l-4.1 -1.6l5.4 -5.3zM123.5 243.9l-5.4 5.3l-4 -1.2l5.3 -4.1zM119.4 243.9l-5.3 4.1l-4 -1.6l5.3 -5.2zM120.7 239.6l-5.3 1.6l-4 -1.7l5.3 -5.1zM115.4 241.2l-5.3 5.2l-4.1 -3.8l5.4 -3.1zM111.4 239.5l-5.4 3.1l-4 -1.5l5.3 -4.1zM107.3 237.0l-5.3 4.1l-4 -0.8l5.3 -3.8zM103.3 236.5l-5.3 3.8l-4.1 -2.2l5.3 -4.8zM99.2 233.3l-5.3 4.8l-4 -2.9l5.3 -4.4zM89.9 235.2l-5.3 4.1l-4.1 -2l5.3 -3.6zM85.8 233.7l-5.3 3.6l-4 -1.9l5.3 -4zM81.8 231.4l-5.3 4l-4.1 -2l5.4 -2.9zM77.8 230.5l-5.4 2.9l-4 -1.3l5.3 -5.1zM73.7 227.0l-5.3 5.1l-4 -3.4l5.3 -2.9z"/>
<path fill="#00ffff" stroke="#00ffff" d="M573.8 260.6l-5.3 0.4l-0.1 -2.6l5.3 -1.7zM568.5 261.0l-5.3 1.4l-0.1 -2.8l5.3 -1.2zM563.2 262.4l-5.3 1.8l-0.2 -3.5l5.4 -1.1zM557.9 264.2l-5.4 0.3l-0.1 -3l5.3 -0.8zM552.5 264.5l-5.3 0.3l-0.1 -2l5.3 -1.3zM547.2 264.8l-5.3 3l-0.1 -4.4l5.3 -0.6zM541.9 267.8l-5.3 0.1l-0.2 -2.9l5.4 -1.6zM536.6 267.9l-5.4 1.2l-0.1 -3.2l5.3 -0.9zM531.2 269.1l-5.3 1.9l-0.1 -4.3l5.3 -0.8zM525.9 271.0l-5.3 0.8l-0.2 -3.1l5.4 -2zM520.6 271.8l-5.3 1.5l-0.2 -2.1l5.3 -2.5zM515.3 273.3l-5.4 2.1l-0.1 -3.7l5.3 -0.5zM605.7 253.4l-5.4 -0.9l-0.1 -3l5.3 0.5zM600.3 252.5l-5.3 0.8l-0.1 -4l5.3 0.2zM595.0 253.3l-5.3 0.1l-0.1 -2.2l5.3 -1.9zM504.5 273.7l-5.4 2.3l-0.1 -2.6l5.3 -2zM499.1 276.0l-5.3 3.2l-0.1 -2.2l5.3 -3.6zM610.9 250.5l-5.4 -0.5l-0.1 -3.1l5.3 -0.4zM493.7 277.0l-5.3 2.6l-0.2 -2.4l5.3 -2.2zM488.2 277.2l-5.3 3.2l-0.1 -2.5l5.3 -3.3zM482.9 280.4l-5.3 2.3l-0.2 -1.7l5.4 -3.1zM482.8 277.9l-5.4 3.1l-0.1 -1.1l5.3 -3.1zM477.4 281.0l-5.3 3l-0.1 -1l5.3 -3.1zM477.3 279.9l-5.3 3.1l-0.2 -1.9l5.4 -2.5zM472.0 283.0l-5.4 2.2l-0.1 -1.2l5.3 -2.9zM471.8 281.1l-5.3 2.9l-0.1 -2l5.3 -1.6zM466.5 284.0l-5.3 1.2l-0.2 -0.3l5.4 -2.9zM461.2 285.2l-5.3 3.1l-0.2 -1.8l5.3 -1.6zM439.7 293.8l-5.3 2l-4 -12.6l5.3 -1.9zM434.4 295.8l-5.3 1.9l-4 -11.7l5.3 -2.8zM429.1 297.7l-5.3 3l-4.1 -13.5l5.4 -1.2zM398.4 297.3l-5.3 3.3l-4 -6.8l5.3 -1.2zM393.1 300.6l-5.3 2.4l-4.1 -4l5.4 -5.2zM383.7 299.0l-5.3 2.6l-4 -3.4l5.3 -4.3zM374.4 298.2l-5.4 1.9l-4 -4l5.3 -3.1zM369.0 300.1l-5.3 3.7l-4 -4.1l5.3 -3.6zM359.7 299.7l-5.4 3.2l-4 -3.4l5.3 -1.6zM355.6 297.9l-5.3 1.6l-4 -3.2l5.3 -2.1zM350.3 299.5l-5.3 4.8l-4.1 -4.5l5.4 -3.5zM346.3 296.3l-5.4 3.5l-4 -2.4l5.3 -2.9zM342.2 294.5l-5.3 2.9l-4 -3.2l5.3 -3zM336.9 297.4l-5.3 3.2l-4.1 -3.1l5.4 -3.3zM332.9 294.2l-5.4 3.3l-4 -2.2l5.3 -2.8zM328.8 292.5l-5.3 2.8l-4 -3.3l5.3 -2.7zM323.5 295.3l-5.3 2.6l-4.1 -2.2l5.4 -3.7zM319.5 292.0l-5.4 3.7l-4 -2.8l5.3 -2.9zM315.4 290.0l-5.3 2.9l-4 -1.2l5.3 -2.9zM310.1 292.9l-5.3 3.9l-4.1 -1.8l5.4 -3.3zM311.4 288.8l-5.3 2.9l-4.1 -3.6l5.4 -2.6zM306.1 291.7l-5.4 3.3l-4 -1.9l5.3 -5zM302.0 288.1l-5.3 5l-4 -2.7l5.3 -4zM298.0 286.4l-5.3 4l-4.1 -1l5.4 -3.9zM294.0 285.5l-5.4 3.9l-4 -2.4l5.3 -4.8zM284.6 287.0l-5.3 3.8l-4.1 -3.9l5.4 -2.8zM280.6 284.1l-5.4 2.8l-4 -0.4l5.3 -4.5zM276.5 282.0l-5.3 4.5l-4 -3l5.3 -2.9zM272.5 280.6l-5.3 2.9l-4.1 -1.9l5.4 -3zM268.5 278.6l-5.4 3l-4 -1.4l5.3 -3zM264.4 277.2l-5.3 3l-4 -3.4l5.3 -2.3zM259.1 280.2l-5.3 3.2l-4.1 -1.7l5.4 -4.9zM260.4 274.5l-5.3 2.3l-4.1 -2.3l5.3 -1.5zM255.1 276.8l-5.4 4.9l-4 -3.4l5.3 -3.8zM251.0 274.5l-5.3 3.8l-4 0.2l5.3 -2.8zM247.0 275.7l-5.3 2.8l-4.1 -2.9l5.3 -4.1zM242.9 271.5l-5.3 4.1l-4 -2.5l5.3 -2zM244.2 268.8l-5.3 2.3l-4 -4.1l5.3 -2.4zM238.9 271.1l-5.3 2l-4.1 -1l5.4 -5.1zM234.9 267.0l-5.4 5.1l-4 -2.5l5.3 -2.2zM230.8 267.4l-5.3 2.2l-4 -2.5l5.3 -1.6zM225.5 269.6l-5.3 3.5l-4.1 -2l5.4 -4zM226.8 265.5l-5.3 1.6l-4.1 -0.8l5.4 -3.9zM221.5 267.1l-5.4 4l-4 -2.4l5.3 -2.4zM217.4 266.3l-5.3 2.4l-4 -0.9l5.3 -3zM213.4 264.8l-5.3 3l-4.1 -2.3l5.4 -2.4zM214.7 260.3l-5.3 2.8l-4.1 -2l5.3 -3.3zM209.4 263.1l-5.4 2.4l-4 -1.9l5.3 -2.5zM205.3 261.1l-5.3 2.5l-4 -2.9l5.3 -3.2zM201.3 257.5l-5.3 3.2l-4.1 -1.6l5.3 -3.3zM196.0 260.7l-5.4 4.2l-4 -2.6l5.3 -3.2zM197.2 255.8l-5.3 3.3l-4 -1.4l5.3 -3.9zM191.9 259.1l-5.3 3.2l-4 -0.3l5.3 -4.3zM187.9 257.7l-5.3 4.3l-4.1 -2.5l5.3 -3zM183.8 256.5l-5.3 3l-4 -3.5l5.3 -3.1zM179.8 252.9l-5.3 3.1l-4.1 -0.3l5.4 -4.3zM175.8 251.4l-5.4 4.3l-4 -4.4l5.3 -2.2zM171.7 249.1l-5.3 2.2l-4 0.4l5.3 -3.5zM166.4 251.3l-5.3 4.6l-4.1 -1.9l5.4 -2.3zM167.7 248.2l-5.3 3.5l-4.1 -0.3l5.4 -4.4zM163.7 247.0l-5.4 4.4l-4 -3l5.3 -4.4zM154.3 248.4l-5.3 2.1l-4.1 -0.3l5.4 -4.9zM150.3 245.3l-5.4 4.9l-4 -5l5.3 -1.4zM146.2 243.8l-5.3 1.4l-4 1.3l5.3 -4zM142.2 242.5l-5.3 4l-4.1 -4.2l5.4 -2.5zM138.2 239.8l-5.4 2.5l-4 -1.4l5.3 -4zM132.8 242.3l-5.3 5.6l-4 -4l5.3 -3zM134.1 236.9l-5.3 4l-4 -2.6l5.3 -2.4zM128.8 240.9l-5.3 3l-4.1 0l5.4 -5.6zM130.1 235.9l-5.3 2.4l-4.1 1.3l5.3 -5.9zM124.8 238.3l-5.4 5.6l-4 -2.7l5.3 -1.6zM126.0 233.7l-5.3 5.9l-4 -5.2l5.3 -1.5zM122.0 232.9l-5.3 1.5l-4.1 -1.2l5.4 -2.9zM116.7 234.4l-5.3 5.1l-4.1 -2.5l5.3 -3.8zM112.6 233.2l-5.3 3.8l-4 -0.5l5.3 -4.3zM108.6 232.2l-5.3 4.3l-4.1 -3.2l5.4 -3.7zM104.6 229.6l-5.4 3.7l-4 -2.5l5.3 -3.5zM100.5 227.3l-5.3 3.5l-4 -2.1l5.3 -3zM95.2 230.8l-5.3 4.4l-4.1 -1.5l5.4 -5zM96.5 225.7l-5.3 3l-4.1 -1.5l5.4 -3zM91.2 228.7l-5.4 5l-4 -2.3l5.3 -4.2zM87.1 227.2l-5.3 4.2l-4 -0.9l5.3 -6.1zM83.1 224.4l-5.3 6.1l-4.1 -3.5l5.4 -3.7zM79.1 223.3l-5.4 3.7l-4 -1.2l5.3 -5.5z"/>
<path fill="#10ffef" stroke="#10ffef" d="M589.7 253.4l-5.3 1.1l-0.2 -2.7l5.4 -0.6zM584.4 254.5l-5.4 0l-0.1 -2.7l5.3 0zM579.0 254.5l-5.3 2.2l-0.1 -2.8l5.3 -2.1zM573.7 256.7l-5.3 1.7l-0.2 -5l5.4 0.5zM568.4 258.4l-5.3 1.2l-0.2 -4.2l5.3 -2zM563.1 259.6l-5.4 1.1l-0.1 -3.8l5.3 -1.5zM557.7 260.7l-5.3 0.8l-0.1 -3.5l5.3 -1.1zM552.4 261.5l-5.3 1.3l-0.2 -3.6l5.4 -1.2zM547.1 262.8l-5.3 0.6l-0.2 -2.6l5.3 -1.6zM541.8 263.4l-5.4 1.6l-0.1 -3.3l5.3 -0.9zM536.4 265.0l-5.3 0.9l-0.1 -3.2l5.3 -1zM531.1 265.9l-5.3 0.8l-0.2 -2.7l5.4 -1.3zM525.8 266.7l-5.4 2l-0.1 -2.5l5.3 -2.2zM520.4 268.7l-5.3 2.5l-0.1 -3.9l5.3 -1.1zM515.1 271.2l-5.3 0.5l-0.1 -2.9l5.3 -1.5zM509.8 271.7l-5.3 2l-0.2 -2.3l5.4 -2.6zM605.5 250.0l-5.3 -0.5l-0.1 -2.2l5.3 -0.4zM600.2 249.5l-5.3 -0.2l-0.2 -2.1l5.4 0.1zM594.9 249.3l-5.3 1.9l-0.2 -3.1l5.3 -0.9zM589.6 251.2l-5.4 0.6l-0.1 -2.9l5.3 -0.8zM509.7 268.8l-5.4 2.6l-0.1 -3.4l5.3 -1.4zM504.3 271.4l-5.3 2l-0.1 -1.2l5.3 -4.2zM499.0 273.4l-5.3 3.6l-0.2 -2l5.4 -2.8zM616.1 248.5l-5.4 -2l-0.1 -2.4l5.3 1.2zM610.7 246.5l-5.3 0.4l-0.1 -3l5.3 0.2zM498.9 272.2l-5.4 2.8l-0.1 -3.1l5.3 -2.4zM493.5 275.0l-5.3 2.2l-0.1 -2.6l5.3 -2.7zM621.2 246.6l-5.3 -1.3l-0.1 -2.2l5.3 0.5zM488.1 274.6l-5.3 3.3l-0.2 -1.1l5.3 -3.6zM487.9 273.2l-5.3 3.6l-0.1 -2.1l5.3 -3.2zM482.6 276.8l-5.3 3.1l-0.1 -1.3l5.3 -3.9zM482.5 274.7l-5.3 3.9l-0.2 -1.7l5.4 -4zM477.2 278.6l-5.4 2.5l-0.1 -0.7l5.3 -3.5zM455.7 286.5l-5.3 3.1l-4 -12.9l5.3 -2.9zM450.4 289.6l-5.3 1.3l-4.1 -12.1l5.4 -2.1zM445.1 290.9l-5.4 2.9l-4 -12.5l5.3 -2.5zM409.1 293.3l-5.4 1.8l-4 -5.5l5.3 -1.9zM403.7 295.1l-5.3 2.2l-4 -4.7l5.3 -3zM389.1 293.8l-5.4 5.2l-4 -5.1l5.3 -2.9zM379.7 293.9l-5.3 4.3l-4.1 -5.2l5.4 -4.1zM370.3 293.0l-5.3 3.1l-4 -4.6l5.3 -1.9zM365.0 296.1l-5.3 3.6l-4.1 -1.8l5.4 -6.4zM361.0 291.5l-5.4 6.4l-4 -3.7l5.3 -4.3zM351.6 294.2l-5.3 2.1l-4.1 -1.8l5.4 -4.3zM347.6 290.2l-5.4 4.3l-4 -3.3l5.3 -3.2zM343.5 288.0l-5.3 3.2l-4 -3.6l5.3 -1.5zM338.2 291.2l-5.3 3l-4.1 -1.7l5.4 -4.9zM334.2 287.6l-5.4 4.9l-4 -3.2l5.3 -2.9zM330.1 286.4l-5.3 2.9l-4 -1.4l5.3 -1.5zM324.8 289.3l-5.3 2.7l-4.1 -2l5.4 -2.1zM326.1 286.4l-5.3 1.5l-4.1 -4.1l5.4 -0.9zM320.8 287.9l-5.4 2.1l-4 -1.2l5.3 -5zM322.1 282.9l-5.4 0.9l-4 0l5.3 -3.2zM316.7 283.8l-5.3 5l-4 -3.3l5.3 -1.7zM312.7 283.8l-5.3 1.7l-4.1 -1l5.4 -3.8zM307.4 285.5l-5.4 2.6l-4 -1.7l5.3 -1.9zM303.3 284.5l-5.3 1.9l-4 -0.9l5.3 -3.3zM299.3 282.2l-5.3 3.3l-4.1 -3.3l5.4 -2.4zM295.3 279.8l-5.4 2.4l-4 -1.3l5.3 -3zM289.9 282.2l-5.3 4.8l-4 -2.9l5.3 -3.2zM291.2 277.9l-5.3 3l-4 -2.2l5.3 -3.2zM285.9 280.9l-5.3 3.2l-4.1 -2.1l5.4 -3.3zM287.2 275.5l-5.3 3.2l-4.1 -1.7l5.3 -2.5zM281.9 278.7l-5.4 3.3l-4 -1.4l5.3 -3.6zM283.1 274.5l-5.3 2.5l-4 -2.2l5.3 -3.1zM277.8 277.0l-5.3 3.6l-4 -2l5.3 -3.8zM273.8 274.8l-5.3 3.8l-4.1 -1.4l5.3 -4.4zM269.7 272.8l-5.3 4.4l-4 -2.7l5.3 -2.5zM265.7 272.0l-5.3 2.5l-4.1 -1.5l5.4 -4.2zM261.7 268.8l-5.4 4.2l-4 -3.2l5.3 -2.9zM256.3 273.0l-5.3 1.5l-4 1.2l5.3 -5.9zM252.3 269.8l-5.3 5.9l-4.1 -4.2l5.4 -3.6zM248.3 267.9l-5.4 3.6l-4 -0.4l5.3 -2.3zM240.2 264.6l-5.3 2.4l-4.1 0.4l5.4 -3.9zM236.2 263.5l-5.4 3.9l-4 -1.9l5.3 -4.4zM232.1 261.1l-5.3 4.4l-4 -3.1l5.3 -4.7zM222.8 262.4l-5.4 3.9l-4 -1.5l5.3 -5.3zM218.7 259.5l-5.3 5.3l-4 -1.7l5.3 -2.8zM210.6 257.8l-5.3 3.3l-4 -3.6l5.3 -2.3zM206.6 255.2l-5.3 2.3l-4.1 -1.7l5.4 -1.1zM202.6 254.7l-5.4 1.1l-4 -2l5.3 -3.5zM198.5 250.3l-5.3 3.5l-4 -2.2l5.3 -3.7zM193.2 253.8l-5.3 3.9l-4.1 -1.2l5.4 -4.9zM189.2 251.6l-5.4 4.9l-4 -3.6l5.3 -2.2zM185.1 250.7l-5.3 2.2l-4 -1.5l5.3 -4zM181.1 247.4l-5.3 4l-4.1 -2.3l5.4 -3zM177.1 246.1l-5.4 3l-4 -0.9l5.3 -4.3zM173.0 243.9l-5.3 4.3l-4 -1.2l5.3 -3.4zM169.0 243.6l-5.3 3.4l-4.1 -3l5.4 -2.5zM165.0 241.5l-5.4 2.5l-4 -3l5.3 -2.4zM159.6 244.0l-5.3 4.4l-4 -3.1l5.3 -4.3zM160.9 238.6l-5.3 2.4l-4 -1.5l5.3 -2.6zM155.6 241.0l-5.3 4.3l-4.1 -1.5l5.4 -4.3zM151.6 239.5l-5.4 4.3l-4 -1.3l5.3 -4.6zM147.5 237.9l-5.3 4.6l-4 -2.7l5.3 -3.7zM143.5 236.1l-5.3 3.7l-4.1 -2.9l5.3 -1.3zM139.4 235.6l-5.3 1.3l-4 -1l5.3 -4zM135.4 231.9l-5.3 4l-4.1 -2.2l5.4 -4zM131.4 229.7l-5.4 4l-4 -0.8l5.3 -4.4zM127.3 228.5l-5.3 4.4l-4 -2.6l5.3 -4zM118.0 230.3l-5.4 2.9l-4 -1l5.3 -4.2zM113.9 228.0l-5.3 4.2l-4 -2.6l5.3 -3.2zM109.9 226.4l-5.3 3.2l-4.1 -2.3l5.4 -2.5zM105.9 224.8l-5.4 2.5l-4 -1.6l5.3 -3.7zM101.8 222.0l-5.3 3.7l-4 -1.5l5.3 -5.1zM92.5 224.2l-5.4 3l-4 -2.8l5.3 -3.4zM88.4 221.0l-5.3 3.4l-4 -1.1l5.3 -3.5zM84.4 219.8l-5.3 3.5l-4.1 -3l5.3 -3.2z"/>
<path fill="#20ffdf" stroke="#20ffdf" d="M584.2 251.8l-5.3 0l-0.1 -2.6l5.3 -0.3zM578.9 251.8l-5.3 2.1l-0.2 -2.5l5.4 -2.2zM573.6 253.9l-5.4 -0.5l-0.1 -0.7l5.3 -1.3zM568.2 253.4l-5.3 2l-0.1 -2.8l5.3 0.1zM562.9 255.4l-5.3 1.5l-0.1 -1.6l5.3 -2.7zM557.6 256.9l-5.3 1.1l-0.2 -2.1l5.4 -0.6zM552.3 258.0l-5.4 1.2l-0.1 -1.9l5.3 -1.4zM546.9 259.2l-5.3 1.6l-0.1 -2.7l5.3 -0.8zM541.6 260.8l-5.3 0.9l-0.1 -2l5.3 -1.6zM536.3 261.7l-5.3 1l-0.2 -2.2l5.4 -0.8zM531.0 262.7l-5.4 1.3l-0.1 -2.7l5.3 -0.8zM525.6 264.0l-5.3 2.2l-0.1 -3.4l5.3 -1.5zM520.3 266.2l-5.3 1.1l-0.2 -2.7l5.4 -1.8zM515.0 267.3l-5.3 1.5l-0.2 -2.2l5.3 -2zM605.4 246.9l-5.3 0.4l-0.2 -3.3l5.4 -0.1zM600.1 247.3l-5.4 -0.1l-0.1 -2.4l5.3 -0.8zM594.7 247.2l-5.3 0.9l-0.1 -2.2l5.3 -1.1zM589.4 248.1l-5.3 0.8l-0.1 -2.9l5.3 -0.1zM573.4 251.4l-5.3 1.3l-0.1 -3.2l5.3 -1.2zM509.5 266.6l-5.3 1.4l-0.1 -1.5l5.3 -2.5zM504.2 268.0l-5.3 4.2l-0.2 -2.7l5.4 -3zM615.9 245.3l-5.3 -1.2l-0.1 -2.5l5.3 1.5zM610.6 244.1l-5.3 -0.2l-0.2 -2.9l5.4 0.6zM498.7 269.5l-5.3 2.4l-0.1 -2l5.3 -2.9zM493.4 271.9l-5.3 2.7l-0.2 -1.4l5.4 -3.3zM621.1 243.6l-5.3 -0.5l-0.2 -3.6l5.4 2.1zM615.8 243.1l-5.3 -1.5l-0.2 -2.6l5.3 0.5zM493.3 269.9l-5.4 3.3l-0.1 -1.7l5.3 -3.2zM621.0 241.6l-5.4 -2.1l-0.1 -1.8l5.3 0.6zM487.8 271.5l-5.3 3.2l-0.1 -1.8l5.3 -2.4zM471.7 280.4l-5.3 1.6l-4.1 -12.6l5.4 -3.8zM466.4 282.0l-5.4 2.9l-4 -13.3l5.3 -2.2zM461.0 284.9l-5.3 1.6l-4 -12.7l5.3 -2.2zM425.1 286.0l-5.4 1.2l-4 -5.3l5.3 -2.1zM419.7 287.2l-5.3 3.2l-4 -6.9l5.3 -1.6zM414.4 290.4l-5.3 2.9l-4.1 -5.6l5.4 -4.2zM405.0 287.7l-5.3 1.9l-4 -3.9l5.3 -4.4zM399.7 289.6l-5.3 3l-4.1 -5.8l5.4 -1.1zM394.4 292.6l-5.3 1.2l-4.1 -2.8l5.3 -4.2zM385.0 291.0l-5.3 2.9l-4 -5l5.3 -2.3zM375.7 288.9l-5.4 4.1l-4 -3.4l5.3 -4.6zM366.3 289.6l-5.3 1.9l-4.1 -1.6l5.4 -3.9zM362.3 286.0l-5.4 3.9l-4 -2.8l5.3 -4.3zM356.9 289.9l-5.3 4.3l-4 -4l5.3 -3.1zM352.9 287.1l-5.3 3.1l-4.1 -2.2l5.4 -3.4zM348.9 284.6l-5.4 3.4l-4 -1.9l5.3 -4.3zM339.5 286.1l-5.3 1.5l-4.1 -1.2l5.4 -4.3zM335.5 282.1l-5.4 4.3l-4 0l5.3 -6zM331.4 280.4l-5.3 6l-4 -3.5l5.3 -4.3zM327.4 278.6l-5.3 4.3l-4.1 -2.3l5.3 -4.6zM318.0 280.6l-5.3 3.2l-4 -3.1l5.3 -2.8zM314.0 277.9l-5.3 2.8l-4.1 -2.7l5.3 -2.7zM308.7 280.7l-5.4 3.8l-4 -2.3l5.3 -4.2zM309.9 275.3l-5.3 2.7l-4 -1.8l5.3 -2.4zM304.6 278.0l-5.3 4.2l-4 -2.4l5.3 -3.6zM305.9 273.8l-5.3 2.4l-4.1 -2.1l5.4 -2.9zM300.6 276.2l-5.3 3.6l-4.1 -1.9l5.3 -3.8zM301.9 271.2l-5.4 2.9l-4 0.3l5.3 -3.5zM296.5 274.1l-5.3 3.8l-4 -2.4l5.3 -1.1zM297.8 270.9l-5.3 3.5l-4 -3.6l5.3 -2.7zM292.5 274.4l-5.3 1.1l-4.1 -1l5.4 -3.7zM288.5 270.8l-5.4 3.7l-4 -2.8l5.3 -3.9zM279.1 271.7l-5.3 3.1l-4.1 -2l5.4 -2.8zM275.1 270.0l-5.4 2.8l-4 -0.8l5.3 -4.6zM271.0 267.4l-5.3 4.6l-4 -3.2l5.3 -3.2zM267.0 265.6l-5.3 3.2l-4.1 -1.9l5.4 -1.9zM263.0 265.0l-5.4 1.9l-4 -2.9l5.3 -0.8zM257.6 266.9l-5.3 2.9l-4 -1.9l5.3 -3.9zM258.9 263.2l-5.3 0.8l-4 -1.1l5.3 -1.3zM253.6 264.0l-5.3 3.9l-4.1 0.9l5.4 -5.9zM254.9 261.6l-5.3 1.3l-4.1 -1.7l5.3 -5.4zM249.6 262.9l-5.4 5.9l-4 -4.2l5.3 -3.4zM245.5 261.2l-5.3 3.4l-4 -1.1l5.3 -4.1zM241.5 259.4l-5.3 4.1l-4.1 -2.4l5.3 -2.6zM237.4 258.5l-5.3 2.6l-4 -3.4l5.3 -3.5zM233.4 254.2l-5.3 3.5l-4.1 -1l5.4 -3.8zM228.1 257.7l-5.3 4.7l-4.1 -2.9l5.3 -2.8zM229.4 252.9l-5.4 3.8l-4 -1.9l5.3 -2.8zM224.0 256.7l-5.3 2.8l-4 0.8l5.3 -5.5zM225.3 252.0l-5.3 2.8l-4 -2.6l5.3 -2.9zM220.0 254.8l-5.3 5.5l-4.1 -2.5l5.4 -5.6zM216.0 252.2l-5.4 5.6l-4 -2.6l5.3 -4.8zM211.9 250.4l-5.3 4.8l-4 -0.5l5.3 -6.9zM207.9 247.8l-5.3 6.9l-4.1 -4.4l5.4 -3.2zM209.2 245.5l-5.3 1.6l-4.1 -0.9l5.4 -4.5zM203.9 247.1l-5.4 3.2l-4 -2.4l5.3 -1.7zM199.8 246.2l-5.3 1.7l-4 -2.8l5.3 -2.3zM194.5 247.9l-5.3 3.7l-4.1 -0.9l5.4 -5.6zM195.8 242.8l-5.3 2.3l-4.1 -0.8l5.4 -1.4zM190.5 245.1l-5.4 5.6l-4 -3.3l5.3 -3.1zM191.8 242.9l-5.4 1.4l-4 -3.3l5.3 -1.8zM186.4 244.3l-5.3 3.1l-4 -1.3l5.3 -5.1zM182.4 241.0l-5.3 5.1l-4.1 -2.2l5.4 -3.1zM178.4 240.8l-5.4 3.1l-4 -0.3l5.3 -5.3zM174.3 238.3l-5.3 5.3l-4 -2.1l5.3 -3.1zM170.3 238.4l-5.3 3.1l-4.1 -2.9l5.3 -3.3zM166.2 235.3l-5.3 3.3l-4 -1.7l5.3 -5.4zM162.2 231.5l-5.3 5.4l-4.1 -4.1l5.4 -0.4zM156.9 236.9l-5.3 2.6l-4.1 -1.6l5.3 -5.1zM158.2 232.4l-5.4 0.4l-4 0.1l5.3 -2.4zM152.8 232.8l-5.3 5.1l-4 -1.8l5.3 -3.2zM154.1 230.5l-5.3 2.4l-4 -3.6l5.3 -2.3zM148.8 232.9l-5.3 3.2l-4.1 -0.5l5.4 -6.3zM144.8 229.3l-5.4 6.3l-4 -3.7l5.3 -2.5zM140.7 229.4l-5.3 2.5l-4 -2.2l5.3 -4.3zM123.3 226.3l-5.3 4l-4.1 -2.3l5.4 -3.2zM119.3 224.8l-5.4 3.2l-4 -1.6l5.3 -3.3zM115.2 223.1l-5.3 3.3l-4 -1.6l5.3 -4.5zM111.2 220.3l-5.3 4.5l-4.1 -2.8l5.3 -2.8zM107.1 219.2l-5.3 2.8l-4 -2.9l5.3 -3.1zM103.1 216.0l-5.3 3.1l-4.1 -1.7l5.4 -2.6zM97.8 219.1l-5.3 5.1l-4.1 -3.2l5.3 -3.6zM99.1 214.8l-5.4 2.6l-4 -0.4l5.3 -3zM93.7 217.4l-5.3 3.6l-4 -1.2l5.3 -2.8zM95.0 214.0l-5.3 3l-4 -3.9l5.3 -2.1zM89.7 217.0l-5.3 2.8l-4.1 -2.7l5.4 -4z"/>
<path fill="#30ffcf" stroke="#30ffcf" d="M584.1 248.9l-5.3 0.3l-0.2 -2.2l5.4 -1zM578.8 249.2l-5.4 2.2l-0.1 -3.1l5.3 -1.3zM568.1 252.7l-5.3 -0.1l-0.1 -1.7l5.3 -1.4zM562.8 252.6l-5.3 2.7l-0.2 -3l5.4 -1.4zM557.5 255.3l-5.4 0.6l-0.1 -2.1l5.3 -1.5zM552.1 255.9l-5.3 1.4l-0.1 -2.4l5.3 -1.1zM546.8 257.3l-5.3 0.8l-0.2 -2.2l5.4 -1zM541.5 258.1l-5.3 1.6l-0.2 -3.7l5.3 -0.1zM536.2 259.7l-5.4 0.8l-0.1 -1.8l5.3 -2.7zM530.8 260.5l-5.3 0.8l-0.1 -1.6l5.3 -1zM525.5 261.3l-5.3 1.5l-0.2 -2.2l5.4 -0.9zM520.2 262.8l-5.4 1.8l-0.1 -2.8l5.3 -1.2zM514.8 264.6l-5.3 2l-0.1 -2.6l5.3 -2.2zM605.3 243.9l-5.4 0.1l-0.1 -1.4l5.3 -1.6zM599.9 244.0l-5.3 0.8l-0.1 -2.1l5.3 -0.1zM594.6 244.8l-5.3 1.1l-0.1 -2l5.3 -1.2zM589.3 245.9l-5.3 0.1l-0.2 -1.4l5.4 -0.7zM584.0 246.0l-5.4 1l-0.1 -1.4l5.3 -1zM573.3 248.3l-5.3 1.2l-0.2 -2l5.4 -0.3zM568.0 249.5l-5.3 1.4l-0.2 -2.1l5.3 -1.3zM562.7 250.9l-5.4 1.4l-0.1 -1.7l5.3 -1.8zM557.3 252.3l-5.3 1.5l-0.1 -2l5.3 -1.2zM552.0 253.8l-5.3 1.1l-0.2 -1.8l5.4 -1.3zM546.7 254.9l-5.4 1l-0.1 -2.1l5.3 -0.7zM530.7 258.7l-5.3 1l-0.2 -3.2l5.4 -1zM514.7 261.8l-5.3 2.2l-0.1 -1.4l5.3 -2.7zM509.4 264.0l-5.3 2.5l-0.2 -1.2l5.4 -2.7zM504.1 266.5l-5.4 3l-0.1 -2.5l5.3 -1.7zM610.5 241.6l-5.4 -0.6l-0.1 -1.5l5.3 -0.5zM605.1 241.0l-5.3 1.6l-0.1 -2.5l5.3 -0.6zM599.8 242.6l-5.3 0.1l-0.2 -1.9l5.4 -0.7zM509.3 262.6l-5.4 2.7l-0.1 -1.5l5.3 -3.5zM503.9 265.3l-5.3 1.7l-0.1 -1.5l5.3 -1.7zM498.6 267.0l-5.3 2.9l-0.2 -1.6l5.4 -2.8zM615.6 239.5l-5.3 -0.5l-0.1 -2l5.3 0.7zM498.5 265.5l-5.4 2.8l-0.1 -1.3l5.3 -3.2zM493.1 268.3l-5.3 3.2l-0.1 -1l5.3 -3.5zM477.0 276.9l-5.3 3.5l-4 -14.8l5.3 -3zM441.0 278.8l-5.3 2.5l-4 -6.1l5.3 -3zM435.7 281.3l-5.3 1.9l-4.1 -6l5.4 -2zM430.4 283.2l-5.3 2.8l-4.1 -6.2l5.3 -2.6zM415.7 281.9l-5.3 1.6l-4.1 -3.5l5.4 -3.8zM410.4 283.5l-5.4 4.2l-4 -6.4l5.3 -1.3zM395.7 285.7l-5.4 1.1l-4 -2.8l5.3 -2.9zM390.3 286.8l-5.3 4.2l-4 -4.4l5.3 -2.6zM386.3 284.0l-5.3 2.6l-4.1 -4.4l5.4 -2.3zM381.0 286.6l-5.3 2.3l-4.1 -3.9l5.3 -2.8zM376.9 282.2l-5.3 2.8l-4 -2l5.3 -2.6zM371.6 285.0l-5.3 4.6l-4 -3.6l5.3 -3zM367.6 283.0l-5.3 3l-4.1 -3.2l5.3 -2.2zM363.5 280.6l-5.3 2.2l-4 -2l5.3 -2.8zM358.2 282.8l-5.3 4.3l-4 -2.5l5.3 -3.8zM354.2 280.8l-5.3 3.8l-4.1 -2.8l5.3 -4.7zM350.1 277.1l-5.3 4.7l-4 -3.5l5.3 -0.8zM344.8 281.8l-5.3 4.3l-4 -4l5.3 -3.8zM346.1 277.5l-5.3 0.8l-4.1 -1.1l5.4 -2.6zM340.8 278.3l-5.3 3.8l-4.1 -1.7l5.3 -3.2zM336.7 277.2l-5.3 3.2l-4 -1.8l5.3 -3.1zM332.7 275.5l-5.3 3.1l-4.1 -2.6l5.4 -2.1zM328.7 273.9l-5.4 2.1l-4 -2l5.3 -3.1zM323.3 276.0l-5.3 4.6l-4 -2.7l5.3 -3.9zM319.3 274.0l-5.3 3.9l-4.1 -2.6l5.4 -4.5zM315.3 270.8l-5.4 4.5l-4 -1.5l5.3 -2.6zM311.2 271.2l-5.3 2.6l-4 -2.6l5.3 -2.3zM307.2 268.9l-5.3 2.3l-4.1 -0.3l5.4 -4.5zM303.2 266.4l-5.4 4.5l-4 -2.8l5.3 -3.1zM299.1 265.0l-5.3 3.1l-4 -3l5.3 -3.2zM293.8 268.1l-5.3 2.7l-4.1 -3l5.4 -2.7zM289.8 265.1l-5.4 2.7l-4 -2.4l5.3 -1.9zM284.4 267.8l-5.3 3.9l-4 -1.7l5.3 -4.6zM285.7 263.5l-5.3 1.9l-4 -1.3l5.3 -3.5zM280.4 265.4l-5.3 4.6l-4.1 -2.6l5.4 -3.3zM281.7 260.6l-5.3 3.5l-4.1 -2.5l5.3 -2.2zM276.4 264.1l-5.4 3.3l-4 -1.8l5.3 -4zM277.6 259.4l-5.3 2.2l-4 -0.5l5.3 -4.2zM272.3 261.6l-5.3 4l-4 -0.6l5.3 -3.9zM268.3 261.1l-5.3 3.9l-4.1 -1.8l5.3 -3.6zM264.2 259.6l-5.3 3.6l-4 -1.6l5.3 -4.6zM260.2 257.0l-5.3 4.6l-4.1 -5.8l5.4 -0.7zM261.5 252.6l-5.3 2.5l-4.1 -3.2l5.4 -1.3zM256.2 255.1l-5.4 0.7l-4 0.2l5.3 -4.1zM250.8 255.8l-5.3 5.4l-4 -1.8l5.3 -3.4zM252.1 251.9l-5.3 4.1l-4 -2.4l5.3 -1.4zM246.8 256.0l-5.3 3.4l-4.1 -0.9l5.4 -4.9zM248.1 252.2l-5.3 1.4l-4.1 -2.2l5.4 -2zM242.8 253.6l-5.4 4.9l-4 -4.3l5.3 -2.8zM238.7 251.4l-5.3 2.8l-4 -1.3l5.3 -3.9zM234.7 249.0l-5.3 3.9l-4.1 -0.9l5.4 -3.4zM230.7 248.6l-5.4 3.4l-4 -2.7l5.3 -3zM226.6 246.3l-5.3 3l-4 -2.3l5.3 -3.1zM221.3 249.3l-5.3 2.9l-4.1 -1.8l5.4 -3.4zM222.6 243.9l-5.3 3.1l-4.1 -2.6l5.4 -2.6zM217.3 247.0l-5.4 3.4l-4 -2.6l5.3 -3.4zM218.6 241.8l-5.4 2.6l-4 1.1l5.3 -4.9zM213.2 244.4l-5.3 3.4l-4 -0.7l5.3 -1.6zM214.5 240.6l-5.3 4.9l-4 -3.8l5.3 -2.3zM210.5 239.4l-5.3 2.3l-4.1 -3.7l5.3 -0.6zM205.2 241.7l-5.4 4.5l-4 -3.4l5.3 -4.8zM206.4 237.4l-5.3 0.6l-4 -0.1l5.3 -1.6zM201.1 238.0l-5.3 4.8l-4 0.1l5.3 -5zM197.1 237.9l-5.3 5l-4.1 -3.7l5.3 -5.2zM187.7 239.2l-5.3 1.8l-4 -0.2l5.3 -4.1zM183.7 236.7l-5.3 4.1l-4.1 -2.5l5.3 -3.6zM179.6 234.7l-5.3 3.6l-4 0.1l5.3 -5.2zM175.6 233.2l-5.3 5.2l-4.1 -3.1l5.4 -3.6zM171.6 231.7l-5.4 3.6l-4 -3.8l5.3 -2.5zM159.5 225.8l-5.4 4.7l-4 -3.5l5.3 -4zM155.4 223.0l-5.3 4l-4 -1.8l5.3 -3.2zM150.1 227.0l-5.3 2.3l-4.1 0.1l5.4 -4.2zM151.4 222.0l-5.3 3.2l-4.1 -3.7l5.4 -1.8zM146.1 225.2l-5.4 4.2l-4 -4l5.3 -3.9zM142.0 221.5l-5.3 3.9l-4 -3l5.3 -1zM136.7 225.4l-5.3 4.3l-4.1 -1.2l5.4 -6.1zM138.0 221.4l-5.3 1l-4.1 -0.3l5.4 -3.9zM132.7 222.4l-5.4 6.1l-4 -2.2l5.3 -4.2zM134.0 218.2l-5.4 3.9l-4 -2.4l5.3 -1.8zM128.6 222.1l-5.3 4.2l-4 -1.5l5.3 -5.1zM129.9 217.9l-5.3 1.8l-4.1 -1.9l5.4 -3.5zM124.6 219.7l-5.3 5.1l-4.1 -1.7l5.3 -5.3zM125.9 214.3l-5.4 3.5l-4 -2.5l5.3 -1zM120.5 217.8l-5.3 5.3l-4 -2.8l5.3 -5zM121.8 214.3l-5.3 1l-4 -0.8l5.3 -3.6zM116.5 215.3l-5.3 5l-4.1 -1.1l5.4 -4.7zM112.5 214.5l-5.4 4.7l-4 -3.2l5.3 -3.5zM108.4 212.5l-5.3 3.5l-4 -1.2l5.3 -3.9zM104.4 210.9l-5.3 3.9l-4.1 -0.8l5.4 -5.4zM100.4 208.6l-5.4 5.4l-4 -3l5.3 -4.2z"/>
<path fill="#40ffbf" stroke="#40ffbf" d="M578.6 247.0l-5.3 1.3l-0.1 -1.1l5.3 -1.6zM541.3 255.9l-5.3 0.1l-0.1 -1.1l5.3 -1.1zM536.0 256.0l-5.3 2.7l-0.1 -3.2l5.3 -0.6zM525.4 259.7l-5.4 0.9l-0.1 -1.9l5.3 -2.2zM520.0 260.6l-5.3 1.2l-0.1 -1.9l5.3 -1.2zM594.5 242.7l-5.3 1.2l-0.2 -2.7l5.3 -0.4zM589.2 243.9l-5.4 0.7l-0.1 -2l5.3 -1.4zM583.8 244.6l-5.3 1l-0.1 -2.5l5.3 -0.5zM578.5 245.6l-5.3 1.6l-0.2 -2.9l5.4 -1.2zM573.2 247.2l-5.4 0.3l-0.1 -1.5l5.3 -1.7zM567.8 247.5l-5.3 1.3l-0.1 -1.4l5.3 -1.4zM562.5 248.8l-5.3 1.8l-0.1 -2.6l5.3 -0.6zM557.2 250.6l-5.3 1.2l-0.2 -2.4l5.4 -1.4zM551.9 251.8l-5.4 1.3l-0.1 -2.2l5.3 -1.5zM546.5 253.1l-5.3 0.7l-0.1 -1.9l5.3 -1zM541.2 253.8l-5.3 1.1l-0.1 -1l5.3 -2zM535.9 254.9l-5.3 0.6l-0.2 -0.7l5.4 -0.9zM530.6 255.5l-5.4 1l-0.1 -0.6l5.3 -1.1zM525.2 256.5l-5.3 2.2l-0.1 -2.2l5.3 -0.6zM519.9 258.7l-5.3 1.2l-0.2 -1.3l5.4 -2.1zM514.6 259.9l-5.3 2.7l-0.2 -2.3l5.3 -1.7zM610.3 239.0l-5.3 0.5l-0.1 -2.2l5.3 -0.3zM605.0 239.5l-5.3 0.6l-0.2 -1.5l5.4 -1.3zM599.7 240.1l-5.4 0.7l-0.1 -1.5l5.3 -0.7zM594.3 240.8l-5.3 0.4l-0.1 -1.6l5.3 -0.3zM509.1 260.3l-5.3 3.5l-0.1 -3.6l5.3 -0.9zM503.8 263.8l-5.3 1.7l-0.2 -1.7l5.4 -3.6zM482.4 272.9l-5.4 4l-4 -14.3l5.3 -3.2zM451.7 273.8l-5.3 2.9l-4.1 -7.3l5.3 -2.6zM446.4 276.7l-5.4 2.1l-4 -6.6l5.3 -2.8zM431.7 275.2l-5.4 2l-4 -5.4l5.3 -2.3zM426.3 277.2l-5.3 2.6l-4 -5.1l5.3 -2.9zM421.0 279.8l-5.3 2.1l-4 -5.7l5.3 -1.5zM406.3 280.0l-5.3 1.3l-4 -4.2l5.3 -1.4zM401.0 281.3l-5.3 4.4l-4.1 -4.6l5.4 -4zM397.0 277.1l-5.4 4l-4 -5.6l5.3 -1.3zM391.6 281.1l-5.3 2.9l-4 -4.1l5.3 -4.4zM382.3 279.9l-5.4 2.3l-4 -1.8l5.3 -3.7zM378.2 276.7l-5.3 3.7l-4 -4.4l5.3 -1.3zM372.9 280.4l-5.3 2.6l-4.1 -2.4l5.4 -4.6zM368.9 276.0l-5.4 4.6l-4 -2.6l5.3 -4.3zM364.8 273.7l-5.3 4.3l-4 -4.1l5.3 -0.3zM359.5 278.0l-5.3 2.8l-4.1 -3.7l5.4 -3.2zM360.8 273.6l-5.3 0.3l-4.1 -2.6l5.4 -2.4zM355.5 273.9l-5.4 3.2l-4 0.4l5.3 -6.2zM347.4 269.9l-5.3 4.7l-4.1 -5.1l5.4 0.4zM342.1 274.6l-5.4 2.6l-4 -1.7l5.3 -6zM343.4 269.9l-5.4 -0.4l-4 -0.8l5.3 -1.2zM338.0 269.5l-5.3 6l-4 -1.6l5.3 -5.2zM334.0 268.7l-5.3 5.2l-4.1 -3l5.4 -3.2zM330.0 267.7l-5.4 3.2l-4 -2.3l5.3 -2.7zM324.6 270.9l-5.3 3.1l-4 -3.2l5.3 -2.2zM325.9 265.9l-5.3 2.7l-4 -4.4l5.3 -1.3zM320.6 268.6l-5.3 2.2l-4.1 0.4l5.4 -7zM316.6 264.2l-5.4 7l-4 -2.3l5.3 -3.5zM312.5 265.4l-5.3 3.5l-4 -2.5l5.3 -2.5zM308.5 263.9l-5.3 2.5l-4.1 -1.4l5.3 -3.7zM304.4 261.3l-5.3 3.7l-4 -3.1l5.3 -3.3zM295.1 261.9l-5.3 3.2l-4.1 -1.6l5.3 -3.8zM291.0 259.7l-5.3 3.8l-4 -2.9l5.3 -2.6zM287.0 258.0l-5.3 2.6l-4.1 -1.2l5.4 -3.3zM288.3 253.0l-5.3 3.1l-4.1 -2.6l5.4 -1.1zM283.0 256.1l-5.4 3.3l-4 -2.5l5.3 -3.4zM278.9 253.5l-5.3 3.4l-4 -1.9l5.3 -2.8zM273.6 256.9l-5.3 4.2l-4.1 -1.5l5.4 -4.6zM274.9 252.2l-5.3 2.8l-4.1 -2.2l5.4 -4.1zM269.6 255.0l-5.4 4.6l-4 -2.6l5.3 -4.2zM265.5 252.8l-5.3 4.2l-4 -1.9l5.3 -2.5zM266.8 249.4l-5.3 3.2l-4 -2l5.3 -2.8zM262.8 247.8l-5.3 2.8l-4.1 -2.9l5.4 -2.8zM257.5 250.6l-5.4 1.3l-4 0.3l5.3 -4.5zM253.4 247.7l-5.3 4.5l-4 -2.8l5.3 -3.3zM249.4 246.1l-5.3 3.3l-4.1 -3.8l5.4 -2.1zM244.1 249.4l-5.4 2l-4 -2.4l5.3 -3.4zM245.4 243.5l-5.4 2.1l-4 -0.5l5.3 -2.4zM240.0 245.6l-5.3 3.4l-4 -0.4l5.3 -3.5zM241.3 242.7l-5.3 2.4l-4 -2.3l5.3 -4.3zM236.0 245.1l-5.3 3.5l-4.1 -2.3l5.4 -3.5zM232.0 242.8l-5.4 3.5l-4 -2.4l5.3 -3.5zM227.9 240.4l-5.3 3.5l-4 -2.1l5.3 -2.5zM223.9 239.3l-5.3 2.5l-4.1 -1.2l5.3 -4.3zM219.8 236.3l-5.3 4.3l-4 -1.2l5.3 -5.2zM215.8 234.2l-5.3 5.2l-4.1 -2l5.4 -4.5zM211.8 232.9l-5.4 4.5l-4 -1.1l5.3 -5.5zM207.7 230.8l-5.3 5.5l-4 -4.4l5.3 -1.7zM202.4 236.3l-5.3 1.6l-4.1 -3.9l5.4 -2.1zM198.4 231.9l-5.4 2.1l-4 -1.6l5.3 -1.3zM193.0 234.0l-5.3 5.2l-4 -2.5l5.3 -4.3zM194.3 231.1l-5.3 1.3l-4 -0.2l5.3 -4.7zM189.0 232.4l-5.3 4.3l-4.1 -2l5.4 -2.5zM185.0 232.2l-5.4 2.5l-4 -1.5l5.3 -4.8zM180.9 228.4l-5.3 4.8l-4 -1.5l5.3 -4.7zM176.9 227.0l-5.3 4.7l-4.1 -2.7l5.4 -2.5zM172.9 226.5l-5.4 2.5l-4 -4.1l5.3 -1.8zM167.5 229.0l-5.3 2.5l-4 0.9l5.3 -7.5zM168.8 223.1l-5.3 1.8l-4 0.9l5.3 -5.1zM163.5 224.9l-5.3 7.5l-4.1 -1.9l5.4 -4.7zM164.8 220.7l-5.3 5.1l-4.1 -2.8l5.4 -2.5zM160.8 220.5l-5.4 2.5l-4 -1l5.3 -6.6zM152.7 216.7l-5.3 3l-4.1 -3.5l5.3 -0.5zM147.4 219.7l-5.4 1.8l-4 -0.1l5.3 -5.2zM148.6 215.7l-5.3 0.5l-4 -2.4l5.3 -2.5zM143.3 216.2l-5.3 5.2l-4 -3.2l5.3 -4.4zM139.3 213.8l-5.3 4.4l-4.1 -0.3l5.3 -3.8zM135.2 214.1l-5.3 3.8l-4 -3.6l5.3 -2zM131.2 212.3l-5.3 2l-4.1 0l5.4 -6.2zM117.8 210.9l-5.3 3.6l-4.1 -2l5.4 -2.6zM113.8 209.9l-5.4 2.6l-4 -1.6l5.3 -4.1zM109.7 206.8l-5.3 4.1l-4 -2.3l5.3 -3zM105.7 205.6l-5.3 3l-4.1 -1.8l5.4 -3.2z"/>
<path fill="#50ffaf" stroke="#50ffaf" d="M589.0 241.2l-5.3 1.4l-0.1 -1.7l5.3 -1.3zM583.7 242.6l-5.3 0.5l-0.2 -2l5.4 -0.2zM578.4 243.1l-5.4 1.2l-0.1 -1.2l5.3 -2zM573.0 244.3l-5.3 1.7l-0.1 -1.6l5.3 -1.3zM567.7 246.0l-5.3 1.4l-0.1 -2.4l5.3 -0.6zM562.4 247.4l-5.3 0.6l-0.2 -1.1l5.4 -1.9zM557.1 248.0l-5.4 1.4l-0.1 -1.4l5.3 -1.1zM551.7 249.4l-5.3 1.5l-0.1 -2.1l5.3 -0.8zM546.4 250.9l-5.3 1l-0.2 -2l5.4 -1.1zM541.1 251.9l-5.3 2l-0.2 -3.2l5.3 -0.8zM535.8 253.9l-5.4 0.9l-0.1 -2.2l5.3 -1.9zM530.4 254.8l-5.3 1.1l-0.1 -1.5l5.3 -1.8zM525.1 255.9l-5.3 0.6l-0.2 -0.4l5.4 -1.7zM519.8 256.5l-5.4 2.1l-0.1 -1.5l5.3 -1zM514.4 258.6l-5.3 1.7l-0.1 -1l5.3 -2.2zM493.0 267.0l-5.3 3.5l-4.1 -15.9l5.4 -2.7zM487.7 270.5l-5.3 2.4l-4.1 -13.5l5.3 -4.8zM462.3 269.4l-5.3 2.2l-4 -7.1l5.3 -2.5zM457.0 271.6l-5.3 2.2l-4.1 -7l5.4 -2.3zM442.3 269.4l-5.3 2.8l-4 -5.8l5.3 -1.5zM437.0 272.2l-5.3 3l-4.1 -5.7l5.4 -3.1zM422.3 271.8l-5.3 2.9l-4.1 -3l5.4 -4.7zM417.0 274.7l-5.3 1.5l-4.1 -3.6l5.3 -0.9zM411.7 276.2l-5.4 3.8l-4 -4.3l5.3 -3.1zM412.9 271.7l-5.3 0.9l-4 -5.2l5.3 -1.3zM407.6 272.6l-5.3 3.1l-4 -4.5l5.3 -3.8zM402.3 275.7l-5.3 1.4l-4.1 -2.9l5.4 -3zM392.9 274.2l-5.3 1.3l-4 -2.1l5.3 -2.8zM387.6 275.5l-5.3 4.4l-4.1 -3.2l5.4 -3.3zM388.9 270.6l-5.3 2.8l-4.1 -2.6l5.4 -2.5zM383.6 273.4l-5.4 3.3l-4 -2l5.3 -3.9zM379.5 270.8l-5.3 3.9l-4 -4.5l5.3 -2.4zM374.2 274.7l-5.3 1.3l-4.1 -2.3l5.4 -3.5zM370.2 270.2l-5.4 3.5l-4 -0.1l5.3 -5zM366.1 268.6l-5.3 5l-4 -4.7l5.3 -3.4zM356.8 268.9l-5.4 2.4l-4 -1.4l5.3 -2.3zM351.4 271.3l-5.3 6.2l-4 -2.9l5.3 -4.7zM352.7 267.6l-5.3 2.3l-4 0l5.3 -3.9zM348.7 266.0l-5.3 3.9l-4.1 -2.4l5.4 -4.1zM344.7 263.4l-5.4 4.1l-4 -4.9l5.3 -2zM339.3 267.5l-5.3 1.2l-4 -1l5.3 -5.1zM335.3 262.6l-5.3 5.1l-4.1 -1.8l5.4 -3.9zM331.3 262.0l-5.4 3.9l-4 -3l5.3 -2.7zM327.2 260.2l-5.3 2.7l-4.1 -1.4l5.4 -2zM321.9 262.9l-5.3 1.3l-4.1 1.2l5.3 -3.9zM323.2 259.5l-5.4 2l-4 -1.7l5.3 -3.6zM317.8 261.5l-5.3 3.9l-4 -1.5l5.3 -4.1zM319.1 256.2l-5.3 3.6l-4 -2.2l5.3 -3.4zM313.8 259.8l-5.3 4.1l-4.1 -2.6l5.4 -3.7zM309.8 257.6l-5.4 3.7l-4 -2.7l5.3 -3.4zM311.1 252.6l-5.4 2.6l-4 -0.8l5.3 -2.9zM305.7 255.2l-5.3 3.4l-4 -3.2l5.3 -1zM300.4 258.6l-5.3 3.3l-4.1 -2.2l5.4 -4.3zM301.7 254.4l-5.3 1l-4.1 -2.7l5.4 -1.7zM296.4 255.4l-5.4 4.3l-4 -1.7l5.3 -5.3zM297.7 251.0l-5.4 1.7l-4 0.3l5.3 -2.7zM292.3 252.7l-5.3 5.3l-4 -1.9l5.3 -3.1zM293.6 250.3l-5.3 2.7l-4 -0.6l5.3 -4.5zM289.6 247.9l-5.3 4.5l-4.1 -4.6l5.4 -1.5zM284.3 252.4l-5.4 1.1l-4 -1.3l5.3 -4.4zM285.6 246.3l-5.4 1.5l-4 0l5.3 -3zM280.2 247.8l-5.3 4.4l-4 -3.5l5.3 -0.9zM276.2 247.8l-5.3 0.9l-4.1 0.7l5.4 -3.4zM270.9 248.7l-5.4 4.1l-4 -0.2l5.3 -3.2zM272.2 246.0l-5.4 3.4l-4 -1.6l5.3 -4.9zM268.1 242.9l-5.3 4.9l-4 -2.9l5.3 -4zM264.1 240.9l-5.3 4l-4.1 -2.5l5.3 -2.4zM258.8 244.9l-5.4 2.8l-4 -1.6l5.3 -3.7zM260.0 240.0l-5.3 2.4l-4 -2.2l5.3 -2.5zM254.7 242.4l-5.3 3.7l-4 -2.6l5.3 -3.3zM256.0 237.7l-5.3 2.5l-4.1 -1.9l5.4 -2.8zM250.7 240.2l-5.3 3.3l-4.1 -0.8l5.3 -4.4zM246.6 238.3l-5.3 4.4l-4 -4.2l5.3 -2zM242.6 236.5l-5.3 2l-4.1 -0.9l5.4 -1zM237.3 238.5l-5.3 4.3l-4.1 -2.4l5.3 -2.8zM238.6 236.6l-5.4 1l-4 -1.8l5.3 -2.2zM233.2 237.6l-5.3 2.8l-4 -1.1l5.3 -3.5zM234.5 233.6l-5.3 2.2l-4 -1.6l5.3 -4zM229.2 235.8l-5.3 3.5l-4.1 -3l5.4 -2.1zM230.5 230.2l-5.3 4l-4.1 -2.2l5.4 -2.6zM225.2 234.2l-5.4 2.1l-4 -2.1l5.3 -2.2zM226.5 229.4l-5.4 2.6l-4 -2.5l5.3 -1.5zM221.1 232.0l-5.3 2.2l-4 -1.3l5.3 -3.4zM222.4 228.0l-5.3 1.5l-4 -1.8l5.3 -2.9zM217.1 229.5l-5.3 3.4l-4.1 -2.1l5.4 -3.1zM213.1 227.7l-5.4 3.1l-4 -0.6l5.3 -4.4zM209.0 225.8l-5.3 4.4l-4 -3.7l5.3 -1.7zM203.7 230.2l-5.3 1.7l-4.1 -0.8l5.4 -4.6zM205.0 224.8l-5.3 1.7l-4.1 -1.7l5.4 -2.1zM199.7 226.5l-5.4 4.6l-4 -3.6l5.3 -2.7zM201.0 222.7l-5.4 2.1l-4 -1.6l5.3 -3.5zM195.6 224.8l-5.3 2.7l-4 -2.5l5.3 -1.8zM190.3 227.5l-5.3 4.7l-4.1 -3.8l5.4 -3.4zM191.6 223.2l-5.3 1.8l-4.1 -0.7l5.4 -3.1zM186.3 225.0l-5.4 3.4l-4 -1.4l5.3 -2.7zM187.6 221.2l-5.4 3.1l-4 -2.3l5.3 -2.8zM182.2 224.3l-5.3 2.7l-4 -0.5l5.3 -4.5zM183.5 219.2l-5.3 2.8l-4 -1.8l5.3 -2.5zM178.2 222.0l-5.3 4.5l-4.1 -3.4l5.4 -2.9zM179.5 217.7l-5.3 2.5l-4.1 -1.8l5.3 -1.9zM174.2 220.2l-5.4 2.9l-4 -2.4l5.3 -2.3zM175.4 216.5l-5.3 1.9l-4 -1.7l5.3 -1.8zM170.1 218.4l-5.3 2.3l-4 -0.2l5.3 -3.8zM171.4 214.9l-5.3 1.8l-4.1 -1.5l5.4 -3.2zM166.1 216.7l-5.3 3.8l-4.1 -5.1l5.3 -0.2zM162.0 215.2l-5.3 0.2l-4 1.3l5.3 -4.7zM156.7 215.4l-5.3 6.6l-4 -2.3l5.3 -3zM158.0 212.0l-5.3 4.7l-4.1 -1l5.4 -5zM154.0 210.7l-5.4 5l-4 -4.4l5.3 -3zM149.9 208.3l-5.3 3l-4 -1.4l5.3 -3zM144.6 211.3l-5.3 2.5l-4.1 0.3l5.4 -4.2zM140.6 209.9l-5.4 4.2l-4 -1.8l5.3 -3.9zM136.5 208.4l-5.3 3.9l-4 -4.2l5.3 -1.5zM132.5 206.6l-5.3 1.5l-4.1 -1.6l5.4 -1.9zM127.2 208.1l-5.4 6.2l-4 -3.4l5.3 -4.4zM128.5 204.6l-5.4 1.9l-4 -2l5.3 -4.7zM123.1 206.5l-5.3 4.4l-4 -1l5.3 -5.4zM119.1 204.5l-5.3 5.4l-4.1 -3.1l5.4 -4.1zM115.1 202.7l-5.4 4.1l-4 -1.2l5.3 -4.9zM111.0 200.7l-5.3 4.9l-4 -2l5.3 -5z"/>
<path fill="#60ff9f" stroke="#60ff9f" d="M498.3 263.8l-5.3 3.2l-4 -15.1l5.3 -2.5zM467.7 265.6l-5.4 3.8l-4 -7.4l5.3 -3.4zM453.0 264.5l-5.4 2.3l-4 -4.7l5.3 -3.7zM447.6 266.8l-5.3 2.6l-4 -4.5l5.3 -2.8zM438.3 264.9l-5.3 1.5l-4.1 -3.8l5.3 -2.1zM433.0 266.4l-5.4 3.1l-4 -5.4l5.3 -1.5zM427.6 269.5l-5.3 2.3l-4 -4.8l5.3 -2.9zM418.3 267.0l-5.4 4.7l-4 -5.6l5.3 -3zM408.9 266.1l-5.3 1.3l-4.1 -2.2l5.4 -3zM403.6 267.4l-5.3 3.8l-4.1 -4.3l5.3 -1.7zM398.3 271.2l-5.4 3l-4 -3.6l5.3 -3.7zM394.2 266.9l-5.3 3.7l-4 -2.3l5.3 -2.4zM390.2 265.9l-5.3 2.4l-4.1 -4l5.3 -1.3zM384.9 268.3l-5.4 2.5l-4 -3l5.3 -3.5zM380.8 264.3l-5.3 3.5l-4 -4.2l5.3 0zM375.5 267.8l-5.3 2.4l-4.1 -1.6l5.4 -5zM376.8 263.6l-5.3 0l-4.1 -0.3l5.3 -3.2zM371.5 263.6l-5.4 5l-4 -3.1l5.3 -2.2zM367.4 263.3l-5.3 2.2l-4 -4.4l5.3 0.5zM362.1 265.5l-5.3 3.4l-4.1 -1.3l5.4 -6.5zM363.4 261.6l-5.3 -0.5l-4.1 0.7l5.3 -2.8zM358.1 261.1l-5.4 6.5l-4 -1.6l5.3 -4.2zM354.0 261.8l-5.3 4.2l-4 -2.6l5.3 -4.4zM350.0 259.0l-5.3 4.4l-4.1 -2.8l5.3 -2zM345.9 258.6l-5.3 2l-4 -2.4l5.3 -3.6zM340.6 260.6l-5.3 2l-4 -0.6l5.3 -3.8zM341.9 254.6l-5.3 3.6l-4.1 -0.9l5.4 -2.3zM336.6 258.2l-5.3 3.8l-4.1 -1.8l5.3 -2.9zM337.9 255.0l-5.4 2.3l-4 -2.5l5.3 -1.8zM332.5 257.3l-5.3 2.9l-4 -0.7l5.3 -4.7zM333.8 253.0l-5.3 1.8l-4 -1.4l5.3 -4.1zM328.5 254.8l-5.3 4.7l-4.1 -3.3l5.4 -2.8zM324.5 253.4l-5.4 2.8l-4 -2l5.3 -3.3zM320.4 250.9l-5.3 3.3l-4 -1.6l5.3 -3.9zM315.1 254.2l-5.3 3.4l-4.1 -2.4l5.4 -2.6zM307.0 251.5l-5.3 2.9l-4 -3.4l5.3 -3zM308.3 245.9l-5.3 2.1l-4 0l5.3 -2.7zM303.0 248.0l-5.3 3l-4.1 -0.7l5.4 -2.3zM304.3 245.3l-5.3 2.7l-4.1 -3.5l5.3 -3.2zM299.0 248.0l-5.4 2.3l-4 -2.4l5.3 -3.4zM294.9 244.5l-5.3 3.4l-4 -1.6l5.3 -1.9zM290.9 244.4l-5.3 1.9l-4.1 -1.5l5.3 -4.5zM286.8 240.3l-5.3 4.5l-4 -3.8l5.3 -1.4zM281.5 244.8l-5.3 3l-4 -1.8l5.3 -5zM282.8 239.6l-5.3 1.4l-4.1 -0.5l5.4 -3.7zM277.5 241.0l-5.3 5l-4.1 -3.1l5.3 -2.4zM278.8 236.8l-5.4 3.7l-4 -2.8l5.3 -2.5zM273.4 240.5l-5.3 2.4l-4 -2l5.3 -3.2zM274.7 235.2l-5.3 2.5l-4 -3.2l5.3 -1zM269.4 237.7l-5.3 3.2l-4.1 -0.9l5.4 -5.5zM270.7 233.5l-5.3 1l-4.1 -1.4l5.4 -0.8zM261.3 233.1l-5.3 4.6l-4 -2.2l5.3 -3.1zM257.3 232.4l-5.3 3.1l-4.1 -2.5l5.4 -2.4zM252.0 235.5l-5.4 2.8l-4 -1.8l5.3 -3.5zM253.3 230.6l-5.4 2.4l-4 -0.9l5.3 -4.6zM247.9 233.0l-5.3 3.5l-4 0.1l5.3 -4.5zM243.9 232.1l-5.3 4.5l-4.1 -3l5.4 -3.3zM239.9 230.3l-5.4 3.3l-4 -3.4l5.3 -0.6zM235.8 229.6l-5.3 0.6l-4 -0.8l5.3 -3.4zM231.8 226.0l-5.3 3.4l-4.1 -1.4l5.4 -3.5zM233.1 222.8l-5.3 1.7l-4.1 -2.6l5.3 -2.1zM227.8 224.5l-5.4 3.5l-4 -3.2l5.3 -2.9zM223.7 221.9l-5.3 2.9l-4 -0.4l5.3 -5zM218.4 224.8l-5.3 2.9l-4.1 -1.9l5.4 -1.4zM214.4 224.4l-5.4 1.4l-4 -1l5.3 -3.5zM210.3 221.3l-5.3 3.5l-4 -2.1l5.3 -3.7zM206.3 219.0l-5.3 3.7l-4.1 -3l5.3 -2.9zM202.2 216.8l-5.3 2.9l-4 -2.2l5.3 -2.3zM196.9 219.7l-5.3 3.5l-4 -2l5.3 -3.7zM192.9 217.5l-5.3 3.7l-4.1 -2l5.3 -2.7zM188.8 216.5l-5.3 2.7l-4 -1.5l5.3 -3.4zM184.8 214.3l-5.3 3.4l-4.1 -1.2l5.4 -3zM186.1 209.7l-5.3 3.8l-4.1 -4l5.4 -0.4zM180.8 213.5l-5.4 3l-4 -1.6l5.3 -5.4zM176.7 209.5l-5.3 5.4l-4 -2.9l5.3 -4zM172.7 208.0l-5.3 4l-4.1 -3.4l5.4 -1.7zM167.4 212.0l-5.4 3.2l-4 -3.2l5.3 -3.4zM168.7 206.9l-5.4 1.7l-4 -1.4l5.3 -3.1zM163.3 208.6l-5.3 3.4l-4 -1.3l5.3 -3.5zM159.3 207.2l-5.3 3.5l-4.1 -2.4l5.4 -2.6zM155.3 205.7l-5.4 2.6l-4 -1.4l5.3 -3.3zM151.2 203.6l-5.3 3.3l-4 -2.6l5.3 -2.7zM145.9 206.9l-5.3 3l-4.1 -1.5l5.4 -4.1zM147.2 201.6l-5.3 2.7l-4.1 -1.4l5.3 -2.8zM141.9 204.3l-5.4 4.1l-4 -1.8l5.3 -3.7zM143.1 200.1l-5.3 2.8l-4 -3.6l5.3 -2.2zM137.8 202.9l-5.3 3.7l-4 -2l5.3 -5.3zM133.8 199.3l-5.3 5.3l-4.1 -4.8l5.3 0zM129.7 199.8l-5.3 0l-4 0.7l5.3 -4.3zM124.4 199.8l-5.3 4.7l-4 -1.8l5.3 -2.2zM125.7 196.2l-5.3 4.3l-4.1 -3.8l5.4 -1.7zM120.4 200.5l-5.3 2.2l-4.1 -2l5.3 -4zM121.7 195.0l-5.4 1.7l-4 -1.2l5.3 -2.1zM116.3 196.7l-5.3 4l-4 -2.1l5.3 -3.1z"/>
<path fill="#70ff8f" stroke="#70ff8f" d="M620.8 238.3l-5.3 -0.6l-4 -26.9l5.3 -1.6zM615.5 237.7l-5.3 -0.7l-4 -24.9l5.3 -1.3zM610.2 237.0l-5.3 0.3l-4.1 -22.5l5.4 -2.7zM604.9 237.3l-5.4 1.3l-4 -22.9l5.3 -0.9zM599.5 238.6l-5.3 0.7l-4 -21.4l5.3 -2.2zM594.2 239.3l-5.3 0.3l-4.1 -20.6l5.4 -1.1zM525.0 254.4l-5.4 1.7l-4 -16.5l5.3 -1.7zM519.6 256.1l-5.3 1l-4 -16.7l5.3 -0.8zM514.3 257.1l-5.3 2.2l-4.1 -15.8l5.4 -3.1zM509.0 259.3l-5.3 0.9l-4.1 -13.9l5.3 -2.8zM503.7 260.2l-5.4 3.6l-4 -14.4l5.3 -3.1zM478.3 259.4l-5.3 3.2l-4 -7.5l5.3 -2.8zM473.0 262.6l-5.3 3l-4.1 -7l5.4 -3.5zM458.3 262.0l-5.3 2.5l-4.1 -6.1l5.4 -3.1zM443.6 262.1l-5.3 2.8l-4.1 -4.4l5.4 -4zM434.2 260.5l-5.3 2.1l-4 -4.7l5.3 -2.2zM428.9 262.6l-5.3 1.5l-4 -2.4l5.3 -3.8zM423.6 264.1l-5.3 2.9l-4.1 -3.9l5.4 -1.4zM419.6 261.7l-5.4 1.4l-4 -2.7l5.3 -2.3zM414.2 263.1l-5.3 3l-4 -3.9l5.3 -1.8zM410.2 260.4l-5.3 1.8l-4.1 -2l5.4 -3.5zM404.9 262.2l-5.4 3l-4 -3.1l5.3 -1.9zM399.5 265.2l-5.3 1.7l-4 -1l5.3 -3.8zM400.8 260.2l-5.3 1.9l-4 -2.5l5.3 -4.1zM395.5 262.1l-5.3 3.8l-4.1 -2.9l5.4 -3.4zM391.5 259.6l-5.4 3.4l-4 -3.9l5.3 -3.2zM386.1 263.0l-5.3 1.3l-4 -0.7l5.3 -4.5zM382.1 259.1l-5.3 4.5l-4.1 -3.5l5.4 -2.5zM378.1 257.6l-5.4 2.5l-4 -0.9l5.3 -4.9zM372.7 260.1l-5.3 3.2l-4 -1.7l5.3 -2.4zM374.0 254.3l-5.3 4.9l-4 -4l5.3 -0.4zM368.7 259.2l-5.3 2.4l-4.1 -2.6l5.4 -3.8zM370.0 254.8l-5.3 0.4l-4.1 -1.7l5.4 -2.1zM364.7 255.2l-5.4 3.8l-4 -2.3l5.3 -3.2zM359.3 259.0l-5.3 2.8l-4 -2.8l5.3 -2.3zM360.6 253.5l-5.3 3.2l-4 -3.5l5.3 0.4zM355.3 256.7l-5.3 2.3l-4.1 -0.4l5.4 -5.4zM356.6 253.6l-5.3 -0.4l-4.1 -0.4l5.4 -3.7zM351.3 253.2l-5.4 5.4l-4 -4l5.3 -1.8zM347.2 252.8l-5.3 1.8l-4 0.4l5.3 -2.8zM343.2 252.2l-5.3 2.8l-4.1 -2l5.4 -4.8zM339.2 248.2l-5.4 4.8l-4 -3.7l5.3 -3zM335.1 246.3l-5.3 3l-4 -2.7l5.3 -2.1zM329.8 249.3l-5.3 4.1l-4.1 -2.5l5.4 -4.3zM325.8 246.6l-5.4 4.3l-4 -2.2l5.3 -3.6zM321.7 245.1l-5.3 3.6l-4 -2.8l5.3 0zM316.4 248.7l-5.3 3.9l-4.1 -1.1l5.4 -5.6zM317.7 245.9l-5.3 0l-4.1 0l5.3 -4.4zM312.4 245.9l-5.4 5.6l-4 -3.5l5.3 -2.1zM313.6 241.5l-5.3 4.4l-4 -0.6l5.3 -4.5zM314.9 239.6l-5.3 1.2l-4 -1.8l5.3 -2.9zM309.6 240.8l-5.3 4.5l-4.1 -4l5.4 -2.3zM305.6 239.0l-5.4 2.3l-4 -1.9l5.3 -1.7zM300.2 241.3l-5.3 3.2l-4 -0.1l5.3 -5zM301.5 237.7l-5.3 1.7l-4 -0.1l5.3 -4.1zM296.2 239.4l-5.3 5l-4.1 -4.1l5.4 -1zM297.5 235.2l-5.3 4.1l-4.1 -3.9l5.4 -2.6zM292.2 239.3l-5.4 1l-4 -0.7l5.3 -4.2zM288.1 235.4l-5.3 4.2l-4 -2.8l5.3 -3.7zM284.1 233.1l-5.3 3.7l-4.1 -1.6l5.4 -3.5zM280.1 231.7l-5.4 3.5l-4 -1.7l5.3 -3.7zM276.0 229.8l-5.3 3.7l-4 -1.2l5.3 -2.7zM265.4 234.5l-5.4 5.5l-4 -2.3l5.3 -4.6zM272.0 229.6l-5.3 2.7l-4.1 -3.3l5.4 -2.8zM266.7 232.3l-5.4 0.8l-4 -0.7l5.3 -3.4zM262.6 229.0l-5.3 3.4l-4 -1.8l5.3 -3.6zM258.6 227.0l-5.3 3.6l-4.1 -3.1l5.4 -2.3zM259.9 223.2l-5.3 2l-4.1 -1l5.3 -3.4zM254.6 225.2l-5.4 2.3l-4 -1.3l5.3 -2zM249.2 227.5l-5.3 4.6l-4 -1.8l5.3 -4.1zM250.5 224.2l-5.3 2l-4 -2l5.3 -2.6zM245.2 226.2l-5.3 4.1l-4.1 -0.7l5.4 -5.4zM246.5 221.6l-5.3 2.6l-4.1 -2l5.3 -1.2zM241.2 224.2l-5.4 5.4l-4 -3.6l5.3 -3.8zM242.4 221.0l-5.3 1.2l-4 0.6l5.3 -6.3zM237.1 222.2l-5.3 3.8l-4 -1.5l5.3 -1.7zM234.4 216.6l-5.4 3.2l-4 -2.4l5.3 -3.5zM229.0 219.8l-5.3 2.1l-4 -2.5l5.3 -2zM225.0 217.4l-5.3 2l-4.1 -0.9l5.4 -2.8zM219.7 219.4l-5.3 5l-4.1 -3.1l5.3 -2.8zM221.0 215.7l-5.4 2.8l-4 -2.4l5.3 -1.9zM215.6 218.5l-5.3 2.8l-4 -2.3l5.3 -2.9zM216.9 214.2l-5.3 1.9l-4 -3.4l5.3 -1.3zM211.6 216.1l-5.3 2.9l-4.1 -2.2l5.4 -4.1zM212.9 211.4l-5.3 1.3l-4.1 -1.4l5.4 -1.7zM207.6 212.7l-5.4 4.1l-4 -1.6l5.3 -3.9zM208.9 209.6l-5.4 1.7l-4 0.1l5.3 -4zM203.5 211.3l-5.3 3.9l-4 -3.3l5.3 -0.5zM198.2 215.2l-5.3 2.3l-4.1 -1l5.4 -4.6zM204.8 207.4l-5.3 4l-4 -3.5l5.3 -1.4zM199.5 211.4l-5.3 0.5l-4.1 -0.5l5.4 -3.5zM194.2 211.9l-5.4 4.6l-4 -2.2l5.3 -2.9zM200.8 206.5l-5.3 1.4l-4.1 -0.5l5.3 -3.6zM195.5 207.9l-5.4 3.5l-4 -1.7l5.3 -2.3zM190.1 211.4l-5.3 2.9l-4 -0.8l5.3 -3.8zM191.4 207.4l-5.3 2.3l-4 -0.6l5.3 -5.5zM182.1 209.1l-5.4 0.4l-4 -1.5l5.3 -4.1zM183.3 202.9l-5.3 1l-4 -1.2l5.3 -1.9zM178.0 203.9l-5.3 4.1l-4 -1.1l5.3 -4.2zM174.0 202.7l-5.3 4.2l-4.1 -2.8l5.3 -1.2zM169.9 202.9l-5.3 1.2l-4 -3.2l5.3 -2.4zM164.6 204.1l-5.3 3.1l-4 -1.5l5.3 -4.8zM165.9 198.5l-5.3 2.4l-4.1 -0.7l5.4 -1.5zM160.6 200.9l-5.3 4.8l-4.1 -2.1l5.3 -3.4zM161.9 198.7l-5.4 1.5l-4 -3.4l5.3 -0.6zM156.5 200.2l-5.3 3.4l-4 -2l5.3 -4.8zM157.8 196.2l-5.3 0.6l-4 0.2l5.3 -1.7zM152.5 196.8l-5.3 4.8l-4.1 -1.5l5.4 -3.1zM153.8 195.3l-5.3 1.7l-4.1 -1.9l5.4 -4.2zM148.5 197.0l-5.4 3.1l-4 -3l5.3 -2zM144.4 195.1l-5.3 2l-4 -2.2l5.3 -1.4zM139.1 197.1l-5.3 2.2l-4.1 0.5l5.4 -4.9zM145.7 190.4l-5.3 3.1l-4 -3l5.3 -1.1zM140.4 193.5l-5.3 1.4l-4.1 0.2l5.4 -4.6zM135.1 194.9l-5.4 4.9l-4 -3.6l5.3 -1.1zM141.7 189.4l-5.3 1.1l-4.1 -1l5.4 -2.5zM136.4 190.5l-5.4 4.6l-4 -3.4l5.3 -2.2zM131.0 195.1l-5.3 1.1l-4 -1.2l5.3 -3.3zM132.3 189.5l-5.3 2.2l-4 -1.8l5.3 -1zM127.0 191.7l-5.3 3.3l-4.1 -1.6l5.4 -3.5z"/>
<path fill="#80ff80" stroke="#80ff80" d="M588.9 239.6l-5.3 1.3l-4.1 -20.8l5.3 -1.1zM583.6 240.9l-5.4 0.2l-4 -19.2l5.3 -1.8zM578.2 241.1l-5.3 2l-4 -21.4l5.3 0.2zM572.9 243.1l-5.3 1.3l-4.1 -20.3l5.4 -2.4zM567.6 244.4l-5.3 0.6l-4.1 -19.3l5.3 -1.6zM562.3 245.0l-5.4 1.9l-4 -19l5.3 -2.2zM556.9 246.9l-5.3 1.1l-4 -18.4l5.3 -1.7zM551.6 248.0l-5.3 0.8l-4.1 -17.9l5.4 -1.3zM546.3 248.8l-5.4 1.1l-4 -17l5.3 -2zM540.9 249.9l-5.3 0.8l-4 -16.7l5.3 -1.1zM535.6 250.7l-5.3 1.9l-4 -17.2l5.3 -1.4zM530.3 252.6l-5.3 1.8l-4.1 -16.5l5.4 -2.5zM483.6 254.6l-5.3 4.8l-4 -7.1l5.3 -4.2zM469.0 255.1l-5.4 3.5l-4 -6.3l5.3 -2.7zM463.6 258.6l-5.3 3.4l-4 -6.7l5.3 -3zM454.3 255.3l-5.4 3.1l-4 -4.3l5.3 -3.1zM448.9 258.4l-5.3 3.7l-4 -5.6l5.3 -2.4zM439.6 256.5l-5.4 4l-4 -4.8l5.3 -3.1zM430.2 255.7l-5.3 2.2l-4.1 -3l5.4 -2zM424.9 257.9l-5.3 3.8l-4.1 -3.6l5.3 -3.2zM420.8 254.9l-5.3 3.2l-4 -4.2l5.3 -1zM415.5 258.1l-5.3 2.3l-4 -3.7l5.3 -2.8zM406.2 256.7l-5.4 3.5l-4 -4.7l5.3 -1.9zM402.1 253.6l-5.3 1.9l-4 0.3l5.3 -2.9zM396.8 255.5l-5.3 4.1l-4.1 -3.7l5.4 -0.1zM398.1 252.9l-5.3 2.9l-4.1 -4.5l5.3 -2.6zM392.8 255.8l-5.4 0.1l-4 -0.6l5.3 -4zM387.4 255.9l-5.3 3.2l-4 -1.5l5.3 -2.3zM388.7 251.3l-5.3 4l-4 -1.9l5.3 -3.9zM383.4 255.3l-5.3 2.3l-4.1 -3.3l5.4 -0.9zM379.4 253.4l-5.4 0.9l-4 0.5l5.3 -2.9zM375.3 251.9l-5.3 2.9l-4 -3.4l5.3 -5zM366.0 251.4l-5.4 2.1l-4 0.1l5.3 -3.3zM367.2 247.1l-5.3 3.2l-4 -2.7l5.3 -3.3zM361.9 250.3l-5.3 3.3l-4 -4.5l5.3 -1.5zM357.9 247.6l-5.3 1.5l-4.1 -1.7l5.3 -2.6zM352.6 249.1l-5.4 3.7l-4 -0.6l5.3 -4.8zM353.8 244.8l-5.3 2.6l-4 -0.3l5.3 -4.5zM348.5 247.4l-5.3 4.8l-4 -4l5.3 -1.1zM349.8 242.6l-5.3 4.5l-4.1 -3.5l5.4 -0.8zM344.5 247.1l-5.3 1.1l-4.1 -1.9l5.3 -2.7zM351.1 239.0l-5.3 3.8l-4.1 -3.2l5.4 -0.5zM345.8 242.8l-5.4 0.8l-4 -2.1l5.3 -1.9zM340.4 243.6l-5.3 2.7l-4 -1.8l5.3 -3zM347.1 239.1l-5.4 0.5l-4 -3.3l5.3 -1.4zM336.4 241.5l-5.3 3l-4.1 -1.6l5.4 -0.7zM331.1 244.5l-5.3 2.1l-4.1 -1.5l5.3 -2.2zM332.4 242.2l-5.4 0.7l-4 -1.7l5.3 -3.1zM327.0 242.9l-5.3 2.2l-4 0.8l5.3 -4.7zM333.7 236.9l-5.4 1.2l-4 -1.7l5.3 -1.6zM328.3 238.1l-5.3 3.1l-4 -2.6l5.3 -2.2zM323.0 241.2l-5.3 4.7l-4.1 -4.4l5.4 -2.9zM329.6 234.8l-5.3 1.6l-4 -1.9l5.3 -2.2zM324.3 236.4l-5.3 2.2l-4.1 1l5.4 -5.1zM319.0 238.6l-5.4 2.9l-4 -0.7l5.3 -1.2zM325.6 232.3l-5.3 2.2l-4.1 -3.3l5.4 0.4zM321.6 231.6l-5.4 -0.4l-4 0.6l5.3 -2.6zM310.9 236.1l-5.3 2.9l-4.1 -1.3l5.4 -4zM312.2 231.8l-5.3 1.9l-4.1 -0.7l5.4 -4.3zM306.9 233.7l-5.4 4l-4 -2.5l5.3 -2.2zM302.8 233.0l-5.3 2.2l-4 -2.4l5.3 -2.8zM298.8 230.0l-5.3 2.8l-4.1 -2l5.4 -2.2zM293.5 232.8l-5.4 2.6l-4 -2.3l5.3 -2.3zM300.1 226.6l-5.3 2l-4.1 -2.3l5.3 -0.9zM294.8 228.6l-5.4 2.2l-4 -2l5.3 -2.5zM289.4 230.8l-5.3 2.3l-4 -1.4l5.3 -2.9zM290.7 226.3l-5.3 2.5l-4 -0.5l5.3 -4.2zM285.4 228.8l-5.3 2.9l-4.1 -1.9l5.4 -1.5zM281.4 228.3l-5.4 1.5l-4 -0.2l5.3 -4.4zM277.3 225.2l-5.3 4.4l-4 -3.4l5.3 -2zM273.3 224.2l-5.3 2l-4.1 -3l5.3 -1.4zM268.0 226.2l-5.4 2.8l-4 -2l5.3 -3.8zM269.2 221.8l-5.3 1.4l-4 0l5.3 -1.8zM263.9 223.2l-5.3 3.8l-4 -1.8l5.3 -2zM265.2 221.4l-5.3 1.8l-4.1 -2.4l5.4 -3.4zM266.5 215.7l-5.3 1.7l-4.1 -0.8l5.4 -2.1zM261.2 217.4l-5.4 3.4l-4 -1.1l5.3 -3.1zM255.8 220.8l-5.3 3.4l-4 -2.6l5.3 -1.9zM257.1 216.6l-5.3 3.1l-4 -3.1l5.3 -1.5zM251.8 219.7l-5.3 1.9l-4.1 -0.6l5.4 -4.4zM253.1 215.1l-5.3 1.5l-4.1 -2.9l5.4 -2.2zM247.8 216.6l-5.4 4.4l-4 -4.5l5.3 -2.8zM243.7 213.7l-5.3 2.8l-4 0.1l5.3 -3.7zM238.4 216.5l-5.3 6.3l-4.1 -3l5.4 -3.2zM245.0 211.4l-5.3 1.5l-4 -0.1l5.3 -5.1zM239.7 212.9l-5.3 3.7l-4.1 -2.7l5.4 -1.1zM235.7 212.8l-5.4 1.1l-4 -1.5l5.3 -2zM230.3 213.9l-5.3 3.5l-4 -1.7l5.3 -3.3zM231.6 210.4l-5.3 2l-4 -1.4l5.3 -3.6zM226.3 212.4l-5.3 3.3l-4.1 -1.5l5.4 -3.2zM227.6 207.4l-5.3 3.6l-4.1 -4.1l5.3 0zM222.3 211.0l-5.4 3.2l-4 -2.8l5.3 -4.5zM223.5 206.9l-5.3 0l-4 0.5l5.3 -4.4zM218.2 206.9l-5.3 4.5l-4 -1.8l5.3 -2.2zM214.2 207.4l-5.3 2.2l-4.1 -2.2l5.3 -0.5zM210.1 206.9l-5.3 0.5l-4 -0.9l5.3 -5.2zM206.1 201.3l-5.3 5.2l-4.1 -2.7l5.4 -2.6zM202.1 201.2l-5.4 2.6l-4 -2.1l5.3 -2.5zM196.7 203.8l-5.3 3.6l-4 -3.8l5.3 -1.9zM198.0 199.2l-5.3 2.5l-4 -2.6l5.3 -1.9zM192.7 201.7l-5.3 1.9l-4.1 -0.7l5.4 -3.8zM187.4 203.6l-5.3 5.5l-4.1 -5.2l5.3 -1zM188.7 199.1l-5.4 3.8l-4 -2.1l5.3 -1.5zM184.6 199.3l-5.3 1.5l-4 -3.7l5.3 0.1zM179.3 200.8l-5.3 1.9l-4.1 0.2l5.4 -5.8zM180.6 197.2l-5.3 -0.1l-4.1 0.4l5.4 -3.6zM175.3 197.1l-5.4 5.8l-4 -4.4l5.3 -1zM176.6 193.9l-5.4 3.6l-4 -1.9l5.3 -1.8zM171.2 197.5l-5.3 1l-4 0.2l5.3 -3.1zM172.5 193.8l-5.3 1.8l-4 -3.1l5.3 -3.1zM167.2 195.6l-5.3 3.1l-4.1 -2.5l5.4 -3.7zM163.2 192.5l-5.4 3.7l-4 -0.9l5.3 -4.7zM164.5 189.4l-5.4 1.2l-4 -2.2l5.3 -0.8zM159.1 190.6l-5.3 4.7l-4 -4.4l5.3 -2.5zM155.1 188.4l-5.3 2.5l-4.1 -0.5l5.4 -3.9zM149.8 190.9l-5.4 4.2l-4 -1.6l5.3 -3.1zM151.1 186.5l-5.4 3.9l-4 -1l5.3 -3.3zM147.0 186.1l-5.3 3.3l-4 -2.4l5.3 -2.9zM143.0 184.1l-5.3 2.9l-4.1 -2.9l5.3 -2.7zM137.7 187.0l-5.4 2.5l-4 -0.6l5.3 -4.8z"/>
<path fill="#8fff70" stroke="#8fff70" d="M494.3 249.4l-5.3 2.5l-4.1 -6.8l5.4 -3.5zM489.0 251.9l-5.4 2.7l-4 -6.5l5.3 -3zM474.3 252.3l-5.3 2.8l-4.1 -5.5l5.3 -3.8zM459.6 252.3l-5.3 3l-4.1 -4.3l5.4 -2.8zM450.2 251.0l-5.3 3.1l-4 -4l5.3 -1.9zM444.9 254.1l-5.3 2.4l-4.1 -3.9l5.4 -2.5zM440.9 250.1l-5.4 2.5l-4 -3.9l5.3 -2.3zM435.5 252.6l-5.3 3.1l-4 -2.8l5.3 -4.2zM431.5 248.7l-5.3 4.2l-4.1 -3.7l5.4 -1.9zM426.2 252.9l-5.4 2l-4 -2l5.3 -3.7zM422.1 249.2l-5.3 3.7l-4 -5.2l5.3 -1zM416.8 252.9l-5.3 1l-4.1 -2.6l5.4 -3.6zM411.5 253.9l-5.3 2.8l-4.1 -3.1l5.3 -2.3zM412.8 247.7l-5.4 3.6l-4 -0.5l5.3 -3.6zM407.4 251.3l-5.3 2.3l-4 -0.7l5.3 -2.1zM408.7 247.2l-5.3 3.6l-4 -3.6l5.3 -2.1zM403.4 250.8l-5.3 2.1l-4.1 -4.2l5.4 -1.5zM404.7 245.1l-5.3 2.1l-4.1 -3.1l5.4 -1.4zM399.4 247.2l-5.4 1.5l-4 -3l5.3 -1.6zM394.0 248.7l-5.3 2.6l-4 -1.8l5.3 -3.8zM400.7 242.7l-5.4 1.4l-4 -1.5l5.3 -0.7zM395.3 244.1l-5.3 1.6l-4 -1.2l5.3 -1.9zM390.0 245.7l-5.3 3.8l-4.1 -1.8l5.4 -3.2zM384.7 249.5l-5.3 3.9l-4.1 -1.5l5.3 -4.2zM396.6 241.9l-5.3 0.7l-4 -1.8l5.3 -1.8zM391.3 242.6l-5.3 1.9l-4.1 0.3l5.4 -4zM386.0 244.5l-5.4 3.2l-4 -3.5l5.3 0.6zM380.6 247.7l-5.3 4.2l-4 -5.5l5.3 -2.2zM381.9 244.8l-5.3 -0.6l-4 -0.1l5.3 -2.1zM376.6 244.2l-5.3 2.2l-4.1 0.7l5.4 -3zM371.3 246.4l-5.3 5l-4.1 -1.1l5.3 -3.2zM377.9 242.0l-5.3 2.1l-4.1 -2.4l5.4 -2.2zM372.6 244.1l-5.4 3l-4 -2.8l5.3 -2.6zM373.9 239.5l-5.4 2.2l-4 -1.2l5.3 -2.4zM368.5 241.7l-5.3 2.6l-4 -3.4l5.3 -0.4zM363.2 244.3l-5.3 3.3l-4.1 -2.8l5.4 -3.9zM369.8 238.1l-5.3 2.4l-4 -3.3l5.3 -0.7zM364.5 240.5l-5.3 0.4l-4.1 0.4l5.4 -4.1zM359.2 240.9l-5.4 3.9l-4 -2.2l5.3 -1.3zM365.8 236.5l-5.3 0.7l-4.1 -0.5l5.4 -2.8zM360.5 237.2l-5.4 4.1l-4 -2.3l5.3 -2.3zM355.1 241.3l-5.3 1.3l-4 0.2l5.3 -3.8zM361.8 233.9l-5.4 2.8l-4 -1.7l5.3 -1.9zM356.4 236.7l-5.3 2.3l-4 0.1l5.3 -4.1zM357.7 233.1l-5.3 1.9l-4 -3.7l5.3 -0.2zM352.4 235.0l-5.3 4.1l-4.1 -4.2l5.4 -3.6zM341.7 239.6l-5.3 1.9l-4 0.7l5.3 -5.9zM353.7 231.1l-5.3 0.2l-4.1 0.6l5.3 -2.1zM348.4 231.3l-5.4 3.6l-4 0.5l5.3 -3.5zM343.0 234.9l-5.3 1.4l-4 0.6l5.3 -1.5zM337.7 236.3l-5.3 5.9l-4.1 -4.1l5.4 -1.2zM349.6 229.8l-5.3 2.1l-4 -3l5.3 -0.6zM344.3 231.9l-5.3 3.5l-4 -4.9l5.3 -1.6zM339.0 235.4l-5.3 1.5l-4.1 -2.1l5.4 -4.3zM340.3 228.9l-5.3 1.6l-4.1 -0.3l5.3 -2.9zM335.0 230.5l-5.4 4.3l-4 -2.5l5.3 -2.1zM336.2 227.3l-5.3 2.9l-4 -2.9l5.3 -1.1zM330.9 230.2l-5.3 2.1l-4 -0.7l5.3 -4.3zM320.3 234.5l-5.4 5.1l-4 -3.5l5.3 -4.9zM332.2 226.2l-5.3 1.1l-4.1 -0.9l5.4 -0.8zM326.9 227.3l-5.3 4.3l-4.1 -2.4l5.3 -2.8zM316.2 231.2l-5.3 4.9l-4 -2.4l5.3 -1.9zM328.2 225.6l-5.4 0.8l-4 -3.8l5.3 -2.2zM322.8 226.4l-5.3 2.8l-4 -1.5l5.3 -5.1zM317.5 229.2l-5.3 2.6l-4 -3.1l5.3 -1zM318.8 222.6l-5.3 5.1l-4.1 -1.7l5.4 -2.4zM313.5 227.7l-5.3 1l-4.1 -1.9l5.3 -0.8zM308.2 228.7l-5.4 4.3l-4 -3l5.3 -3.2zM314.8 223.6l-5.4 2.4l-4 -2.8l5.3 -4.1zM309.4 226.0l-5.3 0.8l-4 -0.2l5.3 -3.4zM304.1 226.8l-5.3 3.2l-4 -1.4l5.3 -2zM316.1 219.5l-5.4 -0.4l-4 -1l5.3 0.5zM305.4 223.2l-5.3 3.4l-4.1 -1.2l5.4 -3.9zM301.4 221.5l-5.4 3.9l-4 -5.2l5.3 -0.4zM296.0 225.4l-5.3 0.9l-4 -2.2l5.3 -3.9zM302.7 217.3l-5.4 2.5l-4 -4.3l5.3 0.6zM297.3 219.8l-5.3 0.4l-4 -0.9l5.3 -3.8zM292.0 220.2l-5.3 3.9l-4.1 -2.7l5.4 -2.1zM286.7 224.1l-5.3 4.2l-4.1 -3.1l5.3 -3.8zM288.0 219.3l-5.4 2.1l-4 -0.7l5.3 -3zM282.6 221.4l-5.3 3.8l-4 -1l5.3 -3.5zM289.3 216.0l-5.4 1.7l-4 -1.9l5.3 -1.9zM283.9 217.7l-5.3 3l-4 -2.5l5.3 -2.4zM278.6 220.7l-5.3 3.5l-4.1 -2.4l5.4 -3.6zM285.2 213.9l-5.3 1.9l-4 -1.4l5.3 -1.5zM279.9 215.8l-5.3 2.4l-4.1 -2.4l5.4 -1.4zM274.6 218.2l-5.4 3.6l-4 -0.4l5.3 -5.6zM286.5 211.7l-5.3 1.2l-4.1 -3.3l5.4 -0.7zM281.2 212.9l-5.3 1.5l-4.1 0.4l5.3 -5.2zM275.9 214.4l-5.4 1.4l-4 -0.1l5.3 -0.9zM270.5 215.8l-5.3 5.6l-4 -4l5.3 -1.7zM277.1 209.6l-5.3 5.2l-4 -3.4l5.3 -1.5zM271.8 214.8l-5.3 0.9l-4 -1.2l5.3 -3.1zM273.1 209.9l-5.3 1.5l-4.1 -2.2l5.4 -2.6zM267.8 211.4l-5.3 3.1l-4.1 -3.2l5.3 -2.1zM262.5 214.5l-5.4 2.1l-4 -1.5l5.3 -3.8zM263.7 209.2l-5.3 2.1l-4 -2.7l5.3 -2.2zM258.4 211.3l-5.3 3.8l-4 -3.6l5.3 -2.9zM254.4 208.6l-5.3 2.9l-4.1 -0.1l5.3 -5.5zM249.1 211.5l-5.4 2.2l-4 -0.8l5.3 -1.5zM250.3 205.9l-5.3 5.5l-4 -3.7l5.3 -1.1zM251.6 204.5l-5.3 2.1l-4 -3.2l5.3 -2.7zM246.3 206.6l-5.3 1.1l-4.1 -1.6l5.4 -2.7zM241.0 207.7l-5.3 5.1l-4.1 -2.4l5.3 -4.3zM242.3 203.4l-5.4 2.7l-4 -0.8l5.3 -2.8zM236.9 206.1l-5.3 4.3l-4 -3l5.3 -2.1zM238.2 202.5l-5.3 2.8l-4 -0.9l5.3 -4.5zM232.9 205.3l-5.3 2.1l-4.1 -0.5l5.4 -2.5zM234.2 199.9l-5.3 4.5l-4.1 -4.7l5.4 -0.4zM228.9 204.4l-5.4 2.5l-4 -3.9l5.3 -3.3zM230.2 199.3l-5.4 0.4l-4 -1.6l5.3 -0.6zM224.8 199.7l-5.3 3.3l-4 -1.9l5.3 -3zM219.5 203.0l-5.3 4.4l-4.1 -0.5l5.4 -5.8zM226.1 197.5l-5.3 0.6l-4 0.1l5.3 -3.3zM220.8 198.1l-5.3 3l-4.1 -1.6l5.4 -1.3zM215.5 201.1l-5.4 5.8l-4 -5.6l5.3 -1.8zM222.1 194.9l-5.3 3.3l-4.1 -1.9l5.4 -1.6zM216.8 198.2l-5.4 1.3l-4 -0.9l5.3 -2.3zM211.4 199.5l-5.3 1.8l-4 -0.1l5.3 -2.6zM218.1 194.7l-5.4 1.6l-4 -2.4l5.3 -2.1zM212.7 196.3l-5.3 2.3l-4 -2.6l5.3 -2.1zM207.4 198.6l-5.3 2.6l-4.1 -2l5.4 -3.2zM219.3 190.5l-5.3 1.3l-4 -3.6l5.3 0.9zM208.7 193.9l-5.3 2.1l-4.1 -1.5l5.4 -2.1zM203.4 196.0l-5.4 3.2l-4 -2l5.3 -2.7zM204.7 192.4l-5.4 2.1l-4 -2l5.3 -1.9zM199.3 194.5l-5.3 2.7l-4 -2.7l5.3 -2zM194.0 197.2l-5.3 1.9l-4.1 0.2l5.4 -4.8zM200.6 190.6l-5.3 1.9l-4 -1.3l5.3 -2.5zM195.3 192.5l-5.3 2l-4.1 -0.1l5.4 -3.2zM190.0 194.5l-5.4 4.8l-4 -2.1l5.3 -2.8zM196.6 188.7l-5.3 2.5l-4.1 -4l5.3 -0.3zM191.3 191.2l-5.4 3.2l-4 -4l5.3 -3.2zM185.9 194.4l-5.3 2.8l-4 -3.3l5.3 -3.5zM192.5 186.9l-5.3 0.3l-4 0.3l5.3 -2.5zM187.2 187.2l-5.3 3.2l-4 -1.4l5.3 -1.5zM181.9 190.4l-5.3 3.5l-4.1 -0.1l5.4 -4.8zM183.2 187.5l-5.3 1.5l-4.1 -3l5.3 -2.1zM177.9 189.0l-5.4 4.8l-4 -4.4l5.3 -3.4zM184.5 183.3l-5.4 0.6l-4 -0.2l5.3 -1.6zM173.8 186.0l-5.3 3.4l-4 0l5.3 -4.9zM168.5 189.4l-5.3 3.1l-4.1 -1.9l5.4 -1.2zM175.1 183.7l-5.3 0.8l-4.1 -0.6l5.4 -2.7zM169.8 184.5l-5.3 4.9l-4.1 -1.8l5.3 -3.7zM165.7 183.9l-5.3 3.7l-4 -3.9l5.3 0.1zM160.4 187.6l-5.3 0.8l-4 -1.9l5.3 -2.8zM161.7 183.8l-5.3 -0.1l-4.1 -1l5.4 -3.1zM156.4 183.7l-5.3 2.8l-4.1 -0.4l5.3 -3.4zM157.7 179.6l-5.4 3.1l-4 -3.1l5.3 0.1zM152.3 182.7l-5.3 3.4l-4 -2l5.3 -4.5zM153.6 179.7l-5.3 -0.1l-4 0.6l5.3 -3.5zM148.3 179.6l-5.3 4.5l-4.1 -2.7l5.4 -1.2z"/>
<path fill="#9fff60" stroke="#9fff60" d="M504.9 243.5l-5.3 2.8l-4 -7.5l5.3 -3.2zM499.6 246.3l-5.3 3.1l-4 -7.8l5.3 -2.8zM484.9 245.1l-5.3 3l-4 -5.9l5.3 -2.2zM479.6 248.1l-5.3 4.2l-4.1 -6.5l5.4 -3.6zM470.2 245.8l-5.3 3.8l-4 -5.2l5.3 -3.2zM464.9 249.6l-5.3 2.7l-4 -4.1l5.3 -3.8zM460.9 244.4l-5.3 3.8l-4.1 -4.9l5.3 -1.9zM455.6 248.2l-5.4 2.8l-4 -2.8l5.3 -4.9zM446.2 248.2l-5.3 1.9l-4.1 -3.7l5.4 -3.6zM436.8 246.4l-5.3 2.3l-4 -1.4l5.3 -1.5zM432.8 245.8l-5.3 1.5l-4.1 -3.2l5.4 -4.2zM427.5 247.3l-5.4 1.9l-4 -2.5l5.3 -2.6zM423.4 244.1l-5.3 2.6l-4 -3.3l5.3 -3.1zM418.1 246.7l-5.3 1l-4.1 -0.5l5.4 -3.8zM424.7 239.5l-5.3 0.8l-4 -1.6l5.3 -0.4zM414.1 243.4l-5.4 3.8l-4 -2.1l5.3 -4.8zM415.4 238.7l-5.4 1.6l-4 -1.6l5.3 -0.5zM410.0 240.3l-5.3 4.8l-4 -2.4l5.3 -4zM411.3 238.2l-5.3 0.5l-4 0.3l5.3 -2.6zM406.0 238.7l-5.3 4l-4.1 -0.8l5.4 -2.9zM407.3 236.4l-5.3 2.6l-4.1 -3.3l5.3 -2.4zM402.0 239.0l-5.4 2.9l-4 -2.9l5.3 -3.3zM397.9 235.7l-5.3 3.3l-4 -3.2l5.3 -1zM392.6 239.0l-5.3 1.8l-4.1 -2.7l5.4 -2.3zM387.3 240.8l-5.4 4l-4 -2.8l5.3 -3.9zM393.9 234.8l-5.3 1l-4.1 -1.3l5.3 -2.1zM388.6 235.8l-5.4 2.3l-4 -0.8l5.3 -2.8zM383.2 238.1l-5.3 3.9l-4 -2.5l5.3 -2.2zM389.8 232.4l-5.3 2.1l-4 -2l5.3 -2.1zM384.5 234.5l-5.3 2.8l-4 -3.3l5.3 -1.5zM379.2 237.3l-5.3 2.2l-4.1 -1.4l5.4 -4.1zM380.5 232.5l-5.3 1.5l-4.1 -1l5.3 -1zM375.2 234.0l-5.4 4.1l-4 -1.6l5.3 -3.5zM376.4 232.0l-5.3 1l-4 -1.3l5.3 -1.7zM371.1 233.0l-5.3 3.5l-4 -2.6l5.3 -2.2zM383.1 226.2l-5.4 1.8l-4 -2.9l5.3 -0.7zM377.7 228.0l-5.3 2l-4 -3.6l5.3 -1.3zM372.4 230.0l-5.3 1.7l-4.1 -0.8l5.4 -4.5zM367.1 231.7l-5.3 2.2l-4.1 -0.8l5.3 -2.2zM368.4 226.4l-5.4 4.5l-4 -2.4l5.3 -1.6zM363.0 230.9l-5.3 2.2l-4 -2l5.3 -2.6zM364.3 226.9l-5.3 1.6l-4 -2.3l5.3 -2.2zM359.0 228.5l-5.3 2.6l-4.1 -1.3l5.4 -3.6zM360.3 224.0l-5.3 2.2l-4.1 -0.7l5.4 -2.9zM355.0 226.2l-5.4 3.6l-4 -1.5l5.3 -2.8zM356.3 222.6l-5.4 2.9l-4 -2.9l5.3 -1.9zM350.9 225.5l-5.3 2.8l-4 -4.5l5.3 -1.2zM345.6 228.3l-5.3 0.6l-4.1 -1.6l5.4 -3.5zM352.2 220.7l-5.3 1.9l-4 -1.9l5.3 -1.6zM346.9 222.6l-5.3 1.2l-4.1 -1.5l5.4 -1.6zM341.6 223.8l-5.4 3.5l-4 -1.1l5.3 -3.9zM342.9 220.7l-5.4 1.6l-4 -0.9l5.3 -1.9zM337.5 222.3l-5.3 3.9l-4 -0.6l5.3 -4.2zM338.8 219.5l-5.3 1.9l-4 -2.1l5.3 -1.9zM333.5 221.4l-5.3 4.2l-4.1 -5.2l5.4 -1.1zM334.8 217.4l-5.3 1.9l-4.1 -1.7l5.3 -2.1zM329.5 219.3l-5.4 1.1l-4 -0.3l5.3 -2.5zM324.1 220.4l-5.3 2.2l-4 1l5.3 -3.5zM330.7 215.5l-5.3 2.1l-4 -0.8l5.3 -3.1zM325.4 217.6l-5.3 2.5l-4 -0.6l5.3 -2.7zM320.1 220.1l-5.3 3.5l-4.1 -4.5l5.4 0.4zM326.7 213.7l-5.3 3.1l-4.1 -2.8l5.4 -0.5zM321.4 216.8l-5.3 2.7l-4.1 -0.9l5.3 -4.6zM310.7 219.1l-5.3 4.1l-4 -1.7l5.3 -3.4zM322.7 213.5l-5.4 0.5l-4 -0.8l5.3 -4.5zM317.3 214.0l-5.3 4.6l-4 -4.5l5.3 -0.9zM312.0 218.6l-5.3 -0.5l-4 -0.8l5.3 -3.2zM306.7 218.1l-5.3 3.4l-4.1 -1.7l5.4 -2.5zM313.3 213.2l-5.3 0.9l-4.1 -2.7l5.4 -0.5zM308.0 214.1l-5.3 3.2l-4.1 -1.2l5.3 -4.7zM314.6 209.0l-5.3 1.9l-4.1 -1.7l5.4 -1.7zM309.3 210.9l-5.4 0.5l-4 1l5.3 -3.2zM303.9 211.4l-5.3 4.7l-4 -4.1l5.3 0.4zM298.6 216.1l-5.3 -0.6l-4 0.5l5.3 -4zM293.3 215.5l-5.3 3.8l-4.1 -1.6l5.4 -1.7zM305.2 209.2l-5.3 3.2l-4 -3.7l5.3 -0.8zM299.9 212.4l-5.3 -0.4l-4.1 -0.6l5.4 -2.7zM294.6 212.0l-5.3 4l-4.1 -2.1l5.3 -2.5zM301.2 207.9l-5.3 0.8l-4.1 -2.1l5.4 -1.5zM295.9 208.7l-5.4 2.7l-4 0.3l5.3 -5.1zM290.5 211.4l-5.3 2.5l-4 -1l5.3 -1.2zM291.8 206.6l-5.3 5.1l-4 -2.8l5.3 -2.2zM287.8 206.7l-5.3 2.2l-4.1 -3.6l5.4 -3zM282.5 208.9l-5.4 0.7l-4 0.3l5.3 -4.6zM278.4 205.3l-5.3 4.6l-4 -3.3l5.3 -0.7zM279.7 201.6l-5.3 4.3l-4 -3.8l5.3 -1.5zM274.4 205.9l-5.3 0.7l-4.1 -1.4l5.4 -3.1zM269.1 206.6l-5.4 2.6l-4 -2.8l5.3 -1.2zM275.7 200.6l-5.3 1.5l-4.1 -2.2l5.4 -0.9zM270.4 202.1l-5.4 3.1l-4 -1.9l5.3 -3.4zM265.0 205.2l-5.3 1.2l-4 -2.1l5.3 -1zM259.7 206.4l-5.3 2.2l-4.1 -2.7l5.4 -1.6zM271.7 199.0l-5.4 0.9l-4 -1.7l5.3 -2.1zM266.3 199.9l-5.3 3.4l-4 -1.8l5.3 -3.3zM261.0 203.3l-5.3 1l-4.1 0.2l5.4 -3zM255.7 204.3l-5.4 1.6l-4 0.7l5.3 -2.1zM272.9 195.2l-5.3 0.9l-4 -1.2l5.3 -0.4zM262.3 198.2l-5.3 3.3l-4.1 -1.8l5.4 -1.9zM257.0 201.5l-5.4 3l-4 -3.8l5.3 -1zM258.3 197.8l-5.4 1.9l-4 -2.9l5.3 -0.1zM252.9 199.7l-5.3 1l-4 -0.4l5.3 -3.5zM247.6 200.7l-5.3 2.7l-4.1 -0.9l5.4 -2.2zM254.2 196.7l-5.3 0.1l-4 0.1l5.3 -3.4zM248.9 196.8l-5.3 3.5l-4.1 -2.3l5.4 -1.1zM243.6 200.3l-5.4 2.2l-4 -2.6l5.3 -1.9zM250.2 193.5l-5.3 3.4l-4.1 -1.7l5.3 -3.1zM244.9 196.9l-5.4 1.1l-4 -1.3l5.3 -1.5zM239.5 198.0l-5.3 1.9l-4 -0.6l5.3 -2.6zM246.1 192.1l-5.3 3.1l-4 -2l5.3 -3.5zM240.8 195.2l-5.3 1.5l-4 -2.8l5.3 -0.7zM235.5 196.7l-5.3 2.6l-4.1 -1.8l5.4 -3.6zM236.8 193.2l-5.3 0.7l-4.1 -2.9l5.3 -1.2zM231.5 193.9l-5.4 3.6l-4 -2.6l5.3 -3.9zM243.4 186.9l-5.3 1.1l-4.1 -2l5.4 -0.2zM232.7 189.8l-5.3 1.2l-4 -2.7l5.3 -0.3zM239.4 185.8l-5.4 0.2l-4 -1.2l5.3 -1.2zM228.7 188.0l-5.3 0.3l-4.1 2.2l5.4 -3.9zM223.4 188.3l-5.3 6.4l-4.1 -2.9l5.3 -1.3zM224.7 186.6l-5.4 3.9l-4 -1.4l5.3 -3.8zM214.0 191.8l-5.3 2.1l-4 -1.5l5.3 -4.2zM220.6 185.3l-5.3 3.8l-4 -3.9l5.3 -2zM215.3 189.1l-5.3 -0.9l-4.1 -0.3l5.4 -2.7zM210.0 188.2l-5.3 4.2l-4.1 -1.8l5.3 -2.7zM216.6 183.2l-5.3 2l-4.1 -1.6l5.4 -1zM211.3 185.2l-5.4 2.7l-4 -2.2l5.3 -2.1zM205.9 187.9l-5.3 2.7l-4 -1.9l5.3 -3zM212.6 182.6l-5.4 1l-4 -2.8l5.3 -0.8zM207.2 183.6l-5.3 2.1l-4 -1.5l5.3 -3.4zM201.9 185.7l-5.3 3l-4.1 -1.8l5.4 -2.7zM208.5 180.0l-5.3 0.8l-4 -2.3l5.3 0.4zM197.9 184.2l-5.4 2.7l-4 -1.9l5.3 -2.2zM204.5 178.9l-5.3 -0.4l-4.1 -1.2l5.3 -1.1zM193.8 182.8l-5.3 2.2l-4 -1.7l5.3 -2.7zM188.5 185.0l-5.3 2.5l-4.1 -3.6l5.4 -0.6zM200.4 176.2l-5.3 1.1l-4 -0.5l5.3 -1zM189.8 180.6l-5.3 2.7l-4.1 -1.2l5.4 -4.9zM179.1 183.9l-5.3 2.1l-4 -1.5l5.3 -0.8zM196.4 175.8l-5.3 1l-4.1 -3.3l5.4 -1.1zM185.8 177.2l-5.4 4.9l-4 -4.9l5.3 -0.4zM180.4 182.1l-5.3 1.6l-4 -2.5l5.3 -4zM181.7 176.8l-5.3 0.4l-4 -0.1l5.3 -3.2zM176.4 177.2l-5.3 4l-4.1 -2.8l5.4 -1.3zM171.1 181.2l-5.4 2.7l-4 -0.1l5.3 -5.4zM177.7 173.9l-5.3 3.2l-4.1 -4.2l5.3 1.3zM172.4 177.1l-5.4 1.3l-4 -0.9l5.3 -4.6zM167.0 178.4l-5.3 5.4l-4 -4.2l5.3 -2.1zM173.6 174.2l-5.3 -1.3l-4 -0.2l5.3 -0.6zM163.0 177.5l-5.3 2.1l-4.1 0.1l5.4 -3.7zM169.6 172.1l-5.3 0.6l-4.1 -1.3l5.4 -1.6zM164.3 172.7l-5.3 3.3l-4.1 -0.9l5.3 -3.7zM159.0 176.0l-5.4 3.7l-4 -3l5.3 -1.6z"/>
<path fill="#afff50" stroke="#afff50" d="M520.9 237.9l-5.3 1.7l-4 -8.7l5.3 -1.9zM515.6 239.6l-5.3 0.8l-4.1 -7.2l5.4 -2.3zM510.3 240.4l-5.4 3.1l-4 -7.9l5.3 -2.4zM490.3 241.6l-5.4 3.5l-4 -5.1l5.3 -4.2zM475.6 242.2l-5.4 3.6l-4 -4.6l5.3 -3zM466.2 241.2l-5.3 3.2l-4.1 -3l5.4 -4.9zM456.8 241.4l-5.3 1.9l-4 -3.1l5.3 -2.6zM451.5 243.3l-5.3 4.9l-4 -5.4l5.3 -2.6zM447.5 240.2l-5.3 2.6l-4.1 -2.6l5.3 -1.9zM442.2 242.8l-5.4 3.6l-4 -0.6l5.3 -5.6zM443.4 238.3l-5.3 1.9l-4 -0.4l5.3 -4.2zM438.1 240.2l-5.3 5.6l-4 -5.9l5.3 -0.1zM434.1 239.8l-5.3 0.1l-4.1 -0.4l5.3 -4zM428.8 239.9l-5.4 4.2l-4 -3.8l5.3 -0.8zM430.0 235.5l-5.3 4l-4 -1.2l5.3 -4.8zM419.4 240.3l-5.3 3.1l-4.1 -3.1l5.4 -1.6zM420.7 238.3l-5.3 0.4l-4.1 -0.5l5.3 -3zM416.6 235.2l-5.3 3l-4 -1.8l5.3 -1.8zM417.9 230.1l-5.3 4.5l-4 -3.1l5.3 -2.2zM412.6 234.6l-5.3 1.8l-4.1 -3.1l5.4 -1.8zM413.9 229.3l-5.3 2.2l-4.1 -1.8l5.4 -2.8zM408.6 231.5l-5.4 1.8l-4 0l5.3 -3.6zM403.2 233.3l-5.3 2.4l-4 -0.9l5.3 -1.5zM404.5 229.7l-5.3 3.6l-4 -4.6l5.3 -1.6zM399.2 233.3l-5.3 1.5l-4.1 -2.4l5.4 -3.7zM400.5 227.1l-5.3 1.6l-4.1 -0.3l5.4 -2.9zM395.2 228.7l-5.4 3.7l-4 -2l5.3 -2zM401.8 224.5l-5.3 1l-4.1 -1.8l5.3 -1.8zM396.5 225.5l-5.4 2.9l-4 -3.1l5.3 -1.6zM391.1 228.4l-5.3 2l-4 -2.6l5.3 -2.5zM385.8 230.4l-5.3 2.1l-4.1 -0.5l5.4 -4.2zM392.4 223.7l-5.3 1.6l-4 0.9l5.3 -3.4zM387.1 225.3l-5.3 2.5l-4.1 0.2l5.4 -1.8zM381.8 227.8l-5.4 4.2l-4 -2l5.3 -2zM388.4 222.8l-5.3 3.4l-4.1 -1.8l5.3 -5.3zM379.0 224.4l-5.3 0.7l-4 -1.3l5.3 -2.5zM373.7 225.1l-5.3 1.3l-4.1 0.5l5.4 -3.1zM375.0 221.3l-5.3 2.5l-4.1 -1.4l5.3 -4.9zM369.7 223.8l-5.4 3.1l-4 -2.9l5.3 -1.6zM376.3 217.2l-5.4 0.3l-4 1l5.3 -2.8zM370.9 217.5l-5.3 4.9l-4 -2.8l5.3 -1.1zM365.6 222.4l-5.3 1.6l-4 -1.4l5.3 -3zM366.9 218.5l-5.3 1.1l-4.1 -0.4l5.4 -3.1zM361.6 219.6l-5.3 3l-4.1 -1.9l5.3 -1.5zM362.9 216.1l-5.4 3.1l-4 -2l5.3 -2.6zM357.5 219.2l-5.3 1.5l-4 -1.6l5.3 -1.9zM358.8 214.6l-5.3 2.6l-4 -2.5l5.3 -3.7zM353.5 217.2l-5.3 1.9l-4.1 -4.2l5.4 -0.2zM348.2 219.1l-5.3 1.6l-4.1 -1.2l5.3 -4.6zM349.5 214.7l-5.4 0.2l-4 -1.7l5.3 -0.7zM344.1 214.9l-5.3 4.6l-4 -2.1l5.3 -4.2zM345.4 212.5l-5.3 0.7l-4 0.6l5.3 -3.1zM340.1 213.2l-5.3 4.2l-4.1 -1.9l5.4 -1.7zM346.7 209.2l-5.3 1.5l-4 -1.3l5.3 -1.7zM341.4 210.7l-5.3 3.1l-4.1 -2.2l5.4 -2.2zM336.1 213.8l-5.4 1.7l-4 -1.8l5.3 -2.1zM342.7 207.7l-5.3 1.7l-4.1 0.2l5.4 -3.2zM337.4 209.4l-5.4 2.2l-4 -1.5l5.3 -0.5zM332.0 211.6l-5.3 2.1l-4 -0.2l5.3 -3.4zM338.7 206.4l-5.4 3.2l-4 -4.6l5.3 -2.2zM333.3 209.6l-5.3 0.5l-4 -1.9l5.3 -3.2zM328.0 210.1l-5.3 3.4l-4.1 -4.8l5.4 -0.5zM329.3 205.0l-5.3 3.2l-4.1 -1.5l5.4 -1.9zM324.0 208.2l-5.4 0.5l-4 0.3l5.3 -2.3zM318.6 208.7l-5.3 4.5l-4 -2.3l5.3 -1.9zM325.3 204.8l-5.4 1.9l-4 -2.5l5.3 -3.2zM319.9 206.7l-5.3 2.3l-4 -1.5l5.3 -3.3zM315.9 204.2l-5.3 3.3l-4.1 -3l5.4 -2.2zM310.6 207.5l-5.4 1.7l-4 -1.3l5.3 -3.4zM311.9 202.3l-5.4 2.2l-4 -2l5.3 -2zM306.5 204.5l-5.3 3.4l-4 -2.8l5.3 -2.6zM307.8 200.5l-5.3 2l-4 -1.9l5.3 -1.1zM302.5 202.5l-5.3 2.6l-4.1 -2.3l5.4 -2.2zM297.2 205.1l-5.4 1.5l-4 0.1l5.3 -3.9zM309.1 197.3l-5.3 2.2l-4.1 -3l5.4 -0.6zM303.8 199.5l-5.3 1.1l-4.1 -2.5l5.3 -1.6zM298.5 200.6l-5.4 2.2l-4 -1.3l5.3 -3.4zM293.1 202.8l-5.3 3.9l-4 -4.4l5.3 -0.8zM305.1 195.9l-5.4 0.6l-4 -1.9l5.3 -1.6zM294.4 198.1l-5.3 3.4l-4 -0.5l5.3 -2.1zM289.1 201.5l-5.3 0.8l-4.1 -0.7l5.4 -0.6zM283.8 202.3l-5.4 3l-4 0.6l5.3 -4.3zM295.7 194.6l-5.3 4.3l-4.1 -2.2l5.4 -2.7zM290.4 198.9l-5.3 2.1l-4.1 -4.5l5.3 0.2zM285.1 201.0l-5.4 0.6l-4 -1l5.3 -4.1zM291.7 194.0l-5.4 2.7l-4 -2.5l5.3 -1zM286.3 196.7l-5.3 -0.2l-4 -1.2l5.3 -1.1zM281.0 196.5l-5.3 4.1l-4 -1.6l5.3 -3.7zM287.6 193.2l-5.3 1l-4 -2l5.3 -2.5zM282.3 194.2l-5.3 1.1l-4.1 -0.1l5.4 -3zM277.0 195.3l-5.3 3.7l-4.1 -2.9l5.3 -0.9zM283.6 189.7l-5.3 2.5l-4.1 -1l5.4 -2.2zM278.3 192.2l-5.4 3l-4 -0.7l5.3 -3.3zM267.6 196.1l-5.3 2.1l-4 -0.4l5.3 -2.9zM279.6 189.0l-5.4 2.2l-4 -3.5l5.3 -0.8zM274.2 191.2l-5.3 3.3l-4 -3.3l5.3 -3.5zM268.9 194.5l-5.3 0.4l-4.1 -2l5.4 -1.7zM263.6 194.9l-5.3 2.9l-4.1 -1.1l5.3 -3.8zM264.9 191.2l-5.4 1.7l-4 -1.2l5.3 -2.5zM259.5 192.9l-5.3 3.8l-4 -3.2l5.3 -1.8zM266.2 186.4l-5.4 2.8l-4 -1.9l5.3 -1.8zM260.8 189.2l-5.3 2.5l-4 -2.4l5.3 -2zM255.5 191.7l-5.3 1.8l-4.1 -1.4l5.4 -2.8zM262.1 185.5l-5.3 1.8l-4 -1.8l5.3 -3.2zM256.8 187.3l-5.3 2l-4.1 -2.2l5.4 -1.6zM251.5 189.3l-5.4 2.8l-4 -2.4l5.3 -2.6zM258.1 182.3l-5.3 3.2l-4.1 -3.4l5.3 1.3zM252.8 185.5l-5.4 1.6l-4 -0.2l5.3 -4.8zM247.4 187.1l-5.3 2.6l-4 -1.7l5.3 -1.1zM242.1 189.7l-5.3 3.5l-4.1 -3.4l5.4 -1.8zM254.0 183.4l-5.3 -1.3l-4 0.3l5.3 -2.6zM248.7 182.1l-5.3 4.8l-4 -1.1l5.3 -3.4zM238.1 188.0l-5.4 1.8l-4 -1.8l5.3 -2zM227.4 191.0l-5.3 3.9l-4 -0.2l5.3 -6.4zM250.0 179.8l-5.3 2.6l-4.1 -1.3l5.4 -1.2zM244.7 182.4l-5.3 3.4l-4.1 -2.2l5.3 -2.5zM234.0 186.0l-5.3 2l-4 -1.4l5.3 -1.8zM246.0 179.9l-5.4 1.2l-4 -3.8l5.3 0.1zM240.6 181.1l-5.3 2.5l-4 -3.3l5.3 -3zM235.3 183.6l-5.3 1.2l-4 -2.2l5.3 -2.3zM230.0 184.8l-5.3 1.8l-4.1 -1.3l5.4 -2.7zM241.9 177.4l-5.3 -0.1l-4 -2l5.3 -0.1zM231.3 180.3l-5.3 2.3l-4.1 -2.3l5.3 -1.7zM226.0 182.6l-5.4 2.7l-4 -2.1l5.3 -2.9zM227.2 178.6l-5.3 1.7l-4 -1l5.3 -2.8zM221.9 180.3l-5.3 2.9l-4 -0.6l5.3 -3.3zM228.5 176.1l-5.3 0.4l-4 -1.3l5.3 -2.4zM223.2 176.5l-5.3 2.8l-4.1 -1.9l5.4 -2.2zM217.9 179.3l-5.3 3.3l-4.1 -2.6l5.3 -2.6zM213.8 177.4l-5.3 2.6l-4 -1.1l5.3 -3.7zM203.2 180.8l-5.3 3.4l-4.1 -1.4l5.4 -4.3zM209.8 175.2l-5.3 3.7l-4.1 -2.7l5.4 -3.7zM199.2 178.5l-5.4 4.3l-4 -2.2l5.3 -3.3zM211.1 172.1l-5.3 0.4l-4.1 -0.4l5.4 -3.5zM205.8 172.5l-5.4 3.7l-4 -0.4l5.3 -3.7zM195.1 177.3l-5.3 3.3l-4 -3.4l5.3 -0.4zM212.4 169.1l-5.3 -0.5l-4.1 -0.1l5.4 -2.1zM201.7 172.1l-5.3 3.7l-4 -3.4l5.3 -2.9zM191.1 176.8l-5.3 0.4l-4.1 -0.4l5.3 -3.3zM203.0 168.5l-5.3 1l-4 -2.5l5.3 0zM192.4 172.4l-5.4 1.1l-4 -0.3l5.3 -2.3zM187.0 173.5l-5.3 3.3l-4 -2.9l5.3 -0.7zM188.3 170.9l-5.3 2.3l-4 -3.5l5.3 -1.5zM183.0 173.2l-5.3 0.7l-4.1 0.3l5.4 -4.5zM184.3 168.2l-5.3 1.5l-4.1 -1.6l5.4 -1.6zM179.0 169.7l-5.4 4.5l-4 -2.1l5.3 -4zM168.3 172.9l-5.3 4.6l-4 -1.5l5.3 -3.3zM185.6 164.4l-5.3 2.1l-4.1 -2.3l5.4 -0.8zM180.3 166.5l-5.4 1.6l-4 -1.1l5.3 -2.8zM174.9 168.1l-5.3 4l-4 -2.3l5.3 -2.8z"/>
<path fill="#bfff40" stroke="#bfff40" d="M547.6 229.6l-5.4 1.3l-4 -9.5l5.3 -2.5zM542.2 230.9l-5.3 2l-4 -10.6l5.3 -0.9zM536.9 232.9l-5.3 1.1l-4.1 -9.1l5.4 -2.6zM531.6 234.0l-5.3 1.4l-4.1 -8.7l5.3 -1.8zM526.3 235.4l-5.4 2.5l-4 -8.9l5.3 -2.3zM500.9 235.6l-5.3 3.2l-4.1 -7.1l5.4 -0.7zM495.6 238.8l-5.3 2.8l-4.1 -5.8l5.3 -4.1zM486.2 235.8l-5.3 4.2l-4 -5.7l5.3 -1.9zM480.9 240.0l-5.3 2.2l-4.1 -4l5.4 -3.9zM476.9 234.3l-5.4 3.9l-4 -3.8l5.3 -2.1zM471.5 238.2l-5.3 3l-4 -4.7l5.3 -2.1zM467.5 234.4l-5.3 2.1l-4.1 -2.9l5.4 -1.5zM462.2 236.5l-5.4 4.9l-4 -3.8l5.3 -4zM458.1 233.6l-5.3 4l-4 -3.2l5.3 -2.7zM452.8 237.6l-5.3 2.6l-4.1 -1.9l5.4 -3.9zM448.8 234.4l-5.4 3.9l-4 -2.7l5.3 -4.1zM444.7 231.5l-5.3 4.1l-4 -2l5.3 -3.4zM439.4 235.6l-5.3 4.2l-4.1 -4.3l5.4 -1.9zM440.7 230.2l-5.3 3.4l-4.1 -1.3l5.4 -2.4zM435.4 233.6l-5.4 1.9l-4 -2l5.3 -1.2zM436.7 229.9l-5.4 2.4l-4 -3.7l5.3 -1.3zM431.3 232.3l-5.3 1.2l-4 -2l5.3 -2.9zM426.0 233.5l-5.3 4.8l-4.1 -3.1l5.4 -3.7zM432.6 227.3l-5.3 1.3l-4 -1.4l5.3 -1.6zM427.3 228.6l-5.3 2.9l-4.1 -1.4l5.4 -2.9zM422.0 231.5l-5.4 3.7l-4 -0.6l5.3 -4.5zM428.6 225.6l-5.3 1.6l-4.1 -0.5l5.3 -3.2zM423.3 227.2l-5.4 2.9l-4 -0.8l5.3 -2.6zM424.5 223.5l-5.3 3.2l-4 -3.1l5.3 -1.5zM419.2 226.7l-5.3 2.6l-4 -2.4l5.3 -3.3zM420.5 222.1l-5.3 1.5l-4.1 -1.5l5.4 -2.7zM415.2 223.6l-5.3 3.3l-4.1 -3.3l5.3 -1.5zM409.9 226.9l-5.4 2.8l-4 -2.6l5.3 -3.5zM411.1 222.1l-5.3 1.5l-4 0.9l5.3 -4.5zM405.8 223.6l-5.3 3.5l-4 -1.6l5.3 -1zM407.1 220.0l-5.3 4.5l-4.1 -2.6l5.4 -2.1zM408.4 218.0l-5.3 1.8l-4.1 -3.1l5.4 -1.5zM403.1 219.8l-5.4 2.1l-4 -2l5.3 -3.2zM397.7 221.9l-5.3 1.8l-4 -0.9l5.3 -2.9zM404.4 215.2l-5.4 1.5l-4 -3.1l5.3 0.3zM393.7 219.9l-5.3 2.9l-4.1 -3.7l5.4 -2.7zM389.7 216.4l-5.4 2.7l-4 -0.8l5.3 -3.9zM384.3 219.1l-5.3 5.3l-4 -3.1l5.3 -3zM385.6 214.4l-5.3 3.9l-4 -1.1l5.3 -2.4zM380.3 218.3l-5.3 3l-4.1 -3.8l5.4 -0.3zM381.6 214.8l-5.3 2.4l-4.1 -1.5l5.4 -3.6zM377.6 212.1l-5.4 3.6l-4 -2.7l5.3 -2.1zM372.2 215.7l-5.3 2.8l-4 -2.4l5.3 -3.1zM373.5 210.9l-5.3 2.1l-4 -0.5l5.3 -4.5zM368.2 213.0l-5.3 3.1l-4.1 -1.5l5.4 -2.1zM369.5 208.0l-5.3 4.5l-4.1 -3.3l5.4 -2zM364.2 212.5l-5.4 2.1l-4 -3.6l5.3 -1.8zM365.5 207.2l-5.4 2l-4 -0.5l5.3 -1.9zM360.1 209.2l-5.3 1.8l-4 -1.9l5.3 -0.4zM354.8 211.0l-5.3 3.7l-4.1 -2.2l5.4 -3.4zM361.4 206.8l-5.3 1.9l-4 -5.3l5.3 -0.1zM356.1 208.7l-5.3 0.4l-4.1 0.1l5.4 -5.8zM350.8 209.1l-5.4 3.4l-4 -1.8l5.3 -1.5zM357.4 203.3l-5.3 0.1l-4.1 1.2l5.3 -2.3zM352.1 203.4l-5.4 5.8l-4 -1.5l5.3 -3.1zM353.3 202.3l-5.3 2.3l-4 -1.5l5.3 -4.3zM348.0 204.6l-5.3 3.1l-4 -1.3l5.3 -3.3zM344.0 203.1l-5.3 3.3l-4.1 -3.6l5.3 -2.7zM339.9 200.1l-5.3 2.7l-4 -2.4l5.3 -1.4zM334.6 202.8l-5.3 2.2l-4 -0.2l5.3 -4.4zM335.9 199.0l-5.3 1.4l-4.1 -2.3l5.4 -1.2zM330.6 200.4l-5.3 4.4l-4.1 -3.8l5.3 -2.9zM331.9 196.9l-5.4 1.2l-4 1l5.3 -2.8zM326.5 198.1l-5.3 2.9l-4 -1.5l5.3 -0.4zM321.2 201.0l-5.3 3.2l-4 -1.9l5.3 -2.8zM327.8 196.3l-5.3 2.8l-4 -3.6l5.3 -1.4zM322.5 199.1l-5.3 0.4l-4.1 -1.6l5.4 -2.4zM317.2 199.5l-5.3 2.8l-4.1 -1.8l5.3 -2.6zM323.8 194.1l-5.3 1.4l-4.1 -0.2l5.4 -1.4zM318.5 195.5l-5.4 2.4l-4 -0.6l5.3 -2zM313.1 197.9l-5.3 2.6l-4 -1l5.3 -2.2zM319.8 193.9l-5.4 1.4l-4 -2.9l5.3 -3.2zM314.4 195.3l-5.3 2l-4 -1.4l5.3 -3.5zM310.4 192.4l-5.3 3.5l-4.1 -2.9l5.4 -2zM299.7 196.5l-5.3 1.6l-4 0.8l5.3 -4.3zM317.0 188.1l-5.3 0.5l-4.1 -1.1l5.4 -2.9zM311.7 188.6l-5.3 2.4l-4.1 -2.4l5.3 -1.1zM306.4 191.0l-5.4 2l-4 -1.9l5.3 -2.5zM301.0 193.0l-5.3 1.6l-4 -0.6l5.3 -2.9zM307.6 187.5l-5.3 1.1l-4 -1.9l5.3 -1.1zM302.3 188.6l-5.3 2.5l-4 -2l5.3 -2.4zM297.0 191.1l-5.3 2.9l-4.1 -0.8l5.4 -4.1zM303.6 185.6l-5.3 1.1l-4.1 -1.8l5.4 -1.3zM298.3 186.7l-5.3 2.4l-4.1 -1.6l5.3 -2.6zM293.0 189.1l-5.4 4.1l-4 -3.5l5.3 -2.2zM294.2 184.9l-5.3 2.6l-4 -0.8l5.3 -2.4zM288.9 187.5l-5.3 2.2l-4 -0.7l5.3 -2.3zM290.2 184.3l-5.3 2.4l-4.1 -2.4l5.4 -2.8zM284.9 186.7l-5.3 2.3l-4.1 -2.1l5.3 -2.6zM286.2 181.5l-5.4 2.8l-4 -2.3l5.3 -1.1zM280.8 184.3l-5.3 2.6l-4 -3.6l5.3 -1.3zM275.5 186.9l-5.3 0.8l-4 -1.3l5.3 -3.1zM270.2 187.7l-5.3 3.5l-4.1 -2l5.4 -2.8zM282.1 180.9l-5.3 1.1l-4 -0.4l5.3 -1.3zM276.8 182.0l-5.3 1.3l-4.1 0l5.4 -1.7zM271.5 183.3l-5.3 3.1l-4.1 -0.9l5.3 -2.2zM283.4 178.2l-5.3 2.1l-4 -4.5l5.3 -0.8zM278.1 180.3l-5.3 1.3l-4.1 -2.7l5.4 -3.1zM272.8 181.6l-5.4 1.7l-4 -3.8l5.3 -0.6zM267.4 183.3l-5.3 2.2l-4 -3.2l5.3 -2.8zM268.7 178.9l-5.3 0.6l-4 -0.3l5.3 -2.8zM263.4 179.5l-5.3 2.8l-4.1 1.1l5.4 -4.2zM264.7 176.4l-5.3 2.8l-4.1 -3.5l5.4 -0.3zM259.4 179.2l-5.4 4.2l-4 -3.6l5.3 -4.1zM260.7 175.4l-5.4 0.3l-4 -0.1l5.3 -1.8zM255.3 175.7l-5.3 4.1l-4 0.1l5.3 -4.3zM256.6 173.8l-5.3 1.8l-4 -2l5.3 -1.4zM251.3 175.6l-5.3 4.3l-4.1 -2.5l5.4 -3.8zM252.6 172.2l-5.3 1.4l-4.1 -1.9l5.4 -1.2zM247.3 173.6l-5.4 3.8l-4 -2.2l5.3 -3.5zM236.6 177.3l-5.3 3l-4.1 -1.7l5.4 -3.3zM248.6 170.5l-5.4 1.2l-4 -2.1l5.3 -0.4zM243.2 171.7l-5.3 3.5l-4 -2.6l5.3 -3zM237.9 175.2l-5.3 0.1l-4.1 0.8l5.4 -3.5zM232.6 175.3l-5.4 3.3l-4 -2.1l5.3 -0.4zM244.5 169.2l-5.3 0.4l-4 -0.7l5.3 -1.1zM239.2 169.6l-5.3 3l-4.1 -3.2l5.4 -0.5zM233.9 172.6l-5.4 3.5l-4 -3.3l5.3 -3.4zM240.5 167.8l-5.3 1.1l-4.1 -2.4l5.3 -0.6zM235.2 168.9l-5.4 0.5l-4 -0.3l5.3 -2.6zM229.8 169.4l-5.3 3.4l-4 -2l5.3 -1.7zM224.5 172.8l-5.3 2.4l-4.1 -4.2l5.4 -0.2zM219.2 175.2l-5.4 2.2l-4 -2.2l5.3 -4.2zM236.4 165.9l-5.3 0.6l-4 -0.5l5.3 -3.4zM231.1 166.5l-5.3 2.6l-4 -2.7l5.3 -0.4zM225.8 169.1l-5.3 1.7l-4.1 -2l5.4 -2.4zM220.5 170.8l-5.4 0.2l-4 1.1l5.3 -3.3zM215.1 171.0l-5.3 4.2l-4 -2.7l5.3 -0.4zM227.1 166.0l-5.3 0.4l-4.1 -2.5l5.3 0.9zM221.8 166.4l-5.4 2.4l-4 0.3l5.3 -5.2zM216.4 168.8l-5.3 3.3l-4 -3.5l5.3 0.5zM223.0 164.8l-5.3 -0.9l-4 0.7l5.3 -2.6zM217.7 163.9l-5.3 5.2l-4 -2.7l5.3 -1.8zM207.1 168.6l-5.4 3.5l-4 -2.6l5.3 -1zM219.0 162.0l-5.3 2.6l-4.1 -3.8l5.4 -1.4zM213.7 164.6l-5.3 1.8l-4.1 -1.2l5.3 -4.4zM208.4 166.4l-5.4 2.1l-4 -1.5l5.3 -1.8zM197.7 169.5l-5.3 2.9l-4.1 -1.5l5.4 -3.9zM209.6 160.8l-5.3 4.4l-4 -3.9l5.3 0.1zM204.3 165.2l-5.3 1.8l-4 -3.9l5.3 -1.8zM199.0 167.0l-5.3 0l-4.1 -2.6l5.4 -1.3zM193.7 167.0l-5.4 3.9l-4 -2.7l5.3 -3.8zM205.6 161.4l-5.3 -0.1l-4.1 -2.1l5.4 -1zM200.3 161.3l-5.3 1.8l-4.1 0l5.3 -3.9zM195.0 163.1l-5.4 1.3l-4 0l5.3 -1.3zM189.6 164.4l-5.3 3.8l-4 -1.7l5.3 -2.1zM201.6 158.2l-5.4 1l-4 -1.4l5.3 -2zM196.2 159.2l-5.3 3.9l-4 -3.8l5.3 -1.5zM190.9 163.1l-5.3 1.3l-4 -1l5.3 -4.1z"/>
<path fill="#cfff30" stroke="#cfff30" d="M600.8 214.8l-5.3 0.9l-4 -13.1l5.3 -0.7zM595.5 215.7l-5.3 2.2l-4.1 -14.2l5.4 -1.1zM590.2 217.9l-5.4 1.1l-4 -14.2l5.3 -1.1zM584.8 219.0l-5.3 1.1l-4 -14.2l5.3 -1.1zM579.5 220.1l-5.3 1.8l-4 -13.4l5.3 -2.6zM574.2 221.9l-5.3 -0.2l-4.1 -11.9l5.4 -1.3zM568.9 221.7l-5.4 2.4l-4 -12.4l5.3 -1.9zM563.5 224.1l-5.3 1.6l-4 -12.4l5.3 -1.6zM558.2 225.7l-5.3 2.2l-4.1 -12.3l5.4 -2.3zM552.9 227.9l-5.3 1.7l-4.1 -10.7l5.3 -3.3zM516.9 229.0l-5.3 1.9l-4.1 -6l5.4 -2.1zM511.6 230.9l-5.4 2.3l-4 -4.6l5.3 -3.7zM506.2 233.2l-5.3 2.4l-4 -4.6l5.3 -2.4zM496.9 231.0l-5.4 0.7l-4 -3.4l5.3 -2.5zM491.5 231.7l-5.3 4.1l-4 -3.4l5.3 -4.1zM482.2 232.4l-5.3 1.9l-4.1 -2l5.3 -4zM472.8 232.3l-5.3 2.1l-4 -2.3l5.3 -3.6zM468.8 228.5l-5.3 3.6l-4.1 -4l5.3 -2.3zM463.5 232.1l-5.4 1.5l-4 -1.9l5.3 -3.6zM459.4 228.1l-5.3 3.6l-4 -2.7l5.3 -1.4zM454.1 231.7l-5.3 2.7l-4.1 -2.9l5.4 -2.5zM455.4 227.6l-5.3 1.4l-4.1 -0.5l5.3 -3.1zM450.1 229.0l-5.4 2.5l-4 -1.3l5.3 -1.7zM451.3 225.4l-5.3 3.1l-4 -2l5.3 -4.3zM446.0 228.5l-5.3 1.7l-4 -0.3l5.3 -3.4zM442.0 226.5l-5.3 3.4l-4.1 -2.6l5.3 -4.8zM437.9 222.5l-5.3 4.8l-4 -1.7l5.3 -3.9zM433.9 221.7l-5.3 3.9l-4.1 -2.1l5.4 -2.6zM429.9 220.9l-5.4 2.6l-4 -1.4l5.3 -4zM425.8 218.1l-5.3 4l-4 -2.7l5.3 -4.4zM421.8 215.0l-5.3 4.4l-4.1 -2.2l5.4 -1.5zM416.5 219.4l-5.4 2.7l-4 -2.1l5.3 -2.8zM417.8 215.7l-5.4 1.5l-4 0.8l5.3 -5.9zM412.4 217.2l-5.3 2.8l-4 -0.2l5.3 -1.8zM409.7 211.5l-5.3 3.7l-4.1 -1.3l5.4 -4.2zM399.0 216.7l-5.3 3.2l-4 -3.5l5.3 -2.8zM405.7 209.7l-5.4 4.2l-4 -4.2l5.3 -2zM400.3 213.9l-5.3 -0.3l-4 -1l5.3 -2.9zM395.0 213.6l-5.3 2.8l-4.1 -2l5.4 -1.8zM401.6 207.7l-5.3 2l-4 -2.1l5.3 -1.3zM396.3 209.7l-5.3 2.9l-4.1 -1.2l5.4 -3.8zM391.0 212.6l-5.4 1.8l-4 0.4l5.3 -3.4zM392.3 207.6l-5.4 3.8l-4 -1.7l5.3 -1.5zM386.9 211.4l-5.3 3.4l-4 -2.7l5.3 -2.4zM388.2 208.2l-5.3 1.5l-4 -2.2l5.3 -2.1zM382.9 209.7l-5.3 2.4l-4.1 -1.2l5.4 -3.4zM384.2 205.4l-5.3 2.1l-4.1 -0.7l5.3 -2.3zM378.9 207.5l-5.4 3.4l-4 -2.9l5.3 -1.2zM380.1 204.5l-5.3 2.3l-4 -3.1l5.3 -2zM374.8 206.8l-5.3 1.2l-4 -0.8l5.3 -3.5zM381.4 199.1l-5.3 2.6l-4 -2.5l5.3 -0.3zM376.1 201.7l-5.3 2l-4.1 -0.9l5.4 -3.6zM370.8 203.7l-5.3 3.5l-4.1 -0.4l5.3 -4zM377.4 198.9l-5.3 0.3l-4.1 -0.2l5.4 -2.4zM372.1 199.2l-5.4 3.6l-4 -1.2l5.3 -2.6zM366.7 202.8l-5.3 4l-4 -3.5l5.3 -1.7zM373.4 196.6l-5.4 2.4l-4 -1.9l5.3 -1.4zM368.0 199.0l-5.3 2.6l-4 -3.5l5.3 -1zM362.7 201.6l-5.3 1.7l-4.1 -1l5.4 -4.2zM369.3 195.7l-5.3 1.4l-4 -2.5l5.3 -1.7zM364.0 197.1l-5.3 1l-4.1 -1.6l5.4 -1.9zM358.7 198.1l-5.4 4.2l-4 -3.5l5.3 -2.3zM360.0 194.6l-5.4 1.9l-4 -0.9l5.3 -1.4zM354.6 196.5l-5.3 2.3l-4 -0.9l5.3 -2.3zM349.3 198.8l-5.3 4.3l-4.1 -3l5.4 -2.2zM355.9 194.2l-5.3 1.4l-4 -4.1l5.3 0.4zM350.6 195.6l-5.3 2.3l-4.1 -1.5l5.4 -4.9zM345.3 197.9l-5.4 2.2l-4 -1.1l5.3 -2.6zM351.9 191.9l-5.3 -0.4l-4.1 -0.7l5.3 -0.8zM341.2 196.4l-5.3 2.6l-4 -2.1l5.3 -2.3zM347.8 190.0l-5.3 0.8l-4 1l5.3 -3.6zM342.5 190.8l-5.3 3.8l-4 -2.3l5.3 -0.5zM337.2 194.6l-5.3 2.3l-4.1 -0.6l5.4 -4zM343.8 188.2l-5.3 3.6l-4.1 -2l5.4 -2.5zM338.5 191.8l-5.3 0.5l-4.1 -1.5l5.3 -1zM333.2 192.3l-5.4 4l-4 -2.2l5.3 -3.3zM339.8 187.3l-5.4 2.5l-4 -2.2l5.3 -2.8zM334.4 189.8l-5.3 1l-4 -0.3l5.3 -2.9zM329.1 190.8l-5.3 3.3l-4 -0.2l5.3 -3.4zM330.4 187.6l-5.3 2.9l-4.1 -2.9l5.4 -2.2zM325.1 190.5l-5.3 3.4l-4.1 -4.7l5.3 -1.6zM326.4 185.4l-5.4 2.2l-4 0.5l5.3 -3.9zM321.0 187.6l-5.3 1.6l-4 -0.6l5.3 -0.5zM315.7 189.2l-5.3 3.2l-4 -1.4l5.3 -2.4zM322.3 184.2l-5.3 3.9l-4 -3.5l5.3 -2.1zM318.3 182.5l-5.3 2.1l-4.1 -4.7l5.4 1.4zM313.0 184.6l-5.4 2.9l-4 -1.9l5.3 -5.7zM314.3 181.3l-5.4 -1.4l-4 0.6l5.3 -1.3zM308.9 179.9l-5.3 5.7l-4 -2l5.3 -3.1zM310.2 179.2l-5.3 1.3l-4 -0.8l5.3 -2.6zM304.9 180.5l-5.3 3.1l-4.1 -4l5.4 0.1zM299.6 183.6l-5.4 1.3l-4 -0.6l5.3 -4.7zM311.5 175.5l-5.3 1.6l-4 -2.3l5.3 -1.3zM306.2 177.1l-5.3 2.6l-4.1 -3l5.4 -1.9zM300.9 179.7l-5.4 -0.1l-4 0.4l5.3 -3.3zM295.5 179.6l-5.3 4.7l-4 -2.8l5.3 -1.5zM307.5 173.5l-5.3 1.3l-4.1 -2.2l5.3 1.5zM296.8 176.7l-5.3 3.3l-4 -2.7l5.3 -1.2zM291.5 180.0l-5.3 1.5l-4.1 -0.6l5.4 -3.6zM303.4 174.1l-5.3 -1.5l-4 -0.7l5.3 -2.9zM292.8 176.1l-5.3 1.2l-4.1 0.9l5.4 -2.7zM287.5 177.3l-5.4 3.6l-4 -0.6l5.3 -2.1zM294.1 171.9l-5.3 3.6l-4.1 -2.8l5.3 -3zM288.8 175.5l-5.4 2.7l-4 -3.2l5.3 -2.3zM284.7 172.7l-5.3 2.3l-4 -1.6l5.3 -3.6zM279.4 175.0l-5.3 0.8l-4.1 -1.4l5.4 -1zM274.1 175.8l-5.4 3.1l-4 -2.5l5.3 -2zM286.0 168.3l-5.3 1.5l-4.1 -0.5l5.4 -2.5zM280.7 169.8l-5.3 3.6l-4.1 -2.4l5.3 -1.7zM275.4 173.4l-5.4 1l-4 -3.3l5.3 -0.1zM270.0 174.4l-5.3 2l-4 -1l5.3 -4.3zM282.0 166.8l-5.4 2.5l-4 -2.4l5.3 -1.1zM276.6 169.3l-5.3 1.7l-4 -0.5l5.3 -3.6zM271.3 171.0l-5.3 0.1l-4 -0.2l5.3 -0.4zM266.0 171.1l-5.3 4.3l-4.1 -1.6l5.4 -2.9zM277.9 165.8l-5.3 1.1l-4 -1.2l5.3 -3.4zM272.6 166.9l-5.3 3.6l-4.1 -2.8l5.4 -2zM267.3 170.5l-5.3 0.4l-4.1 -1.7l5.3 -1.5zM262.0 170.9l-5.4 2.9l-4 -1.6l5.3 -3zM268.6 165.7l-5.4 2l-4 -3l5.3 -1.2zM263.2 167.7l-5.3 1.5l-4 -1.1l5.3 -3.4zM257.9 169.2l-5.3 3l-4 -1.7l5.3 -2.4zM264.5 163.5l-5.3 1.2l-4 -0.2l5.3 -2.7zM259.2 164.7l-5.3 3.4l-4.1 -1.5l5.4 -2.1zM253.9 168.1l-5.3 2.4l-4.1 -1.3l5.3 -2.6zM260.5 161.8l-5.3 2.7l-4.1 -1.7l5.4 -3.1zM255.2 164.5l-5.4 2.1l-4 -2.2l5.3 -1.6zM249.8 166.6l-5.3 2.6l-4 -1.4l5.3 -3.4zM256.5 159.7l-5.4 3.1l-4 -2.7l5.3 -1.6zM251.1 162.8l-5.3 1.6l-4 -2l5.3 -2.3zM245.8 164.4l-5.3 3.4l-4.1 -1.9l5.4 -3.5zM252.4 158.5l-5.3 1.6l-4 -0.6l5.3 -3.4zM247.1 160.1l-5.3 2.3l-4.1 -1.8l5.4 -1.1zM241.8 162.4l-5.4 3.5l-4 -3.3l5.3 -2zM243.1 159.5l-5.4 1.1l-4 -1.9l5.3 -1.3zM237.7 160.6l-5.3 2l-4 -1.2l5.3 -2.7zM232.4 162.6l-5.3 3.4l-4.1 -1.2l5.4 -3.4zM239.0 157.4l-5.3 1.3l-4 -0.6l5.3 -3.7zM233.7 158.7l-5.3 2.7l-4.1 -1.3l5.4 -2zM228.4 161.4l-5.4 3.4l-4 -2.8l5.3 -1.9zM229.7 158.1l-5.4 2l-4 -2.5l5.3 -1.1zM224.3 160.1l-5.3 1.9l-4 -2.6l5.3 -1.8zM230.9 152.9l-5.3 3.6l-4 -1l5.3 -4zM225.6 156.5l-5.3 1.1l-4 -2.1l5.3 0zM220.3 157.6l-5.3 1.8l-4.1 -1.5l5.4 -2.4zM215.0 159.4l-5.4 1.4l-4 0.6l5.3 -3.5zM226.9 151.5l-5.3 4l-4.1 -2.4l5.4 -2.3zM221.6 155.5l-5.3 0l-4.1 -0.9l5.3 -1.5zM216.3 155.5l-5.4 2.4l-4 -1.5l5.3 -1.8zM210.9 157.9l-5.3 3.5l-4 -3.2l5.3 -1.8zM222.9 150.8l-5.4 2.3l-4 -2.7l5.3 -1zM217.5 153.1l-5.3 1.5l-4 -2.2l5.3 -2zM212.2 154.6l-5.3 1.8l-4 -2.8l5.3 -1.2zM206.9 156.4l-5.3 1.8l-4.1 -2.4l5.4 -2.2z"/>
<path fill="#dfff20" stroke="#dfff20" d="M616.8 209.2l-5.3 1.6l-4.1 -12.5l5.4 -1.4zM611.5 210.8l-5.3 1.3l-4.1 -12.1l5.3 -1.7zM606.2 212.1l-5.4 2.7l-4 -12.9l5.3 -1.9zM527.5 224.9l-5.3 1.8l-4 -5.9l5.3 -3.3zM522.2 226.7l-5.3 2.3l-4 -6.2l5.3 -2zM502.2 228.6l-5.3 2.4l-4.1 -5.2l5.4 -3.2zM492.8 225.8l-5.3 2.5l-4 -3.8l5.3 -2zM487.5 228.3l-5.3 4.1l-4.1 -4.1l5.4 -3.8zM478.1 228.3l-5.3 4l-4 -3.8l5.3 -3zM474.1 225.5l-5.3 3l-4.1 -2.7l5.4 -2.4zM470.1 223.4l-5.4 2.4l-4 -3.5l5.3 -2.8zM464.7 225.8l-5.3 2.3l-4 -0.5l5.3 -5.3zM460.7 222.3l-5.3 5.3l-4.1 -2.2l5.4 -1.8zM456.7 223.6l-5.4 1.8l-4 -3.2l5.3 -2.9zM452.6 219.3l-5.3 2.9l-4 -2.8l5.3 -0.4zM447.3 222.2l-5.3 4.3l-4.1 -4l5.4 -3.1zM448.6 219.0l-5.3 0.4l-4.1 -0.1l5.4 -3.2zM443.3 219.4l-5.4 3.1l-4 -0.8l5.3 -2.4zM444.6 216.1l-5.4 3.2l-4 -1.6l5.3 -3zM439.2 219.3l-5.3 2.4l-4 -0.8l5.3 -3.2zM440.5 214.7l-5.3 3l-4 -1.9l5.3 -2.6zM435.2 217.7l-5.3 3.2l-4.1 -2.8l5.4 -2.3zM436.5 213.2l-5.3 2.6l-4.1 -1.1l5.4 -4.6zM431.2 215.8l-5.4 2.3l-4 -3.1l5.3 -0.3zM432.5 210.1l-5.4 4.6l-4 -3.8l5.3 -0.2zM427.1 214.7l-5.3 0.3l-4 0.7l5.3 -4.8zM428.4 210.7l-5.3 0.2l-4 -0.1l5.3 -2.4zM423.1 210.9l-5.3 4.8l-4.1 -3.6l5.4 -1.3zM424.4 208.4l-5.3 2.4l-4.1 -2l5.3 -2.6zM419.1 210.8l-5.4 1.3l-4 -0.6l5.3 -2.7zM413.7 212.1l-5.3 5.9l-4 -2.8l5.3 -3.7zM420.3 206.2l-5.3 2.6l-4 -2.6l5.3 -0.7zM415.0 208.8l-5.3 2.7l-4 -1.8l5.3 -3.5zM416.3 205.5l-5.3 0.7l-4.1 -0.8l5.4 -2.7zM411.0 206.2l-5.3 3.5l-4.1 -2l5.3 -2.3zM412.3 202.7l-5.4 2.7l-4 -1.7l5.3 -1.4zM406.9 205.4l-5.3 2.3l-4 -1.4l5.3 -2.6zM408.2 202.3l-5.3 1.4l-4 -1.1l5.3 -3.2zM402.9 203.7l-5.3 2.6l-4.1 -2.8l5.4 -0.9zM397.6 206.3l-5.3 1.3l-4.1 0.6l5.3 -4.7zM398.9 202.6l-5.4 0.9l-4 -0.7l5.3 -3zM393.5 203.5l-5.3 4.7l-4 -2.8l5.3 -2.6zM394.8 199.8l-5.3 3l-4 -2.5l5.3 -0.8zM389.5 202.8l-5.3 2.6l-4.1 -0.9l5.4 -4.2zM390.8 199.5l-5.3 0.8l-4.1 -1.2l5.4 -2.1zM385.5 200.3l-5.4 4.2l-4 -2.8l5.3 -2.6zM392.1 195.0l-5.3 2l-4.1 -2.1l5.3 -2.1zM386.8 197.0l-5.4 2.1l-4 -0.2l5.3 -4zM382.7 194.9l-5.3 4l-4 -2.3l5.3 -3.9zM378.7 192.7l-5.3 3.9l-4.1 -0.9l5.3 -3.8zM374.6 191.9l-5.3 3.8l-4 -2.8l5.3 -3.4zM370.6 189.5l-5.3 3.4l-4.1 -1.5l5.4 -3.1zM365.3 192.9l-5.3 1.7l-4.1 -0.4l5.3 -2.8zM366.6 188.3l-5.4 3.1l-4 -3.4l5.3 -1.4zM361.2 191.4l-5.3 2.8l-4 -2.3l5.3 -3.9zM362.5 186.6l-5.3 1.4l-4 -1.1l5.3 -1.8zM357.2 188.0l-5.3 3.9l-4.1 -1.9l5.4 -3.1zM346.6 191.5l-5.4 4.9l-4 -1.8l5.3 -3.8zM358.5 185.1l-5.3 1.8l-4.1 -0.2l5.4 -3.2zM353.2 186.9l-5.4 3.1l-4 -1.8l5.3 -1.5zM354.5 183.5l-5.4 3.2l-4 -2.9l5.3 -2.7zM349.1 186.7l-5.3 1.5l-4 -0.9l5.3 -3.5zM345.1 183.8l-5.3 3.5l-4.1 -2.5l5.4 -2.5zM341.1 182.3l-5.4 2.5l-4 -2.2l5.3 -2.2zM335.7 184.8l-5.3 2.8l-4 -2.2l5.3 -2.8zM337.0 180.4l-5.3 2.2l-4 -1l5.3 -3.1zM331.7 182.6l-5.3 2.8l-4.1 -1.2l5.4 -2.6zM333.0 178.5l-5.3 3.1l-4.1 -2.9l5.4 -0.1zM327.7 181.6l-5.4 2.6l-4 -1.7l5.3 -3.8zM329.0 178.6l-5.4 0.1l-4 -1.6l5.3 -1.6zM323.6 178.7l-5.3 3.8l-4 -1.2l5.3 -4.2zM324.9 175.5l-5.3 1.6l-4 -1l5.3 -2.1zM319.6 177.1l-5.3 4.2l-4.1 -2.1l5.4 -3.1zM320.9 174.0l-5.3 2.1l-4.1 -0.6l5.3 -2.6zM315.6 176.1l-5.4 3.1l-4 -2.1l5.3 -1.6zM316.8 172.9l-5.3 2.6l-4 -2l5.3 -3.2zM312.8 170.3l-5.3 3.2l-4.1 0.6l5.4 -4.7zM302.2 174.8l-5.4 1.9l-4 -0.6l5.3 -3.5zM308.8 169.4l-5.4 4.7l-4 -5.1l5.3 -1.8zM298.1 172.6l-5.3 3.5l-4 -0.6l5.3 -3.6zM304.7 167.2l-5.3 1.8l-4 -1.7l5.3 -1.4zM299.4 169.0l-5.3 2.9l-4.1 -2.2l5.4 -2.4zM300.7 165.9l-5.3 1.4l-4.1 -0.6l5.4 -3.8zM295.4 167.3l-5.4 2.4l-4 -1.4l5.3 -1.6zM290.0 169.7l-5.3 3l-4 -2.9l5.3 -1.5zM302.0 161.3l-5.3 1.6l-4.1 -0.7l5.3 -1.2zM296.7 162.9l-5.4 3.8l-4 -1.9l5.3 -2.6zM291.3 166.7l-5.3 1.6l-4 -1.5l5.3 -2zM297.9 161.0l-5.3 1.2l-4 -1.4l5.3 -3.6zM292.6 162.2l-5.3 2.6l-4 -3l5.3 -1zM287.3 164.8l-5.3 2l-4.1 -1l5.4 -4zM288.6 160.8l-5.3 1l-4.1 -2.2l5.3 -2.1zM283.3 161.8l-5.4 4l-4 -3.5l5.3 -2.7zM289.9 156.5l-5.4 1l-4 -0.8l5.3 -1.2zM279.2 159.6l-5.3 2.7l-4 -0.9l5.3 -1.1zM273.9 162.3l-5.3 3.4l-4.1 -2.2l5.4 -2.1zM285.8 155.5l-5.3 1.2l-4 -2.6l5.3 -1.2zM280.5 156.7l-5.3 3.6l-4.1 -3.7l5.4 -2.5zM275.2 160.3l-5.3 1.1l-4.1 -3.2l5.3 -1.6zM269.9 161.4l-5.4 2.1l-4 -1.7l5.3 -3.6zM271.1 156.6l-5.3 1.6l-4 -0.4l5.3 -3.9zM265.8 158.2l-5.3 3.6l-4 -2.1l5.3 -1.9zM267.1 153.9l-5.3 3.9l-4.1 -1.4l5.4 -2.9zM261.8 157.8l-5.3 1.9l-4.1 -1.2l5.3 -2.1zM268.4 151.8l-5.3 1.7l-4.1 -3.2l5.4 -0.7zM263.1 153.5l-5.4 2.9l-4 -1.4l5.3 -4.7zM257.7 156.4l-5.3 2.1l-4 -2.4l5.3 -1.1zM264.4 149.6l-5.4 0.7l-4 1.1l5.3 -2.6zM259.0 150.3l-5.3 4.7l-4 -2.5l5.3 -1.1zM253.7 155.0l-5.3 1.1l-4.1 -1.6l5.4 -2zM248.4 156.1l-5.3 3.4l-4.1 -2.1l5.3 -2.9zM255.0 151.4l-5.3 1.1l-4.1 -2.5l5.4 -1zM249.7 152.5l-5.4 2l-4 -2.2l5.3 -2.3zM244.3 154.5l-5.3 2.9l-4 -3l5.3 -2.1zM251.0 149.0l-5.4 1l-4 -0.9l5.3 -3.8zM245.6 150.0l-5.3 2.3l-4 -1.8l5.3 -1.4zM240.3 152.3l-5.3 2.1l-4.1 -1.5l5.4 -2.4zM235.0 154.4l-5.3 3.7l-4.1 -1.6l5.3 -3.6zM241.6 149.1l-5.3 1.4l-4.1 -1.3l5.4 -2.2zM236.3 150.5l-5.4 2.4l-4 -1.4l5.3 -2.3zM242.9 144.4l-5.3 2.6l-4.1 -1.8l5.4 -0.8zM237.6 147.0l-5.4 2.2l-4 -2.1l5.3 -1.9zM232.2 149.2l-5.3 2.3l-4 -0.7l5.3 -3.7zM238.9 144.4l-5.4 0.8l-4 -2.2l5.3 -0.7zM233.5 145.2l-5.3 1.9l-4 -0.9l5.3 -3.2zM228.2 147.1l-5.3 3.7l-4.1 -1.4l5.4 -3.2z"/>
<path fill="#efff10" stroke="#efff10" d="M543.5 218.9l-5.3 2.5l-4 -9.6l5.3 -2.4zM538.2 221.4l-5.3 0.9l-4.1 -7.5l5.4 -3zM532.9 222.3l-5.4 2.6l-4 -7.4l5.3 -2.7zM518.2 220.8l-5.3 2l-4.1 -4.2l5.3 -3.8zM512.9 222.8l-5.4 2.1l-4 -5.3l5.3 -1zM507.5 224.9l-5.3 3.7l-4 -6l5.3 -3zM503.5 219.6l-5.3 3l-4.1 -2.8l5.4 -2.1zM498.2 222.6l-5.4 3.2l-4 -3.3l5.3 -2.7zM494.1 219.8l-5.3 2.7l-4 -2.8l5.3 -3.5zM488.8 222.5l-5.3 2l-4.1 -2.9l5.4 -1.9zM483.5 224.5l-5.4 3.8l-4 -2.8l5.3 -3.9zM484.8 219.7l-5.4 1.9l-4 -1.4l5.3 -2.7zM479.4 221.6l-5.3 3.9l-4 -2.1l5.3 -3.2zM480.7 217.5l-5.3 2.7l-4 -2.1l5.3 -0.6zM475.4 220.2l-5.3 3.2l-4.1 -3.9l5.4 -1.4zM476.7 217.5l-5.3 0.6l-4.1 -1.6l5.4 -3.8zM471.4 218.1l-5.4 1.4l-4 -1.7l5.3 -1.3zM466.0 219.5l-5.3 2.8l-4 1.3l5.3 -5.8zM467.3 216.5l-5.3 1.3l-4 -1.5l5.3 -1.1zM462.0 217.8l-5.3 5.8l-4.1 -4.3l5.4 -3zM463.3 215.2l-5.3 1.1l-4.1 -1.5l5.4 -3.1zM458.0 216.3l-5.4 3l-4 -0.3l5.3 -4.2zM459.3 211.7l-5.4 3.1l-4 -2.9l5.3 -1.1zM453.9 214.8l-5.3 4.2l-4 -2.9l5.3 -4.2zM455.2 210.8l-5.3 1.1l-4 -1.4l5.3 -1.7zM449.9 211.9l-5.3 4.2l-4.1 -1.4l5.4 -4.2zM456.5 206.6l-5.3 2.2l-4.1 -1.1l5.4 -1.9zM451.2 208.8l-5.3 1.7l-4.1 -1.5l5.3 -1.3zM445.9 210.5l-5.4 4.2l-4 -1.5l5.3 -4.2zM447.1 207.7l-5.3 1.3l-4 -1.2l5.3 -1zM441.8 209.0l-5.3 4.2l-4 -3.1l5.3 -2.3zM443.1 206.8l-5.3 1l-4.1 -2.3l5.4 -0.3zM437.8 207.8l-5.3 2.3l-4.1 0.6l5.3 -5.2zM439.1 205.2l-5.4 0.3l-4 -2.1l5.3 0.1zM433.7 205.5l-5.3 5.2l-4 -2.3l5.3 -5zM435.0 203.5l-5.3 -0.1l-4 0.8l5.3 -2.7zM429.7 203.4l-5.3 5l-4.1 -2.2l5.4 -2zM431.0 201.5l-5.3 2.7l-4.1 -1.7l5.4 -3.1zM425.7 204.2l-5.4 2l-4 -0.7l5.3 -3zM427.0 199.4l-5.4 3.1l-4 -2.5l5.3 -2.9zM421.6 202.5l-5.3 3l-4 -2.8l5.3 -2.7zM422.9 197.1l-5.3 2.9l-4 -2.7l5.3 -2.1zM417.6 200.0l-5.3 2.7l-4.1 -0.4l5.4 -5zM418.9 195.2l-5.3 2.1l-4.1 0.3l5.3 -3.4zM413.6 197.3l-5.4 5l-4 -2.9l5.3 -1.8zM414.8 194.2l-5.3 3.4l-4 -2.5l5.3 -2.9zM409.5 197.6l-5.3 1.8l-4 -3.7l5.3 -0.6zM404.2 199.4l-5.3 3.2l-4.1 -2.8l5.4 -4.1zM410.8 192.2l-5.3 2.9l-4.1 -2.1l5.4 -2.7zM405.5 195.1l-5.3 0.6l-4.1 -1.6l5.3 -1.1zM400.2 195.7l-5.4 4.1l-4 -0.3l5.3 -5.4zM401.4 193.0l-5.3 1.1l-4 0.9l5.3 -2.3zM396.1 194.1l-5.3 5.4l-4 -2.5l5.3 -2zM397.4 192.7l-5.3 2.3l-4.1 -2.2l5.4 -2.6zM393.4 190.2l-5.4 2.6l-4 -2.7l5.3 -1.1zM388.0 192.8l-5.3 2.1l-4 -2.2l5.3 -2.6zM394.7 186.1l-5.4 2.9l-4 -3.5l5.3 -1.5zM389.3 189.0l-5.3 1.1l-4 -1.4l5.3 -3.2zM384.0 190.1l-5.3 2.6l-4.1 -0.8l5.4 -3.2zM385.3 185.5l-5.3 3.2l-4.1 -1.2l5.4 -1.1zM380.0 188.7l-5.4 3.2l-4 -2.4l5.3 -2zM381.3 186.4l-5.4 1.1l-4 -2.4l5.3 -2.1zM375.9 187.5l-5.3 2l-4 -1.2l5.3 -3.2zM377.2 183.0l-5.3 2.1l-4 -1.7l5.3 -2.6zM371.9 185.1l-5.3 3.2l-4.1 -1.7l5.4 -3.2zM373.2 180.8l-5.3 2.6l-4.1 -2.4l5.4 -2.9zM367.9 183.4l-5.4 3.2l-4 -1.5l5.3 -4.1zM363.8 181.0l-5.3 4.1l-4 -1.6l5.3 -3zM365.1 176.7l-5.3 3.8l-4 -2.5l5.3 -1.8zM359.8 180.5l-5.3 3l-4.1 -2.4l5.4 -3.1zM366.4 174.1l-5.3 2.1l-4.1 -1.1l5.4 -2zM361.1 176.2l-5.3 1.8l-4.1 0.7l5.3 -3.6zM355.8 178.0l-5.4 3.1l-4 -2.2l5.3 -0.2zM350.4 181.1l-5.3 2.7l-4 -1.5l5.3 -3.4zM357.0 175.1l-5.3 3.6l-4 -4.1l5.3 -2.1zM351.7 178.7l-5.3 0.2l-4 -2.7l5.3 -1.6zM346.4 178.9l-5.3 3.4l-4.1 -1.9l5.4 -4.2zM353.0 172.5l-5.3 2.1l-4.1 -1.2l5.4 -3.2zM347.7 174.6l-5.3 1.6l-4.1 -0.4l5.3 -2.4zM342.4 176.2l-5.4 4.2l-4 -1.9l5.3 -2.7zM343.6 173.4l-5.3 2.4l-4 -1.8l5.3 -1.9zM338.3 175.8l-5.3 2.7l-4 0.1l5.3 -4.6zM344.9 169.3l-5.3 2.8l-4 -1.6l5.3 -1.9zM339.6 172.1l-5.3 1.9l-4.1 -3.1l5.4 -0.4zM334.3 174.0l-5.3 4.6l-4.1 -3.1l5.3 -4.6zM340.9 168.6l-5.3 1.9l-4.1 -2.1l5.4 -0.9zM335.6 170.5l-5.4 0.4l-4 0l5.3 -2.5zM330.2 170.9l-5.3 4.6l-4 -1.5l5.3 -3.1zM336.9 167.5l-5.4 0.9l-4 -0.8l5.3 -2.7zM331.5 168.4l-5.3 2.5l-4 -2.8l5.3 -0.5zM326.2 170.9l-5.3 3.1l-4.1 -1.1l5.4 -4.8zM332.8 164.9l-5.3 2.7l-4 -2.7l5.3 -1.1zM327.5 167.6l-5.3 0.5l-4.1 -0.2l5.4 -3zM322.2 168.1l-5.4 4.8l-4 -2.6l5.3 -2.4zM328.8 163.8l-5.3 1.1l-4.1 -0.5l5.3 -5.3zM323.5 164.9l-5.4 3l-4 -1.9l5.3 -1.6zM318.1 167.9l-5.3 2.4l-4 -0.9l5.3 -3.4zM319.4 164.4l-5.3 1.6l-4 -1.2l5.3 -2.9zM314.1 166.0l-5.3 3.4l-4.1 -2.2l5.4 -2.4zM320.7 161.2l-5.3 0.7l-4.1 -2.8l5.4 -3.6zM315.4 161.9l-5.3 2.9l-4.1 -2.7l5.3 -3zM310.1 164.8l-5.4 2.4l-4 -1.3l5.3 -3.8zM311.3 159.1l-5.3 3l-4 -0.8l5.3 -3zM306.0 162.1l-5.3 3.8l-4 -3l5.3 -1.6zM307.3 158.3l-5.3 3l-4.1 -0.3l5.4 -3.3zM303.3 157.7l-5.4 3.3l-4 -3.8l5.3 -2.9zM304.6 153.9l-5.4 0.4l-4 0.2l5.3 -2.9zM299.2 154.3l-5.3 2.9l-4 -0.7l5.3 -2zM293.9 157.2l-5.3 3.6l-4.1 -3.3l5.4 -1zM300.5 151.6l-5.3 2.9l-4 -2.7l5.3 -1.6zM295.2 154.5l-5.3 2l-4.1 -1l5.4 -3.7zM284.5 157.5l-5.3 2.1l-4 0.7l5.3 -3.6zM296.5 150.2l-5.3 1.6l-4.1 -2.5l5.4 -1zM291.2 151.8l-5.4 3.7l-4 -2.6l5.3 -3.6zM287.1 149.3l-5.3 3.6l-4 -2.4l5.3 -2.1zM281.8 152.9l-5.3 1.2l-4.1 -1.7l5.4 -1.9zM276.5 154.1l-5.4 2.5l-4 -2.7l5.3 -1.5zM283.1 148.4l-5.3 2.1l-4.1 -2.5l5.4 -1.3zM277.8 150.5l-5.4 1.9l-4 -0.6l5.3 -3.8zM272.4 152.4l-5.3 1.5l-4 -0.4l5.3 -1.7zM284.4 144.7l-5.3 2l-4.1 1.3l5.3 -4.9zM279.1 146.7l-5.4 1.3l-4 -0.5l5.3 0.5zM273.7 148.0l-5.3 3.8l-4 -2.2l5.3 -2.1zM275.0 148.0l-5.3 -0.5l-4 -2.3l5.3 -2.9zM269.7 147.5l-5.3 2.1l-4.1 -0.8l5.4 -3.6zM265.7 145.2l-5.4 3.6l-4 -3.6l5.3 -1.5zM260.3 148.8l-5.3 2.6l-4 -2.4l5.3 -3.8zM266.9 141.8l-5.3 1.9l-4 -1.4l5.3 -2.4zM261.6 143.7l-5.3 1.5l-4 -0.1l5.3 -2.8zM256.3 145.2l-5.3 3.8l-4.1 -3.7l5.4 -0.2zM257.6 142.3l-5.3 2.8l-4.1 -2.1l5.3 -1.9zM252.3 145.1l-5.4 0.2l-4 -0.9l5.3 -1.4zM246.9 145.3l-5.3 3.8l-4 -2.1l5.3 -2.6zM253.5 141.1l-5.3 1.9l-4 -1.7l5.3 -2zM248.2 143.0l-5.3 1.4l-4 0l5.3 -3.1zM249.5 139.3l-5.3 2l-4.1 -1.5l5.4 -3.7zM244.2 141.3l-5.3 3.1l-4.1 -2.1l5.3 -2.5z"/>
<path fill="#ffff00" stroke="#ffff00" d="M559.5 211.7l-5.3 1.6l-4.1 -9l5.4 -2.3zM554.2 213.3l-5.4 2.3l-4 -8.7l5.3 -2.6zM548.9 215.6l-5.3 3.3l-4 -9.5l5.3 -2.5zM528.8 214.8l-5.3 2.7l-4 -5.4l5.3 -2.5zM523.5 217.5l-5.3 3.3l-4.1 -6l5.4 -2.7zM514.1 214.8l-5.3 3.8l-4 -4.2l5.3 -2.4zM508.8 218.6l-5.3 1l-4 -1.9l5.3 -3.3zM504.8 214.4l-5.3 3.3l-4.1 -2.9l5.3 -2.6zM499.5 217.7l-5.4 2.1l-4 -3.6l5.3 -1.4zM495.4 214.8l-5.3 1.4l-4 -2l5.3 -2.6zM490.1 216.2l-5.3 3.5l-4.1 -2.2l5.4 -3.3zM491.4 211.6l-5.3 2.6l-4.1 -0.6l5.3 -2.6zM486.1 214.2l-5.4 3.3l-4 0l5.3 -3.9zM487.3 211.0l-5.3 2.6l-4 -3.4l5.3 -2.8zM482.0 213.6l-5.3 3.9l-4 -4.8l5.3 -2.5zM478.0 210.2l-5.3 2.5l-4.1 -1.3l5.3 -2.2zM472.7 212.7l-5.4 3.8l-4 -1.3l5.3 -3.8zM473.9 209.2l-5.3 2.2l-4 -1.9l5.3 -3.6zM468.6 211.4l-5.3 3.8l-4 -3.5l5.3 -2.2zM469.9 205.9l-5.3 3.6l-4.1 -2.2l5.4 -2.1zM464.6 209.5l-5.3 2.2l-4.1 -0.9l5.3 -3.5zM465.9 205.2l-5.4 2.1l-4 -0.7l5.3 -3.5zM460.5 207.3l-5.3 3.5l-4 -2l5.3 -2.2zM461.8 203.1l-5.3 3.5l-4 -0.8l5.3 -3.3zM457.8 202.5l-5.3 3.3l-4.1 -3.3l5.4 -4zM452.5 205.8l-5.4 1.9l-4 -0.9l5.3 -4.3zM448.4 202.5l-5.3 4.3l-4 -1.6l5.3 -3.5zM444.4 201.7l-5.3 3.5l-4.1 -1.7l5.4 -5.2zM440.4 198.3l-5.4 5.2l-4 -2l5.3 -3zM436.3 198.5l-5.3 3l-4 -2.1l5.3 -3.1zM432.3 196.3l-5.3 3.1l-4.1 -2.3l5.3 -3.7zM428.2 193.4l-5.3 3.7l-4 -1.9l5.3 -2zM429.5 189.9l-5.3 3.3l-4 -2.5l5.3 -0.3zM424.2 193.2l-5.3 2l-4.1 -1l5.4 -3.5zM425.5 190.4l-5.3 0.3l-4.1 -3.8l5.4 0.2zM420.2 190.7l-5.4 3.5l-4 -2l5.3 -5.3zM421.5 187.1l-5.4 -0.2l-4 0.3l5.3 -2.3zM417.4 184.9l-5.3 2.3l-4 -1.3l5.3 -1.4zM412.1 187.2l-5.3 3.1l-4.1 -2.1l5.4 -2.3zM406.8 190.3l-5.4 2.7l-4 -0.3l5.3 -4.5zM413.4 184.5l-5.3 1.4l-4.1 -3l5.4 -1.2zM408.1 185.9l-5.4 2.3l-4 -1.6l5.3 -3.7zM402.7 188.2l-5.3 4.5l-4 -2.5l5.3 -3.6zM398.7 186.6l-5.3 3.6l-4.1 -1.2l5.4 -2.9zM400.0 181.1l-5.3 5l-4.1 -2.1l5.4 -2.5zM396.0 181.5l-5.4 2.5l-4 -2.2l5.3 -2.1zM390.6 184.0l-5.3 1.5l-4 0.9l5.3 -4.6zM391.9 179.7l-5.3 2.1l-4 -2.1l5.3 -2.6zM386.6 181.8l-5.3 4.6l-4.1 -3.4l5.4 -3.3zM393.2 175.2l-5.3 1.9l-4.1 -1.6l5.4 -1.5zM387.9 177.1l-5.3 2.6l-4.1 -3l5.3 -1.2zM382.6 179.7l-5.4 3.3l-4 -2.2l5.3 -4.1zM389.2 174.0l-5.4 1.5l-4 -0.2l5.3 -2.8zM383.8 175.5l-5.3 1.2l-4 -0.5l5.3 -0.9zM378.5 176.7l-5.3 4.1l-4 -2.7l5.3 -1.9zM385.1 172.5l-5.3 2.8l-4 -2.3l5.3 -3.1zM379.8 175.3l-5.3 0.9l-4.1 -0.7l5.4 -2.5zM374.5 176.2l-5.3 1.9l-4.1 -1.4l5.3 -1.2zM369.2 178.1l-5.4 2.9l-4 -0.5l5.3 -3.8zM375.8 173.0l-5.4 2.5l-4 -1.4l5.3 -4.3zM370.4 175.5l-5.3 1.2l-4 -0.5l5.3 -2.1zM371.7 169.8l-5.3 4.3l-4 -1l5.3 -3.7zM367.7 169.4l-5.3 3.7l-4.1 -3.3l5.4 -2.5zM362.4 173.1l-5.4 2l-4 -2.6l5.3 -2.7zM363.7 167.3l-5.4 2.5l-4 -1.8l5.3 -1.7zM358.3 169.8l-5.3 2.7l-4 -2.3l5.3 -2.2zM359.6 166.3l-5.3 1.7l-4 -1.2l5.3 -3.2zM354.3 168.0l-5.3 2.2l-4.1 -0.9l5.4 -2.5zM349.0 170.2l-5.4 3.2l-4 -1.3l5.3 -2.8zM350.3 166.8l-5.4 2.5l-4 -0.7l5.3 -4.3zM351.5 161.6l-5.3 2.7l-4 -2.2l5.3 -1zM346.2 164.3l-5.3 4.3l-4 -1.1l5.3 -5.4zM347.5 161.1l-5.3 1l-4.1 0.5l5.4 -3.7zM342.2 162.1l-5.3 5.4l-4.1 -2.6l5.3 -2.3zM343.5 158.9l-5.4 3.7l-4 -2.2l5.3 -3.3zM338.1 162.6l-5.3 2.3l-4 -1.1l5.3 -3.4zM339.4 157.1l-5.3 3.3l-4 -0.5l5.3 -4.2zM334.1 160.4l-5.3 3.4l-4.1 -4.7l5.4 0.8zM335.4 155.7l-5.3 4.2l-4.1 -3.8l5.4 -1zM330.1 159.9l-5.4 -0.8l-4 2.1l5.3 -5.1zM324.7 159.1l-5.3 5.3l-4 -2.5l5.3 -0.7zM331.4 155.1l-5.4 1l-4 0.3l5.3 -4.6zM326.0 156.1l-5.3 5.1l-4 -5.7l5.3 0.9zM327.3 151.8l-5.3 4.6l-4 -3.2l5.3 -1.8zM322.0 156.4l-5.3 -0.9l-4.1 1l5.4 -3.3zM316.7 155.5l-5.4 3.6l-4 -0.8l5.3 -1.8zM323.3 151.4l-5.3 1.8l-4.1 -1.5l5.4 -2zM318.0 153.2l-5.4 3.3l-4 -3.7l5.3 -1.1zM312.6 156.5l-5.3 1.8l-4 -0.6l5.3 -4.9zM319.3 149.7l-5.4 2l-4 -0.4l5.3 -4.6zM313.9 151.7l-5.3 1.1l-4 1.1l5.3 -2.6zM308.6 152.8l-5.3 4.9l-4.1 -3.4l5.4 -0.4zM315.2 146.7l-5.3 4.6l-4 -4.5l5.3 0zM309.9 151.3l-5.3 2.6l-4.1 -2.3l5.4 -4.8zM311.2 146.8l-5.3 0l-4.1 0.7l5.3 -2.6zM305.9 146.8l-5.4 4.8l-4 -1.4l5.3 -2.7zM307.1 144.9l-5.3 2.6l-4 -4.5l5.3 -0.5zM301.8 147.5l-5.3 2.7l-4 -1.9l5.3 -5.3zM303.1 142.5l-5.3 0.5l-4.1 -0.5l5.4 -1.2zM292.5 148.3l-5.4 1l-4 -0.9l5.3 -2.7zM299.1 141.3l-5.4 1.2l-4 -0.6l5.3 -2.7zM293.7 142.5l-5.3 3.2l-4 -1l5.3 -2.8zM288.4 145.7l-5.3 2.7l-4 -1.7l5.3 -2zM289.7 141.9l-5.3 2.8l-4.1 -1.6l5.4 -4.9zM285.7 138.2l-5.4 4.9l-4 -5.3l5.3 1.2zM280.3 143.1l-5.3 4.9l-4 -5.7l5.3 -4.5zM281.6 139.0l-5.3 -1.2l-4 1.3l5.3 -1.2zM276.3 137.8l-5.3 4.5l-4.1 -0.5l5.4 -2.7zM271.0 142.3l-5.3 2.9l-4.1 -1.5l5.3 -1.9zM277.6 137.9l-5.3 1.2l-4.1 -1.8l5.4 -1.8zM272.3 139.1l-5.4 2.7l-4 -1.9l5.3 -2.6zM278.9 132.8l-5.3 2.7l-4.1 -3.6l5.4 -0.8zM273.6 135.5l-5.4 1.8l-4 -1.5l5.3 -3.9zM268.2 137.3l-5.3 2.6l-4 -2.7l5.3 -1.4zM262.9 139.9l-5.3 2.4l-4.1 -1.2l5.4 -3.9zM264.2 135.8l-5.3 1.4l-4.1 -1.3l5.4 -2.7zM258.9 137.2l-5.4 3.9l-4 -1.8l5.3 -3.4zM265.5 131.0l-5.3 2.2l-4.1 -0.8l5.4 -1.7zM260.2 133.2l-5.4 2.7l-4 -1.1l5.3 -2.4zM254.8 135.9l-5.3 3.4l-4 -3.2l5.3 -1.3z"/>
<path fill="#ffef00" stroke="#ffef00" d="M612.8 196.9l-5.4 1.4l-4 -11.1l5.3 -1.1zM607.4 198.3l-5.3 1.7l-4 -10.7l5.3 -2.1zM602.1 200.0l-5.3 1.9l-4 -12.1l5.3 -0.5zM596.8 201.9l-5.3 0.7l-4.1 -10.9l5.4 -1.9zM591.5 202.6l-5.4 1.1l-4 -10.5l5.3 -1.5zM586.1 203.7l-5.3 1.1l-4 -10.5l5.3 -1.1zM580.8 204.8l-5.3 1.1l-4.1 -10.9l5.4 -0.7zM575.5 205.9l-5.3 2.6l-4.1 -10.9l5.3 -2.6zM570.2 208.5l-5.4 1.3l-4 -9.6l5.3 -2.6zM564.8 209.8l-5.3 1.9l-4 -9.7l5.3 -1.8zM539.5 209.4l-5.3 2.4l-4.1 -4.7l5.3 -3.4zM534.2 211.8l-5.4 3l-4 -5.2l5.3 -2.5zM524.8 209.6l-5.3 2.5l-4.1 -4.3l5.4 -2.4zM519.5 212.1l-5.4 2.7l-4 -2.8l5.3 -4.2zM515.4 207.8l-5.3 4.2l-4 -3.3l5.3 -2.6zM510.1 212.0l-5.3 2.4l-4.1 -2.2l5.4 -3.5zM506.1 208.7l-5.4 3.5l-4 -4.2l5.3 -2.5zM500.7 212.2l-5.3 2.6l-4 -3.2l5.3 -3.6zM496.7 208.0l-5.3 3.6l-4.1 -0.6l5.4 -4.5zM492.7 206.5l-5.4 4.5l-4 -3.6l5.3 -2.3zM488.6 205.1l-5.3 2.3l-4 -1.9l5.3 -1.7zM483.3 207.4l-5.3 2.8l-4.1 -1l5.4 -3.7zM484.6 203.8l-5.3 1.7l-4.1 -0.6l5.4 -4.8zM479.3 205.5l-5.4 3.7l-4 -3.3l5.3 -1zM480.6 200.1l-5.4 4.8l-4 -3.9l5.3 0zM475.2 204.9l-5.3 1l-4 -0.7l5.3 -4.2zM476.5 201.0l-5.3 0l-4 -0.1l5.3 -3zM471.2 201.0l-5.3 4.2l-4.1 -2.1l5.4 -2.2zM472.5 197.9l-5.3 3l-4.1 -0.5l5.3 -4.7zM467.2 200.9l-5.4 2.2l-4 -0.6l5.3 -2.1zM468.4 195.7l-5.3 4.7l-4 -4.2l5.3 -1.3zM463.1 200.4l-5.3 2.1l-4 -4l5.3 -2.3zM464.4 194.9l-5.3 1.3l-4.1 0.3l5.4 -3.6zM459.1 196.2l-5.3 2.3l-4.1 -1.2l5.3 -0.8zM453.8 198.5l-5.4 4l-4 -0.8l5.3 -4.4zM460.4 192.9l-5.4 3.6l-4 -2.3l5.3 -3zM455.0 196.5l-5.3 0.8l-4 -1.1l5.3 -2zM449.7 197.3l-5.3 4.4l-4 -3.4l5.3 -2.1zM456.3 191.2l-5.3 3l-4 -1.8l5.3 -2.1zM451.0 194.2l-5.3 2l-4.1 -1.7l5.4 -2.1zM445.7 196.2l-5.3 2.1l-4.1 0.2l5.3 -4zM452.3 190.3l-5.3 2.1l-4.1 -2l5.4 -2.4zM447.0 192.4l-5.4 2.1l-4 -2.5l5.3 -1.6zM441.6 194.5l-5.3 4l-4 -2.2l5.3 -4.3zM448.3 188.0l-5.4 2.4l-4 -0.2l5.3 -5zM442.9 190.4l-5.3 1.6l-4 -0.8l5.3 -1zM437.6 192.0l-5.3 4.3l-4.1 -2.9l5.4 -2.2zM438.9 190.2l-5.3 1l-4.1 -1.3l5.4 -1.7zM433.6 191.2l-5.4 2.2l-4 -0.2l5.3 -3.3zM434.9 188.2l-5.4 1.7l-4 0.5l5.3 -4.9zM436.2 182.9l-5.4 2.6l-4 -2.1l5.3 -2zM430.8 185.5l-5.3 4.9l-4 -3.3l5.3 -3.7zM426.8 183.4l-5.3 3.7l-4.1 -2.2l5.4 -3.9zM416.1 186.9l-5.3 5.3l-4 -1.9l5.3 -3.1zM422.8 181.0l-5.4 3.9l-4 -0.4l5.3 -3.2zM418.7 181.3l-5.3 3.2l-4 -2.8l5.3 -3.3zM414.7 178.4l-5.3 3.3l-4.1 -2.1l5.3 -2zM409.4 181.7l-5.4 1.2l-4 -1.8l5.3 -1.5zM404.0 182.9l-5.3 3.7l-4 -0.5l5.3 -5zM416.0 174.8l-5.4 2.8l-4 -2.7l5.3 -2.1zM410.6 177.6l-5.3 2l-4 -2.2l5.3 -2.5zM405.3 179.6l-5.3 1.5l-4 0.4l5.3 -4.1zM406.6 174.9l-5.3 2.5l-4.1 -1.9l5.4 -0.7zM401.3 177.4l-5.3 4.1l-4.1 -1.8l5.3 -4.2zM402.6 174.8l-5.4 0.7l-4 -0.3l5.3 -4.4zM397.2 175.5l-5.3 4.2l-4 -2.6l5.3 -1.9zM398.5 170.8l-5.3 4.4l-4 -1.2l5.3 -3.6zM394.5 170.4l-5.3 3.6l-4.1 -1.5l5.4 -3.8zM390.5 168.7l-5.4 3.8l-4 -2.6l5.3 -4.1zM386.4 165.8l-5.3 4.1l-4 -1.8l5.3 -2.2zM381.1 169.9l-5.3 3.1l-4.1 -3.2l5.4 -1.7zM382.4 165.9l-5.3 2.2l-4.1 -1.5l5.4 -3.3zM377.1 168.1l-5.4 1.7l-4 -0.4l5.3 -2.8zM378.4 163.3l-5.4 3.3l-4 -1.2l5.3 -2.2zM373.0 166.6l-5.3 2.8l-4 -2.1l5.3 -1.9zM374.3 163.2l-5.3 2.2l-4.1 -2.1l5.4 -5.1zM369.0 165.4l-5.3 1.9l-4.1 -1l5.3 -3zM364.9 163.3l-5.3 3l-4 -2.7l5.3 -1.1zM360.9 162.5l-5.3 1.1l-4.1 -2l5.4 -2.1zM355.6 163.6l-5.3 3.2l-4.1 -2.5l5.3 -2.7zM356.9 159.5l-5.4 2.1l-4 -0.5l5.3 -3.8zM358.2 155.0l-5.4 2.3l-4 -1.9l5.3 -1.4zM352.8 157.3l-5.3 3.8l-4 -2.2l5.3 -3.5zM354.1 154.0l-5.3 1.4l-4 -1.5l5.3 -2.3zM348.8 155.4l-5.3 3.5l-4.1 -1.8l5.4 -3.2zM350.1 151.6l-5.3 2.3l-4.1 -2.4l5.4 -1.5zM344.8 153.9l-5.4 3.2l-4 -1.4l5.3 -4.2zM346.1 150.0l-5.4 1.5l-4 0.1l5.3 -2.8zM340.7 151.5l-5.3 4.2l-4 -0.6l5.3 -3.5zM342.0 148.8l-5.3 2.8l-4 -0.3l5.3 -4.9zM336.7 151.6l-5.3 3.5l-4.1 -3.3l5.4 -0.5zM338.0 146.4l-5.3 4.9l-4.1 -4.3l5.3 -1.4zM332.7 151.3l-5.4 0.5l-4 -0.4l5.3 -4.4zM333.9 145.6l-5.3 1.4l-4 -1l5.3 -2.4zM328.6 147.0l-5.3 4.4l-4 -1.7l5.3 -3.7zM329.9 143.6l-5.3 2.4l-4.1 -0.7l5.4 -3.4zM324.6 146.0l-5.3 3.7l-4.1 -3l5.3 -1.4zM320.5 145.3l-5.3 1.4l-4 0.1l5.3 -2zM316.5 144.8l-5.3 2l-4.1 -1.9l5.4 -5zM312.5 139.9l-5.4 5l-4 -2.4l5.3 -2.9zM313.8 136.9l-5.4 2.7l-4 -2l5.3 -1.4zM308.4 139.6l-5.3 2.9l-4 -1.2l5.3 -3.7zM297.8 143.0l-5.3 5.3l-4.1 -2.6l5.3 -3.2zM309.7 136.2l-5.3 1.4l-4 -1.8l5.3 -2.2zM304.4 137.6l-5.3 3.7l-4.1 -2.1l5.4 -3.4zM300.4 135.8l-5.4 3.4l-4 -1.5l5.3 -5zM295.0 139.2l-5.3 2.7l-4 -3.7l5.3 -0.5zM291.0 137.7l-5.3 0.5l-4.1 0.8l5.4 -3.7zM287.0 135.3l-5.4 3.7l-4 -1.1l5.3 -4.4zM288.3 130.7l-5.4 2.8l-4 -0.7l5.3 -3.6zM282.9 133.5l-5.3 4.4l-4 -2.4l5.3 -2.7zM284.2 129.2l-5.3 3.6l-4 -1.7l5.3 -2.8zM280.2 128.3l-5.3 2.8l-4.1 -2.8l5.3 0.2zM274.9 131.1l-5.4 0.8l-4 -0.9l5.3 -2.7zM269.5 131.9l-5.3 3.9l-4 -2.6l5.3 -2.2zM276.1 128.5l-5.3 -0.2l-4 -1.5l5.3 -1.8zM270.8 128.3l-5.3 2.7l-4 -0.3l5.3 -3.9z"/>
<path fill="#ffdf00" stroke="#ffdf00" d="M550.1 204.3l-5.3 2.6l-4 -6.4l5.3 -2.6zM544.8 206.9l-5.3 2.5l-4.1 -5.7l5.4 -3.2zM530.1 207.1l-5.3 2.5l-4 -4.2l5.3 -4.2zM520.8 205.4l-5.4 2.4l-4 -1.7l5.3 -5.1zM511.4 206.1l-5.3 2.6l-4.1 -3.2l5.4 -4.4zM502.0 205.5l-5.3 2.5l-4 -1.5l5.3 -2.9zM498.0 203.6l-5.3 2.9l-4.1 -1.4l5.4 -3.4zM494.0 201.7l-5.4 3.4l-4 -1.3l5.3 -3.8zM489.9 200.0l-5.3 3.8l-4 -3.7l5.3 -1zM485.9 199.1l-5.3 1l-4.1 0.9l5.3 -4zM481.8 197.0l-5.3 4l-4 -3.1l5.3 -3.2zM477.8 194.7l-5.3 3.2l-4.1 -2.2l5.4 -2.7zM473.8 193.0l-5.4 2.7l-4 -0.8l5.3 -5.1zM465.7 187.6l-5.3 5.3l-4.1 -1.7l5.4 -2.6zM461.7 188.6l-5.4 2.6l-4 -0.9l5.3 -4.2zM457.6 186.1l-5.3 4.2l-4 -2.3l5.3 -5zM453.6 183.0l-5.3 5l-4.1 -2.8l5.4 -1zM449.6 184.2l-5.4 1l-4 -1.6l5.3 -1zM444.2 185.2l-5.3 5l-4 -2l5.3 -4.6zM445.5 182.6l-5.3 1l-4 -0.7l5.3 -3.3zM440.2 183.6l-5.3 4.6l-4.1 -2.7l5.4 -2.6zM441.5 179.6l-5.3 3.3l-4.1 -1.5l5.3 -4.3zM437.4 177.1l-5.3 4.3l-4 -3.5l5.3 -2.1zM432.1 181.4l-5.3 2l-4 -2.4l5.3 -3.1zM433.4 175.8l-5.3 2.1l-4.1 -1.4l5.4 -2.8zM428.1 177.9l-5.3 3.1l-4.1 0.3l5.3 -4.8zM429.4 173.7l-5.4 2.8l-4 -1.4l5.3 -2.2zM424.0 176.5l-5.3 4.8l-4 -2.9l5.3 -3.3zM425.3 172.9l-5.3 2.2l-4 -0.3l5.3 -3.8zM420.0 175.1l-5.3 3.3l-4.1 -0.8l5.4 -2.8zM421.3 171.0l-5.3 3.8l-4.1 -2l5.4 -4.3zM411.9 172.8l-5.3 2.1l-4 -0.1l5.3 -4.3zM407.9 170.5l-5.3 4.3l-4.1 -4l5.4 -2.9zM409.2 166.3l-5.3 1.6l-4.1 -0.8l5.4 -3.7zM403.9 167.9l-5.4 2.9l-4 -0.4l5.3 -3.3zM399.8 167.1l-5.3 3.3l-4 -1.7l5.3 -2.2zM401.1 162.7l-5.3 3.8l-4 -3.4l5.3 -2zM395.8 166.5l-5.3 2.2l-4.1 -2.9l5.4 -2.7zM397.1 161.1l-5.3 2l-4.1 -1.5l5.3 -0.4zM391.8 163.1l-5.4 2.7l-4 0.1l5.3 -4.3zM393.0 161.2l-5.3 0.4l-4 -1.8l5.3 -2.1zM387.7 161.6l-5.3 4.3l-4 -2.6l5.3 -3.5zM383.7 159.8l-5.3 3.5l-4.1 -0.1l5.3 -3.9zM379.6 159.3l-5.3 3.9l-4 -5l5.3 -0.2zM380.9 156.0l-5.3 2l-4 -1.5l5.3 -5.2zM375.6 158.0l-5.3 0.2l-4.1 -0.7l5.4 -1zM370.3 158.2l-5.4 5.1l-4 -0.8l5.3 -5zM371.6 156.5l-5.4 1l-4 -1.7l5.3 -2.6zM366.2 157.5l-5.3 5l-4 -3l5.3 -3.7zM367.5 153.2l-5.3 2.6l-4 -0.8l5.3 -3.4zM362.2 155.8l-5.3 3.7l-4.1 -2.2l5.4 -2.3zM363.5 151.6l-5.3 3.4l-4.1 -1l5.4 -4.8zM359.5 149.2l-5.4 4.8l-4 -2.4l5.3 -2.9zM360.7 145.9l-5.3 2.8l-4 -1.4l5.3 -1.7zM355.4 148.7l-5.3 2.9l-4 -1.6l5.3 -2.7zM356.7 145.6l-5.3 1.7l-4.1 -2.4l5.4 -2.9zM351.4 147.3l-5.3 2.7l-4.1 -1.2l5.3 -3.9zM347.3 144.9l-5.3 3.9l-4 -2.4l5.3 -2.1zM343.3 144.3l-5.3 2.1l-4.1 -0.8l5.4 -1.9zM339.3 143.7l-5.4 1.9l-4 -2l5.3 -2.2zM335.2 141.4l-5.3 2.2l-4 -1.7l5.3 -2.7zM331.2 139.2l-5.3 2.7l-4.1 -3.6l5.4 -1.3zM325.9 141.9l-5.4 3.4l-4 -0.5l5.3 -6.5zM327.2 137.0l-5.4 1.3l-4 -1.7l5.3 -2.5zM321.8 138.3l-5.3 6.5l-4 -4.9l5.3 -3.3zM317.8 136.6l-5.3 3.3l-4.1 -0.3l5.4 -2.7zM315.1 131.6l-5.4 4.6l-4 -2.6l5.3 -3.1zM311.0 130.5l-5.3 3.1l-4 -1.4l5.3 -2.7zM305.7 133.6l-5.3 2.2l-4.1 -3.1l5.4 -0.5zM307.0 129.5l-5.3 2.7l-4.1 -2.3l5.3 -2.7zM301.7 132.2l-5.4 0.5l-4 -1.3l5.3 -1.5zM296.3 132.7l-5.3 5l-4 -2.4l5.3 -3.9zM302.9 127.2l-5.3 2.7l-4 -1.7l5.3 -0.4zM297.6 129.9l-5.3 1.5l-4 -0.7l5.3 -2.5zM292.3 131.4l-5.3 3.9l-4.1 -1.8l5.4 -2.8zM298.9 127.8l-5.3 0.4l-4.1 -1.3l5.4 -3zM293.6 128.2l-5.3 2.5l-4.1 -1.5l5.3 -2.3zM294.9 123.9l-5.4 3l-4 -2.5l5.3 -2.1zM289.5 126.9l-5.3 2.3l-4 -0.9l5.3 -3.9zM290.8 122.3l-5.3 2.1l-4 -2.1l5.3 -2.2zM285.5 124.4l-5.3 3.9l-4.1 0.2l5.4 -6.2zM286.8 120.1l-5.3 2.2l-4.1 -2l5.4 -0.5zM281.5 122.3l-5.4 6.2l-4 -3.5l5.3 -4.7z"/>
<path fill="#ffcf00" stroke="#ffcf00" d="M566.1 197.6l-5.3 2.6l-4 -9l5.3 -1.5zM560.8 200.2l-5.3 1.8l-4.1 -7.5l5.4 -3.3zM555.5 202.0l-5.4 2.3l-4 -6.4l5.3 -3.4zM540.8 200.5l-5.4 3.2l-4 -5.8l5.3 -2.7zM535.4 203.7l-5.3 3.4l-4 -5.9l5.3 -3.3zM526.1 201.2l-5.3 4.2l-4.1 -4.4l5.3 -1.5zM522.0 199.5l-5.3 1.5l-4 -2.6l5.3 -2.4zM516.7 201.0l-5.3 5.1l-4 -5l5.3 -2.7zM512.7 198.4l-5.3 2.7l-4.1 -1.4l5.3 -3.3zM507.4 201.1l-5.4 4.4l-4 -1.9l5.3 -3.9zM508.6 196.4l-5.3 3.3l-4 -2.1l5.3 -0.7zM503.3 199.7l-5.3 3.9l-4 -1.9l5.3 -4.1zM504.6 196.9l-5.3 0.7l-4.1 -3l5.4 -3.2zM499.3 197.6l-5.3 4.1l-4.1 -1.7l5.3 -5.4zM495.2 194.6l-5.3 5.4l-4 -0.9l5.3 -5.5zM491.2 193.6l-5.3 5.5l-4.1 -2.1l5.4 -5.7zM487.2 191.3l-5.4 5.7l-4 -2.3l5.3 -4.5zM483.1 190.2l-5.3 4.5l-4 -1.7l5.3 -2.7zM479.1 190.3l-5.3 2.7l-4.1 -3.2l5.4 -3.1zM475.1 186.7l-5.4 3.1l-4 -2.2l5.3 -1.6zM469.7 189.8l-5.3 5.1l-4 -2l5.3 -5.3zM471.0 186.0l-5.3 1.6l-4 1l5.3 -2.9zM467.0 185.7l-5.3 2.9l-4.1 -2.5l5.4 -4.3zM463.0 181.8l-5.4 4.3l-4 -3.1l5.3 -3zM458.9 180.0l-5.3 3l-4 1.2l5.3 -5.3zM454.9 178.9l-5.3 5.3l-4.1 -1.6l5.3 -4.5zM450.8 178.1l-5.3 4.5l-4 -3l5.3 -3.8zM446.8 175.8l-5.3 3.8l-4.1 -2.5l5.4 -2.6zM442.8 174.5l-5.4 2.6l-4 -1.3l5.3 -3.6zM438.7 172.2l-5.3 3.6l-4 -2.1l5.3 -3.8zM434.7 169.9l-5.3 3.8l-4.1 -0.8l5.4 -4.6zM430.7 168.3l-5.4 4.6l-4 -1.9l5.3 -4.1zM426.6 166.9l-5.3 4.1l-4 -2.5l5.3 -3zM422.6 165.5l-5.3 3l-4.1 -2l5.4 -3.6zM417.3 168.5l-5.4 4.3l-4 -2.3l5.3 -4zM418.6 162.9l-5.4 3.6l-4 -0.2l5.3 -4.8zM413.2 166.5l-5.3 4l-4 -2.6l5.3 -1.6zM414.5 161.5l-5.3 4.8l-4 -2.9l5.3 -2zM410.5 161.4l-5.3 2l-4.1 -0.7l5.3 -2.9zM405.2 163.4l-5.4 3.7l-4 -0.6l5.3 -3.8zM406.4 159.8l-5.3 2.9l-4 -1.6l5.3 -4.5zM402.4 156.6l-5.3 4.5l-4.1 0.1l5.4 -4zM398.4 157.2l-5.4 4l-4 -3.5l5.3 -3.4zM394.3 154.3l-5.3 3.4l-4 -3.8l5.3 -1.5zM389.0 157.7l-5.3 2.1l-4.1 -0.5l5.4 -5.4zM390.3 152.4l-5.3 1.5l-4.1 2.1l5.4 -3.8zM385.0 153.9l-5.4 5.4l-4 -1.3l5.3 -2zM386.3 152.2l-5.4 3.8l-4 -4.7l5.3 -2.6zM382.2 148.7l-5.3 2.6l-4 -0.5l5.3 -2.9zM376.9 151.3l-5.3 5.2l-4.1 -3.3l5.4 -2.4zM378.2 147.9l-5.3 2.9l-4.1 -1.9l5.3 -3.1zM372.9 150.8l-5.4 2.4l-4 -1.6l5.3 -2.7zM374.1 145.8l-5.3 3.1l-4 -3.5l5.3 0zM368.8 148.9l-5.3 2.7l-4 -2.4l5.3 -3.8zM370.1 145.4l-5.3 0l-4.1 0.5l5.4 -3.3zM364.8 145.4l-5.3 3.8l-4.1 -0.5l5.3 -2.8zM366.1 142.6l-5.4 3.3l-4 -0.3l5.3 -5.6zM358.0 138.5l-5.3 3.5l-4.1 -0.8l5.4 -3.6zM352.7 142.0l-5.4 2.9l-4 -0.6l5.3 -3.1zM354.0 137.6l-5.4 3.6l-4 -2.6l5.3 -2.2zM348.6 141.2l-5.3 3.1l-4 -0.6l5.3 -5.1zM349.9 136.4l-5.3 2.2l-4 -4.9l5.3 0.3zM344.6 138.6l-5.3 5.1l-4.1 -2.3l5.4 -7.7zM336.5 135.1l-5.3 4.1l-4 -2.2l5.3 -4.2zM332.5 132.8l-5.3 4.2l-4.1 -2.9l5.4 -2.5zM333.8 128.7l-5.3 2.9l-4.1 -1.9l5.3 -1.5zM328.5 131.6l-5.4 2.5l-4 -1.7l5.3 -2.7zM323.1 134.1l-5.3 2.5l-4 0.3l5.3 -4.5zM329.7 128.2l-5.3 1.5l-4 -0.9l5.3 -3.9zM324.4 129.7l-5.3 2.7l-4 -0.8l5.3 -2.8zM319.1 132.4l-5.3 4.5l-4.1 -0.7l5.4 -4.6zM320.4 128.8l-5.3 2.8l-4.1 -1.1l5.3 -3zM316.3 127.5l-5.3 3l-4 -1l5.3 -2.9zM312.3 126.6l-5.3 2.9l-4.1 -2.3l5.4 -2.2zM313.6 120.2l-5.3 4.8l-4.1 -2.5l5.4 -1.3zM308.3 125.0l-5.4 2.2l-4 0.6l5.3 -5.3zM309.6 121.2l-5.4 1.3l-4 -2.8l5.3 -3zM304.2 122.5l-5.3 5.3l-4 -3.9l5.3 -4.2zM300.2 119.7l-5.3 4.2l-4.1 -1.6l5.4 -3.9zM296.2 118.4l-5.4 3.9l-4 -2.2l5.3 -2.7zM292.1 117.4l-5.3 2.7l-4 -0.3l5.3 -4.4z"/>
<path fill="#ffbf00" stroke="#ffbf00" d="M608.7 186.1l-5.3 1.1l-4 -10.4l5.3 -0.9zM603.4 187.2l-5.3 2.1l-4.1 -9.5l5.4 -3zM598.1 189.3l-5.3 0.5l-4.1 -9.6l5.3 -0.4zM592.8 189.8l-5.4 1.9l-4 -9.7l5.3 -1.8zM587.4 191.7l-5.3 1.5l-4 -9.9l5.3 -1.3zM582.1 193.2l-5.3 1.1l-4.1 -9.3l5.4 -1.7zM576.8 194.3l-5.4 0.7l-4 -8.3l5.3 -1.7zM571.4 195.0l-5.3 2.6l-4 -7.9l5.3 -3zM551.4 194.5l-5.3 3.4l-4 -5.5l5.3 -3.3zM546.1 197.9l-5.3 2.6l-4.1 -5.3l5.4 -2.8zM536.7 195.2l-5.3 2.7l-4 -3.3l5.3 -3.8zM531.4 197.9l-5.3 3.3l-4.1 -1.7l5.4 -4.9zM527.4 194.6l-5.4 4.9l-4 -3.5l5.3 -3.2zM523.3 192.8l-5.3 3.2l-4 -2.9l5.3 -2.2zM518.0 196.0l-5.3 2.4l-4.1 -2l5.4 -3.3zM514.0 193.1l-5.4 3.3l-4 0.5l5.3 -7.2zM509.9 189.7l-5.3 7.2l-4 -5.5l5.3 -2.1zM505.9 189.3l-5.3 2.1l-4.1 -1.1l5.4 -1.4zM500.6 191.4l-5.4 3.2l-4 -1l5.3 -3.3zM501.9 188.9l-5.4 1.4l-4 -3.1l5.3 -2.8zM496.5 190.3l-5.3 3.3l-4 -2.3l5.3 -4.1zM497.8 184.4l-5.3 2.8l-4 0.3l5.3 -3zM492.5 187.2l-5.3 4.1l-4.1 -1.1l5.4 -2.7zM493.8 184.5l-5.3 3l-4.1 -1.8l5.4 -3.2zM488.5 187.5l-5.4 2.7l-4 0.1l5.3 -4.6zM489.8 182.5l-5.4 3.2l-4 -1.2l5.3 -4zM484.4 185.7l-5.3 4.6l-4 -3.6l5.3 -2.2zM485.7 180.5l-5.3 4l-4 -3.1l5.3 -1.8zM480.4 184.5l-5.3 2.2l-4.1 -0.7l5.4 -4.6zM481.7 179.6l-5.3 1.8l-4.1 -1l5.3 -2.9zM476.4 181.4l-5.4 4.6l-4 -0.3l5.3 -5.3zM477.6 177.5l-5.3 2.9l-4 -1.8l5.3 -3.3zM472.3 180.4l-5.3 5.3l-4 -3.9l5.3 -3.2zM473.6 175.3l-5.3 3.3l-4.1 -3.5l5.4 -0.5zM468.3 178.6l-5.3 3.2l-4.1 -1.8l5.3 -4.9zM469.6 174.6l-5.4 0.5l-4 0.8l5.3 -3.9zM464.2 175.1l-5.3 4.9l-4 -1.1l5.3 -3zM460.2 175.9l-5.3 3l-4.1 -0.8l5.4 -4.9zM456.2 173.2l-5.4 4.9l-4 -2.3l5.3 -3.6zM452.1 172.2l-5.3 3.6l-4 -1.3l5.3 -3zM448.1 171.5l-5.3 3l-4.1 -2.3l5.4 -4.3zM444.1 167.9l-5.4 4.3l-4 -2.3l5.3 -2.6zM440.0 167.3l-5.3 2.6l-4 -1.6l5.3 -2.3zM436.0 166.0l-5.3 2.3l-4.1 -1.4l5.4 -3.3zM432.0 163.6l-5.4 3.3l-4 -1.4l5.3 -3.8zM427.9 161.7l-5.3 3.8l-4 -2.6l5.3 -2.5zM423.9 160.4l-5.3 2.5l-4.1 -1.4l5.3 -2.2zM419.8 159.3l-5.3 2.2l-4 -0.1l5.3 -3.5zM415.8 157.9l-5.3 3.5l-4.1 -1.6l5.4 -3.4zM411.8 156.4l-5.4 3.4l-4 -3.2l5.3 -3.6zM407.7 153.0l-5.3 3.6l-4 0.6l5.3 -4.3zM403.7 152.9l-5.3 4.3l-4.1 -2.9l5.4 -3.7zM399.7 150.6l-5.4 3.7l-4 -1.9l5.3 -2.4zM395.6 150.0l-5.3 2.4l-4 -0.2l5.3 -5.5zM391.6 146.7l-5.3 5.5l-4.1 -3.5l5.3 -2.8zM387.5 145.9l-5.3 2.8l-4 -0.8l5.3 -4.9zM383.5 143.0l-5.3 4.9l-4.1 -2.1l5.4 -3.1zM379.5 142.7l-5.4 3.1l-4 -0.4l5.3 -6.9zM371.4 137.9l-5.3 4.7l-4.1 -2.6l5.4 -3.4zM367.4 136.6l-5.4 3.4l-4 -1.5l5.3 -2.4zM362.0 140.0l-5.3 5.6l-4 -3.6l5.3 -3.5zM363.3 136.1l-5.3 2.4l-4 -0.9l5.3 -2.1zM359.3 135.5l-5.3 2.1l-4.1 -1.2l5.4 -4.8zM355.3 131.6l-5.4 4.8l-4 -2.4l5.3 -4.7zM345.9 134.0l-5.3 -0.3l-4.1 1.4l5.4 -4.2zM340.6 133.7l-5.4 7.7l-4 -2.2l5.3 -4.1zM341.9 130.9l-5.4 4.2l-4 -2.3l5.3 -3.6zM337.8 129.2l-5.3 3.6l-4 -1.2l5.3 -2.9zM339.1 124.6l-5.3 4.1l-4.1 -0.5l5.4 -4.2zM335.1 124.0l-5.4 4.2l-4 -3.3l5.3 -2zM331.0 122.9l-5.3 2l-4 -3.4l5.3 -0.6zM325.7 124.9l-5.3 3.9l-4.1 -1.3l5.4 -6zM327.0 120.9l-5.3 0.6l-4.1 0.2l5.4 -3.1zM321.7 121.5l-5.4 6l-4 -0.9l5.3 -4.9zM317.6 121.7l-5.3 4.9l-4 -1.6l5.3 -4.8zM305.5 116.7l-5.3 3l-4 -1.3l5.3 -3.3zM301.5 115.1l-5.3 3.3l-4.1 -1l5.3 -4.6zM302.8 110.0l-5.4 2.8l-4 -0.6l5.3 -2.9zM297.4 112.8l-5.3 4.6l-4 -2l5.3 -3.2z"/>
<path fill="#ffaf00" stroke="#ffaf00" d="M562.1 189.7l-5.3 1.5l-4.1 -5.5l5.3 -1.9zM556.8 191.2l-5.4 3.3l-4 -5.4l5.3 -3.4zM547.4 189.1l-5.3 3.3l-4.1 -4.7l5.4 -1.2zM542.1 192.4l-5.4 2.8l-4 -4.4l5.3 -3.1zM532.7 190.8l-5.3 3.8l-4.1 -1.8l5.4 -4.8zM528.7 188.0l-5.4 4.8l-4 -1.9l5.3 -5.2zM519.3 190.9l-5.3 2.2l-4.1 -3.4l5.4 -3.1zM515.3 186.6l-5.4 3.1l-4 -0.4l5.3 -1.8zM511.2 187.5l-5.3 1.8l-4 -0.4l5.3 -6.1zM507.2 182.8l-5.3 6.1l-4.1 -4.5l5.4 -1.5zM503.2 182.9l-5.4 1.5l-4 0.1l5.3 -3.5zM499.1 181.0l-5.3 3.5l-4 -2l5.3 -3.8zM495.1 178.7l-5.3 3.8l-4.1 -2l5.3 -5zM487.0 174.8l-5.3 4.8l-4.1 -2.1l5.4 -5.3zM474.9 169.6l-5.3 5l-4.1 -2.6l5.4 -3.3zM470.9 168.7l-5.4 3.3l-4 -2.3l5.3 -4.7zM465.5 172.0l-5.3 3.9l-4 -2.7l5.3 -3.5zM461.5 169.7l-5.3 3.5l-4.1 -1l5.4 -3.5zM457.5 168.7l-5.4 3.5l-4 -0.7l5.3 -4.2zM453.4 167.3l-5.3 4.2l-4 -3.6l5.3 -4.4zM449.4 163.5l-5.3 4.4l-4.1 -0.6l5.4 -4.3zM445.4 163.0l-5.4 4.3l-4 -1.3l5.3 -3.1zM441.3 162.9l-5.3 3.1l-4 -2.4l5.3 -4.1zM437.3 159.5l-5.3 4.1l-4.1 -1.9l5.3 -3.1zM433.2 158.6l-5.3 3.1l-4 -1.3l5.3 -3.5zM434.5 153.8l-5.3 3.1l-4 -3.3l5.3 -2zM429.2 156.9l-5.3 3.5l-4.1 -1.1l5.4 -5.7zM430.5 151.6l-5.3 2l-4.1 -0.7l5.4 -2.7zM425.2 153.6l-5.4 5.7l-4 -1.4l5.3 -5zM421.1 152.9l-5.3 5l-4 -1.5l5.3 -4.8zM417.1 151.6l-5.3 4.8l-4.1 -3.4l5.4 -3.2zM413.1 149.8l-5.4 3.2l-4 -0.1l5.3 -3.8zM409.0 149.1l-5.3 3.8l-4 -2.3l5.3 -5.2zM405.0 145.4l-5.3 5.2l-4.1 -0.6l5.3 -4.4zM400.9 145.6l-5.3 4.4l-4 -3.3l5.3 -4.4zM396.9 142.3l-5.3 4.4l-4.1 -0.8l5.4 -3.6zM392.9 142.3l-5.4 3.6l-4 -2.9l5.3 -3.9zM388.8 139.1l-5.3 3.9l-4 -0.3l5.3 -4.8zM384.8 137.9l-5.3 4.8l-4.1 -4.2l5.4 -1.5zM380.8 137.0l-5.4 1.5l-4 -0.6l5.3 -1.8zM375.4 138.5l-5.3 6.9l-4 -2.8l5.3 -4.7zM376.7 136.1l-5.3 1.8l-4 -1.3l5.3 -4.2zM372.7 132.4l-5.3 4.2l-4.1 -0.5l5.4 -4.9zM368.7 131.2l-5.4 4.9l-4 -0.6l5.3 -4.8zM364.6 130.7l-5.3 4.8l-4 -3.9l5.3 -2.4zM360.6 129.2l-5.3 2.4l-4.1 -2.3l5.3 -4zM351.2 129.3l-5.3 4.7l-4 -3.1l5.3 -2.4zM347.2 128.5l-5.3 2.4l-4.1 -1.7l5.3 -4.2zM348.5 122.0l-5.4 3l-4 -0.4l5.3 -2.1zM343.1 125.0l-5.3 4.2l-4 -0.5l5.3 -4.1zM344.4 122.5l-5.3 2.1l-4 -0.6l5.3 -4.7zM340.4 119.3l-5.3 4.7l-4.1 -1.1l5.4 -4.9zM336.4 118.0l-5.4 4.9l-4 -2l5.3 -5.8zM328.3 114.7l-5.3 3.9l-4.1 -2.9l5.3 -2.9zM323.0 118.6l-5.4 3.1l-4 -1.5l5.3 -4.5zM324.2 112.8l-5.3 2.9l-4 -2.1l5.3 -1.9zM318.9 115.7l-5.3 4.5l-4 1l5.3 -7.6zM314.9 113.6l-5.3 7.6l-4.1 -4.5l5.3 -4zM310.8 112.7l-5.3 4l-4 -1.6l5.3 -4.3zM306.8 110.8l-5.3 4.3l-4.1 -2.3l5.4 -2.8z"/>
<path fill="#ff9f00" stroke="#ff9f00" d="M583.4 182.0l-5.3 1.3l-4.1 -7.9l5.4 -1.2zM578.1 183.3l-5.4 1.7l-4 -6.6l5.3 -3zM572.7 185.0l-5.3 1.7l-4 -6.1l5.3 -2.2zM567.4 186.7l-5.3 3l-4.1 -5.9l5.4 -3.2zM543.4 186.5l-5.4 1.2l-4 -3l5.3 -3.5zM538.0 187.7l-5.3 3.1l-4 -2.8l5.3 -3.3zM534.0 184.7l-5.3 3.3l-4.1 -2.3l5.4 -3.8zM524.6 185.7l-5.3 5.2l-4 -4.3l5.3 -3.4zM520.6 183.2l-5.3 3.4l-4.1 0.9l5.4 -7zM516.6 180.5l-5.4 7l-4 -4.7l5.3 -2.8zM512.5 180.0l-5.3 2.8l-4 0.1l5.3 -4.7zM508.5 178.2l-5.3 4.7l-4.1 -1.9l5.3 -5.4zM504.4 175.6l-5.3 5.4l-4 -2.3l5.3 -6zM500.4 172.7l-5.3 6l-4.1 -3.2l5.4 -2zM496.4 173.5l-5.4 2l-4 -0.7l5.3 -4.6zM491.0 175.5l-5.3 5l-4 -0.9l5.3 -4.8zM492.3 170.2l-5.3 4.6l-4 -2.6l5.3 -3zM488.3 169.2l-5.3 3l-4.1 -1.5l5.4 -3.1zM483.0 172.2l-5.4 5.3l-4 -2.2l5.3 -4.6zM484.3 167.6l-5.4 3.1l-4 -1.1l5.3 -4.6zM478.9 170.7l-5.3 4.6l-4 -0.7l5.3 -5zM466.8 165.0l-5.3 4.7l-4 -1l5.3 -5.2zM462.8 163.5l-5.3 5.2l-4.1 -1.4l5.4 -6.3zM458.8 161.0l-5.4 6.3l-4 -3.8l5.3 -2.2zM454.7 161.3l-5.3 2.2l-4 -0.5l5.3 -4zM450.7 159.0l-5.3 4l-4.1 -0.1l5.3 -5.5zM452.0 154.5l-5.4 2.9l-4 -1.3l5.3 -4.3zM446.6 157.4l-5.3 5.5l-4 -3.4l5.3 -3.4zM447.9 151.8l-5.3 4.3l-4 -1.8l5.3 -2zM442.6 156.1l-5.3 3.4l-4.1 -0.9l5.4 -4.3zM443.9 152.3l-5.3 2l-4.1 -0.5l5.4 -5.8zM438.6 154.3l-5.4 4.3l-4 -1.7l5.3 -3.1zM426.5 150.2l-5.4 2.7l-4 -1.3l5.3 -4.8zM427.7 144.6l-5.3 2.2l-4 -2l5.3 -2.5zM422.4 146.8l-5.3 4.8l-4 -1.8l5.3 -5zM418.4 144.8l-5.3 5l-4.1 -0.7l5.3 -3.4zM419.7 141.0l-5.4 4.7l-4 -4.4l5.3 -1.4zM414.3 145.7l-5.3 3.4l-4 -3.7l5.3 -4.1zM415.6 139.9l-5.3 1.4l-4 -1.6l5.3 -1.8zM410.3 141.3l-5.3 4.1l-4.1 0.2l5.4 -5.9zM406.3 139.7l-5.4 5.9l-4 -3.3l5.3 -4.1zM402.2 138.2l-5.3 4.1l-4 0l5.3 -6.3zM398.2 136.0l-5.3 6.3l-4.1 -3.2l5.4 -3.3zM394.2 135.8l-5.4 3.3l-4 -1.2l5.3 -2.8zM390.1 135.1l-5.3 2.8l-4 -0.9l5.3 -3.6zM386.1 133.4l-5.3 3.6l-4.1 -0.9l5.4 -3.9zM382.1 132.2l-5.4 3.9l-4 -3.7l5.3 -4.6zM378.0 127.8l-5.3 4.6l-4 -1.2l5.3 -4.7zM374.0 126.5l-5.3 4.7l-4.1 -0.5l5.3 -4.7zM369.9 126.0l-5.3 4.7l-4 -1.5l5.3 -6.2zM365.9 123.0l-5.3 6.2l-4.1 -3.9l5.4 -1zM361.9 124.3l-5.4 1l-4 -1.9l5.3 -1.3zM356.5 125.3l-5.3 4l-4 -0.8l5.3 -5.1zM357.8 122.1l-5.3 1.3l-4 -1.4l5.3 -3.7zM352.5 123.4l-5.3 5.1l-4.1 -3.5l5.4 -3zM341.7 112.9l-5.3 5.1l-4.1 -2.9l5.3 -1.2zM337.6 113.9l-5.3 1.2l-4 -0.4l5.3 -4.3zM332.3 115.1l-5.3 5.8l-4 -2.3l5.3 -3.9zM333.6 110.4l-5.3 4.3l-4.1 -1.9l5.4 -3.2zM329.6 109.6l-5.4 3.2l-4 -1.1l5.3 -5.3zM320.2 111.7l-5.3 1.9l-4.1 -0.9l5.4 -4.6zM321.5 105.4l-5.3 2.7l-4.1 -1.9l5.4 -2.1zM316.2 108.1l-5.4 4.6l-4 -1.9l5.3 -4.6zM317.5 104.1l-5.4 2.1l-4 -1.4l5.3 -1.7zM312.1 106.2l-5.3 4.6l-4 -0.8l5.3 -5.2zM313.4 103.1l-5.3 1.7l-4 -1.4l5.3 -2.3zM308.1 104.8l-5.3 5.2l-4.1 -0.7l5.4 -5.9z"/>
<path fill="#ff8f00" stroke="#ff8f00" d="M604.7 175.9l-5.3 0.9l-4.1 -8l5.4 -1.9zM599.4 176.8l-5.4 3l-4 -9.5l5.3 -1.5zM594.0 179.8l-5.3 0.4l-4 -8.1l5.3 -1.8zM588.7 180.2l-5.3 1.8l-4 -7.8l5.3 -2.1zM563.4 180.6l-5.4 3.2l-4 -5.3l5.3 -2.7zM558.0 183.8l-5.3 1.9l-4 -6.7l5.3 -0.5zM552.7 185.7l-5.3 3.4l-4 -2.6l5.3 -7.5zM548.7 179.0l-5.3 7.5l-4.1 -5.3l5.3 -2.4zM539.3 181.2l-5.3 3.5l-4 -2.8l5.3 -3.7zM530.0 181.9l-5.4 3.8l-4 -2.5l5.3 -4.3zM525.9 178.9l-5.3 4.3l-4 -2.7l5.3 -4.1zM521.9 176.4l-5.3 4.1l-4.1 -0.5l5.3 -5zM517.8 175.0l-5.3 5l-4 -1.8l5.3 -6.1zM513.8 172.1l-5.3 6.1l-4.1 -2.6l5.4 -2.1zM509.8 173.5l-5.4 2.1l-4 -2.9l5.3 -1.7zM505.7 171.0l-5.3 1.7l-4 0.8l5.3 -5.3zM501.7 168.2l-5.3 5.3l-4.1 -3.3l5.4 -4.2zM497.7 166.0l-5.4 4.2l-4 -1l5.3 -4.1zM493.6 165.1l-5.3 4.1l-4 -1.6l5.3 -2.9zM489.6 164.7l-5.3 2.9l-4.1 -2.6l5.4 -3.4zM485.6 161.6l-5.4 3.4l-4 -2l5.3 -3.5zM480.2 165.0l-5.3 4.6l-4 -0.9l5.3 -5.7zM481.5 159.5l-5.3 3.5l-4 -1.3l5.3 -2.8zM476.2 163.0l-5.3 5.7l-4.1 -3.7l5.4 -3.3zM477.5 158.9l-5.3 2.8l-4.1 -2.4l5.3 -3zM472.2 161.7l-5.4 3.3l-4 -1.5l5.3 -4.2zM473.4 156.3l-5.3 3l-4 -2.7l5.3 -0.5zM468.1 159.3l-5.3 4.2l-4 -2.5l5.3 -4.4zM469.4 156.1l-5.3 0.5l-4.1 0.9l5.4 -5.1zM464.1 156.6l-5.3 4.4l-4.1 0.3l5.3 -3.8zM460.0 157.5l-5.3 3.8l-4 -2.3l5.3 -4.7zM456.0 154.3l-5.3 4.7l-4.1 -1.6l5.4 -2.9zM449.2 147.4l-5.3 4.9l-4 -4.3l5.3 -2.8zM439.9 148.0l-5.4 5.8l-4 -2.2l5.3 -4.5zM435.8 147.1l-5.3 4.5l-4 -1.4l5.3 -5.4zM437.1 141.5l-5.3 3.3l-4.1 -0.2l5.4 -4.1zM431.8 144.8l-5.3 5.4l-4.1 -3.4l5.3 -2.2zM433.1 140.5l-5.4 4.1l-4 -2.3l5.3 -4.5zM423.7 142.3l-5.3 2.5l-4.1 0.9l5.4 -4.7zM411.6 137.9l-5.3 1.8l-4.1 -1.5l5.4 -4.6zM407.6 133.6l-5.4 4.6l-4 -2.2l5.3 -3.4zM403.5 132.6l-5.3 3.4l-4 -0.2l5.3 -3.8zM399.5 132.0l-5.3 3.8l-4.1 -0.7l5.4 -6.2zM400.8 127.4l-5.3 1.5l-4.1 -0.7l5.3 -3zM395.5 128.9l-5.4 6.2l-4 -1.7l5.3 -5.2zM391.4 128.2l-5.3 5.2l-4 -1.2l5.3 -4.3zM387.4 127.9l-5.3 4.3l-4.1 -4.4l5.3 -3.1zM383.3 124.7l-5.3 3.1l-4 -1.3l5.3 -2.7zM379.3 123.8l-5.3 2.7l-4.1 -0.5l5.4 -4.4zM375.3 121.6l-5.4 4.4l-4 -3l5.3 -2.5zM371.2 120.5l-5.3 2.5l-4 1.3l5.3 -5.6zM367.2 118.7l-5.3 5.6l-4.1 -2.2l5.4 -6.2zM363.2 115.9l-5.4 6.2l-4 -3.8l5.3 -2.2zM359.1 116.1l-5.3 2.2l-4 -3.4l5.3 -2.4zM353.8 118.3l-5.3 3.7l-4.1 0.5l5.4 -7.6zM355.1 112.5l-5.3 2.4l-4.1 -1l5.3 -3.4zM349.8 114.9l-5.4 7.6l-4 -3.2l5.3 -5.4zM351.0 110.5l-5.3 3.4l-4 -1l5.3 -3.5zM345.7 113.9l-5.3 5.4l-4 -1.3l5.3 -5.1zM347.0 109.4l-5.3 3.5l-4.1 1l5.4 -6.2zM343.0 107.7l-5.4 6.2l-4 -3.5l5.3 -4zM338.9 106.4l-5.3 4l-4 -0.8l5.3 -5.3zM334.9 104.3l-5.3 5.3l-4.1 -3.2l5.4 -3.5zM330.9 102.9l-5.4 3.5l-4 -1l5.3 -4.6zM325.5 106.4l-5.3 5.3l-4 -3.6l5.3 -2.7zM326.8 100.8l-5.3 4.6l-4 -1.3l5.3 -3.6zM322.8 100.5l-5.3 3.6l-4.1 -1l5.4 -5.9z"/>
<path fill="#ff8000" stroke="#ff8000" d="M584.7 172.1l-5.3 2.1l-4.1 -4.6l5.3 -2.3zM579.4 174.2l-5.4 1.2l-4 -4.8l5.3 -1zM574.0 175.4l-5.3 3l-4 -4.4l5.3 -3.4zM568.7 178.4l-5.3 2.2l-4.1 -4.8l5.4 -1.8zM559.3 175.8l-5.3 2.7l-4 -5.1l5.3 -2.6zM554.0 178.5l-5.3 0.5l-4.1 -0.2l5.4 -5.4zM544.6 178.8l-5.3 2.4l-4 -3l5.3 -3.2zM540.6 175.0l-5.3 3.2l-4.1 -4l5.4 -3.3zM535.3 178.2l-5.3 3.7l-4.1 -3l5.3 -4.7zM531.2 174.2l-5.3 4.7l-4 -2.5l5.3 -3zM527.2 173.4l-5.3 3l-4.1 -1.4l5.4 -2.9zM523.2 172.1l-5.4 2.9l-4 -2.9l5.3 -2.3zM519.1 169.8l-5.3 2.3l-4 1.4l5.3 -4.4zM515.1 169.1l-5.3 4.4l-4.1 -2.5l5.4 -5.8zM511.1 165.2l-5.4 5.8l-4 -2.8l5.3 -3.4zM507.0 164.8l-5.3 3.4l-4 -2.2l5.3 -3.5zM503.0 162.5l-5.3 3.5l-4.1 -0.9l5.4 -2.1zM499.0 163.0l-5.4 2.1l-4 -0.4l5.3 -4.9zM494.9 159.8l-5.3 4.9l-4 -3.1l5.3 -5.7zM482.8 154.0l-5.3 4.9l-4.1 -2.6l5.4 -3.9zM478.8 152.4l-5.4 3.9l-4 -0.2l5.3 -5.7zM465.4 152.4l-5.4 5.1l-4 -3.2l5.3 -3.5zM461.3 150.8l-5.3 3.5l-4 0.2l5.3 -5zM457.3 149.5l-5.3 5l-4.1 -2.7l5.4 -4.4zM453.3 147.4l-5.4 4.4l-4 0.5l5.3 -4.9zM454.5 142.2l-5.3 5.2l-4 -2.2l5.3 -3.8zM450.5 141.4l-5.3 3.8l-4.1 -3.9l5.4 -1.8zM445.2 145.2l-5.3 2.8l-4.1 -0.9l5.3 -5.8zM446.5 139.5l-5.4 1.8l-4 0.2l5.3 -4.1zM441.1 141.3l-5.3 5.8l-4 -2.3l5.3 -3.3zM434.4 134.6l-5.4 3.2l-4 -2.4l5.3 -2.9zM429.0 137.8l-5.3 4.5l-4 -1.3l5.3 -5.6zM425.0 135.4l-5.3 5.6l-4.1 -1.1l5.4 -5.4zM421.0 134.5l-5.4 5.4l-4 -2l5.3 -5.4zM416.9 132.5l-5.3 5.4l-4 -4.3l5.3 -2.9zM412.9 130.7l-5.3 2.9l-4.1 -1l5.4 -4.3zM408.9 128.3l-5.4 4.3l-4 -0.6l5.3 -3.9zM404.8 128.1l-5.3 3.9l-4 -3.1l5.3 -1.5zM396.7 125.2l-5.3 3l-4 -0.3l5.3 -4.6zM392.7 123.3l-5.3 4.6l-4.1 -3.2l5.4 -4.5zM388.7 120.2l-5.4 4.5l-4 -0.9l5.3 -5.8zM384.6 118.0l-5.3 5.8l-4 -2.2l5.3 -3.6zM380.6 118.0l-5.3 3.6l-4.1 -1.1l5.4 -4.5zM376.6 116.0l-5.4 4.5l-4 -1.8l5.3 -4.5zM372.5 114.2l-5.3 4.5l-4 -2.8l5.3 -3zM368.5 112.9l-5.3 3l-4.1 0.2l5.3 -5.5zM364.4 110.6l-5.3 5.5l-4 -3.6l5.3 -4.1zM360.4 108.4l-5.3 4.1l-4.1 -2l5.4 -2.8zM356.4 107.7l-5.4 2.8l-4 -1.1l5.3 -2.7zM352.3 106.7l-5.3 2.7l-4 -1.7l5.3 -2.6zM348.3 105.1l-5.3 2.6l-4.1 -1.3l5.4 -4.7zM344.3 101.7l-5.4 4.7l-4 -2.1l5.3 -2.1zM340.2 102.2l-5.3 2.1l-4 -1.4l5.3 -5.7zM332.2 96.8l-5.4 4l-4 -0.3l5.3 -5zM328.1 95.5l-5.3 5l-4 -3.3l5.3 -3.1zM324.1 94.1l-5.3 3.1l-4.1 -0.6l5.3 -5.4zM318.8 97.2l-5.4 5.9l-4 -2l5.3 -4.5z"/>
<path fill="#ff7000" stroke="#ff7000" d="M600.7 166.9l-5.4 1.9l-4 -8.8l5.3 -0.8zM595.3 168.8l-5.3 1.5l-4 -6.7l5.3 -3.6zM590.0 170.3l-5.3 1.8l-4.1 -4.8l5.4 -3.7zM570.0 170.6l-5.3 3.4l-4.1 -5l5.4 -3.7zM564.7 174.0l-5.4 1.8l-4 -5l5.3 -1.8zM555.3 170.8l-5.3 2.6l-4.1 -2.9l5.4 -3.4zM550.0 173.4l-5.4 5.4l-4 -3.8l5.3 -4.5zM545.9 170.5l-5.3 4.5l-4 -4.1l5.3 -2.2zM541.9 168.7l-5.3 2.2l-4.1 -1.7l5.4 -2.6zM536.6 170.9l-5.4 3.3l-4 -0.8l5.3 -4.2zM537.9 166.6l-5.4 2.6l-4 -2.2l5.3 -3.3zM532.5 169.2l-5.3 4.2l-4 -1.3l5.3 -5.1zM528.5 167.0l-5.3 5.1l-4.1 -2.3l5.4 -3.3zM524.5 166.5l-5.4 3.3l-4 -0.7l5.3 -5.9zM520.4 163.2l-5.3 5.9l-4 -3.9l5.3 -2.7zM516.4 162.5l-5.3 2.7l-4.1 -0.4l5.4 -5.2zM512.4 159.6l-5.4 5.2l-4 -2.3l5.3 -4.3zM508.3 158.2l-5.3 4.3l-4 0.5l5.3 -5zM504.3 158.0l-5.3 5l-4.1 -3.2l5.3 -5.3zM500.2 154.5l-5.3 5.3l-4 -3.9l5.3 -1.2zM496.2 154.7l-5.3 1.2l-4.1 -1.9l5.4 -1.5zM490.9 155.9l-5.3 5.7l-4.1 -2.1l5.3 -5.5zM492.2 152.5l-5.4 1.5l-4 0l5.3 -5.5zM486.8 154.0l-5.3 5.5l-4 -0.6l5.3 -4.9zM484.1 148.4l-5.3 4l-4.1 -2l5.4 -4.1zM480.1 146.3l-5.4 4.1l-4 -1.9l5.3 -3.7zM474.7 150.4l-5.3 5.7l-4 -3.7l5.3 -3.9zM470.7 148.5l-5.3 3.9l-4.1 -1.6l5.4 -3.9zM466.7 146.9l-5.4 3.9l-4 -1.3l5.3 -3.9zM467.9 141.8l-5.3 3.8l-4 -2.1l5.3 -2.5zM462.6 145.6l-5.3 3.9l-4 -2.1l5.3 -3.9zM463.9 141.0l-5.3 2.5l-4.1 -1.3l5.4 -3.5zM458.6 143.5l-5.3 3.9l-4.1 0l5.3 -5.2zM447.8 133.1l-5.4 4.3l-4 -2.6l5.3 -2.6zM442.4 137.4l-5.3 4.1l-4 -1l5.3 -5.7zM443.7 132.2l-5.3 2.6l-4 -0.2l5.3 -4zM438.4 134.8l-5.3 5.7l-4.1 -2.7l5.4 -3.2zM430.3 132.5l-5.3 2.9l-4 -0.9l5.3 -4.3zM426.3 130.2l-5.3 4.3l-4.1 -2l5.4 -3.9zM422.3 128.6l-5.4 3.9l-4 -1.8l5.3 -4zM418.2 126.7l-5.3 4l-4 -2.4l5.3 -1.2zM414.2 127.1l-5.3 1.2l-4.1 -0.2l5.3 -5.6zM410.1 122.5l-5.3 5.6l-4 -0.7l5.3 -5.9zM406.1 121.5l-5.3 5.9l-4.1 -2.2l5.4 -4.3zM402.1 120.9l-5.4 4.3l-4 -1.9l5.3 -4.7zM398.0 118.6l-5.3 4.7l-4 -3.1l5.3 -1.5zM394.0 118.7l-5.3 1.5l-4.1 -2.2l5.4 -3.7zM390.0 114.3l-5.4 3.7l-4 0l5.3 -3.2zM385.9 114.8l-5.3 3.2l-4 -2l5.3 -3.6zM381.9 112.4l-5.3 3.6l-4.1 -1.8l5.3 -4.5zM377.8 109.7l-5.3 4.5l-4 -1.3l5.3 -5.1zM373.8 107.8l-5.3 5.1l-4.1 -2.3l5.4 -2.3zM369.8 108.3l-5.4 2.3l-4 -2.2l5.3 -3.4zM365.7 105.0l-5.3 3.4l-4 -0.7l5.3 -4.7zM361.7 103.0l-5.3 4.7l-4.1 -1l5.4 -5.3zM357.7 101.4l-5.4 5.3l-4 -1.6l5.3 -5.6zM353.6 99.5l-5.3 5.6l-4 -3.4l5.3 -4.2zM349.6 97.5l-5.3 4.2l-4.1 0.5l5.4 -4.8zM345.6 97.4l-5.4 4.8l-4 -5l5.3 -1zM341.5 96.2l-5.3 1l-4 -0.4l5.3 -3.8zM336.2 97.2l-5.3 5.7l-4.1 -2.1l5.4 -4zM337.5 93.0l-5.3 3.8l-4.1 -1.3l5.3 -4.2zM333.4 91.3l-5.3 4.2l-4 -1.4l5.3 -3.3zM329.4 90.8l-5.3 3.3l-4.1 -2.9l5.4 -2.7z"/>
<path fill="#ff6000" stroke="#ff6000" d="M580.6 167.3l-5.3 2.3l-4 -8.1l5.3 -2.1zM575.3 169.6l-5.3 1l-4 -5.3l5.3 -3.8zM560.6 169.0l-5.3 1.8l-4 -3.7l5.3 -3.5zM551.3 167.1l-5.4 3.4l-4 -1.8l5.3 -7.4zM533.8 163.7l-5.3 3.3l-4 -0.5l5.3 -4.8zM529.8 161.7l-5.3 4.8l-4.1 -3.3l5.4 -2.6zM525.8 160.6l-5.4 2.6l-4 -0.7l5.3 -4.6zM521.7 157.9l-5.3 4.6l-4 -2.9l5.3 -2.1zM517.7 157.5l-5.3 2.1l-4.1 -1.4l5.3 -4.5zM513.6 153.7l-5.3 4.5l-4 -0.2l5.3 -6.7zM505.6 149.4l-5.4 5.1l-4 0.2l5.3 -5.1zM501.5 149.6l-5.3 5.1l-4 -2.2l5.3 -6zM488.1 148.5l-5.3 5.5l-4 -1.6l5.3 -4zM481.3 140.4l-5.3 4.4l-4 -2.2l5.3 -2.2zM476.0 144.8l-5.3 3.7l-4 -1.6l5.3 -4.3zM477.3 140.4l-5.3 2.2l-4.1 -0.8l5.4 -5.1zM472.0 142.6l-5.3 4.3l-4.1 -1.3l5.3 -3.8zM473.3 136.7l-5.4 5.1l-4 -0.8l5.3 -4.4zM469.2 136.6l-5.3 4.4l-4 -2.3l5.3 -6.2zM459.9 138.7l-5.4 3.5l-4 -0.8l5.3 -5.8zM461.2 133.4l-5.4 2.2l-4 -1.5l5.3 -4.7zM455.8 135.6l-5.3 5.8l-4 -1.9l5.3 -5.4zM451.8 134.1l-5.3 5.4l-4.1 -2.1l5.4 -4.3zM439.7 130.6l-5.3 4l-4.1 -2.1l5.4 -6.5zM441.0 125.3l-5.3 0.7l-4.1 -0.4l5.3 -2zM435.7 126.0l-5.4 6.5l-4 -2.3l5.3 -4.6zM436.9 123.6l-5.3 2l-4 -0.5l5.3 -4.3zM431.6 125.6l-5.3 4.6l-4 -1.6l5.3 -3.5zM427.6 125.1l-5.3 3.5l-4.1 -1.9l5.3 -4.8zM423.5 121.9l-5.3 4.8l-4 0.4l5.3 -6.8zM419.5 120.3l-5.3 6.8l-4.1 -4.6l5.4 -2.4zM415.5 120.1l-5.4 2.4l-4 -1l5.3 -3.8zM411.4 117.7l-5.3 3.8l-4 -0.6l5.3 -5.3zM407.4 115.6l-5.3 5.3l-4.1 -2.3l5.4 -4.7zM403.4 113.9l-5.4 4.7l-4 0.1l5.3 -6.7zM399.3 112.0l-5.3 6.7l-4 -4.4l5.3 -3.9zM395.3 110.4l-5.3 3.9l-4.1 0.5l5.3 -5.7zM391.2 109.1l-5.3 5.7l-4 -2.4l5.3 -3.9zM387.2 108.5l-5.3 3.9l-4.1 -2.7l5.4 -3zM383.2 106.7l-5.4 3l-4 -1.9l5.3 -3.6zM379.1 104.2l-5.3 3.6l-4 0.5l5.3 -5.3zM375.1 103.0l-5.3 5.3l-4.1 -3.3l5.4 -4.3zM371.1 100.7l-5.4 4.3l-4 -2l5.3 -4.9zM367.0 98.1l-5.3 4.9l-4 -1.6l5.3 -3.6zM363.0 97.8l-5.3 3.6l-4.1 -1.9l5.4 -3.7zM359.0 95.8l-5.4 3.7l-4 -2l5.3 -1.5zM354.9 96.0l-5.3 1.5l-4 -0.1l5.3 -4.3zM350.9 93.1l-5.3 4.3l-4.1 -1.2l5.3 -5.2zM346.8 91.0l-5.3 5.2l-4 -3.2l5.3 -3.5zM342.8 89.5l-5.3 3.5l-4.1 -1.7l5.4 -5.2z"/>
<path fill="#ff5000" stroke="#ff5000" d="M596.6 159.2l-5.3 0.8l-4 -5l5.3 -3.9zM591.3 160.0l-5.3 3.6l-4.1 -7.7l5.4 -0.9zM586.0 163.6l-5.4 3.7l-4 -7.9l5.3 -3.5zM571.3 161.5l-5.3 3.8l-4.1 -5.1l5.3 -2.1zM566.0 165.3l-5.4 3.7l-4 -5.4l5.3 -3.4zM556.6 163.6l-5.3 3.5l-4.1 -5.8l5.4 0.3zM552.6 161.6l-5.4 -0.3l-4 -0.3l5.3 -4.4zM547.2 161.3l-5.3 7.4l-4 -2.1l5.3 -5.6zM543.2 161.0l-5.3 5.6l-4.1 -2.9l5.4 -4.6zM544.5 156.8l-5.3 2.3l-4.1 -2.6l5.3 -2.4zM539.2 159.1l-5.4 4.6l-4 -2l5.3 -5.2zM535.1 156.5l-5.3 5.2l-4 -1.1l5.3 -5.1zM531.1 155.5l-5.3 5.1l-4.1 -2.7l5.3 -4.8zM527.0 153.1l-5.3 4.8l-4 -0.4l5.3 -5.4zM523.0 152.1l-5.3 5.4l-4.1 -3.8l5.4 -4zM519.0 149.7l-5.4 4l-4 -2.4l5.3 -3.8zM514.9 147.5l-5.3 3.8l-4 -1.9l5.3 -3.2zM509.6 151.3l-5.3 6.7l-4.1 -3.5l5.4 -5.1zM510.9 146.2l-5.3 3.2l-4.1 0.2l5.4 -5.5zM506.9 144.1l-5.4 5.5l-4 -3.1l5.3 -3.6zM497.5 146.5l-5.3 6l-4.1 -4l5.4 -2.9zM493.5 145.6l-5.4 2.9l-4 -0.1l5.3 -5.4zM489.4 143.0l-5.3 5.4l-4 -2.1l5.3 -4.9zM490.7 138.1l-5.3 3.3l-4.1 -1l5.4 -4.1zM485.4 141.4l-5.3 4.9l-4.1 -1.5l5.3 -4.4zM465.2 132.5l-5.3 6.2l-4.1 -3.1l5.4 -2.2zM457.1 129.4l-5.3 4.7l-4 -1l5.3 -5.2zM453.1 127.9l-5.3 5.2l-4.1 -0.9l5.4 -4.8zM449.1 127.4l-5.4 4.8l-4 -1.6l5.3 -5.9zM445.0 124.7l-5.3 5.9l-4 -4.6l5.3 -0.7zM432.9 120.8l-5.3 4.3l-4.1 -3.2l5.4 -3.4zM428.9 118.5l-5.4 3.4l-4 -1.6l5.3 -2.3zM424.8 118.0l-5.3 2.3l-4 -0.2l5.3 -5.6zM420.8 114.5l-5.3 5.6l-4.1 -2.4l5.4 -4.1zM416.8 113.6l-5.4 4.1l-4 -2.1l5.3 -4.1zM412.7 111.5l-5.3 4.1l-4 -1.7l5.3 -3.9zM408.7 110.0l-5.3 3.9l-4.1 -1.9l5.3 -3.1zM404.6 108.9l-5.3 3.1l-4 -1.6l5.3 -5.5zM400.6 104.9l-5.3 5.5l-4.1 -1.3l5.4 -3.8zM396.6 105.3l-5.4 3.8l-4 -0.6l5.3 -5.9zM392.5 102.6l-5.3 5.9l-4 -1.8l5.3 -6.5zM388.5 100.2l-5.3 6.5l-4.1 -2.5l5.4 -4.6zM384.5 99.6l-5.4 4.6l-4 -1.2l5.3 -4.3zM380.4 98.7l-5.3 4.3l-4 -2.3l5.3 -4.3zM376.4 96.4l-5.3 4.3l-4.1 -2.6l5.4 -3.9zM364.3 90.7l-5.3 5.1l-4.1 0.2l5.3 -6.9zM360.2 89.1l-5.3 6.9l-4 -2.9l5.3 -5.6zM356.2 87.5l-5.3 5.6l-4.1 -2.1l5.4 -4.6zM352.2 86.4l-5.4 4.6l-4 -1.5l5.3 -4.7zM348.1 84.8l-5.3 4.7l-4 -3.4l5.3 -2.6zM344.1 83.5l-5.3 2.6l-4.1 -0.3l5.4 -2.5zM338.8 86.1l-5.4 5.2l-4 -0.5l5.3 -5zM340.1 83.3l-5.4 2.5l-4 -4.3l5.3 -1.9zM334.7 85.8l-5.3 5l-4 -2.3l5.3 -7z"/>
<path fill="#ff4000" stroke="#ff4000" d="M587.3 155.0l-5.4 0.9l-4 -4.5l5.3 -1.9zM581.9 155.9l-5.3 3.5l-4 -4.6l5.3 -3.4zM576.6 159.4l-5.3 2.1l-4.1 -3.4l5.4 -3.3zM567.2 158.1l-5.3 2.1l-4 -4.4l5.3 -2.6zM561.9 160.2l-5.3 3.4l-4 -2l5.3 -5.8zM557.9 155.8l-5.3 5.8l-4.1 -5l5.3 -1.7zM553.8 154.9l-5.3 1.7l-4 0.2l5.3 -6.8zM548.5 156.6l-5.3 4.4l-4 -1.9l5.3 -2.3zM540.4 154.1l-5.3 2.4l-4 -1l5.3 -4.1zM536.4 151.4l-5.3 4.1l-4.1 -2.4l5.4 -3zM532.4 150.1l-5.4 3l-4 -1l5.3 -5.1zM528.3 147.0l-5.3 5.1l-4 -2.4l5.3 -4.6zM524.3 145.1l-5.3 4.6l-4.1 -2.2l5.4 -3.1zM502.8 142.9l-5.3 3.6l-4 -0.9l5.3 -6.7zM498.8 138.9l-5.3 6.7l-4.1 -2.6l5.3 -4.9zM494.7 138.1l-5.3 4.9l-4 -1.6l5.3 -3.3zM496.0 133.4l-5.3 4.7l-4 -1.8l5.3 -3.5zM492.0 132.8l-5.3 3.5l-4.1 -3.7l5.4 -2.6zM486.7 136.3l-5.4 4.1l-4 0l5.3 -7.8zM482.6 132.6l-5.3 7.8l-4 -3.7l5.3 -4zM478.6 132.7l-5.3 4l-4.1 -0.1l5.4 -5.4zM474.6 131.2l-5.4 5.4l-4 -4.1l5.3 -3.1zM475.9 126.4l-5.4 3l-4 -3.5l5.3 -1.9zM470.5 129.4l-5.3 3.1l-4 0.9l5.3 -7.5zM466.5 125.9l-5.3 7.5l-4.1 -4l5.4 -4.3zM462.5 125.1l-5.4 4.3l-4 -1.5l5.3 -3.5zM458.4 124.4l-5.3 3.5l-4 -0.5l5.3 -4.5zM454.4 122.9l-5.3 4.5l-4.1 -2.7l5.3 -3.7zM450.3 121.0l-5.3 3.7l-4 0.6l5.3 -6.5zM446.3 118.8l-5.3 6.5l-4.1 -1.7l5.4 -6.1zM442.3 117.5l-5.4 6.1l-4 -2.8l5.3 -5.3zM438.2 115.5l-5.3 5.3l-4 -2.3l5.3 -4.7zM434.2 113.8l-5.3 4.7l-4.1 -0.5l5.4 -5.5zM430.2 112.5l-5.4 5.5l-4 -3.5l5.3 -5.3zM426.1 109.2l-5.3 5.3l-4 -0.9l5.3 -4.7zM422.1 108.9l-5.3 4.7l-4.1 -2.1l5.3 -4zM418.0 107.5l-5.3 4l-4 -1.5l5.3 -4.2zM414.0 105.8l-5.3 4.2l-4.1 -1.1l5.4 -6zM410.0 102.9l-5.4 6l-4 -4l5.3 -2.3zM405.9 102.6l-5.3 2.3l-4 0.4l5.3 -5.6zM401.9 99.7l-5.3 5.6l-4.1 -2.7l5.4 -3zM397.9 99.6l-5.4 3l-4 -2.4l5.3 -4.5zM385.8 92.6l-5.4 6.1l-4 -2.3l5.3 -3.8zM381.7 92.6l-5.3 3.8l-4 -2.2l5.3 -3.5zM377.7 90.7l-5.3 3.5l-4.1 -3.3l5.3 -2.9zM372.4 94.2l-5.4 3.9l-4 -0.3l5.3 -6.9zM373.6 88.0l-5.3 2.9l-4 -0.2l5.3 -3.3zM368.3 90.9l-5.3 6.9l-4 -2l5.3 -5.1zM369.6 87.4l-5.3 3.3l-4.1 -1.6l5.4 -4zM365.6 85.1l-5.4 4l-4 -1.6l5.3 -4.7z"/>
<path fill="#ff3000" stroke="#ff3000" d="M592.6 151.1l-5.3 3.9l-4.1 -5.5l5.3 -2.2zM577.9 151.4l-5.3 3.4l-4.1 -4l5.4 -3.8zM572.6 154.8l-5.4 3.3l-4 -4.9l5.3 -2.4zM568.5 150.8l-5.3 2.4l-4 -1.8l5.3 -5.1zM563.2 153.2l-5.3 2.6l-4.1 -0.9l5.4 -3.5zM559.2 151.4l-5.4 3.5l-4 -4.9l5.3 -2.6zM549.8 150.0l-5.3 6.8l-4.1 -2.7l5.4 -4.5zM545.8 149.6l-5.4 4.5l-4 -2.7l5.3 -4.9zM541.7 146.5l-5.3 4.9l-4 -1.3l5.3 -6zM537.7 144.1l-5.3 6l-4.1 -3.1l5.4 -4.2zM533.7 142.8l-5.4 4.2l-4 -1.9l5.3 -4.8zM529.6 140.3l-5.3 4.8l-4 -0.7l5.3 -4zM525.6 140.4l-5.3 4l-4.1 -4.6l5.3 -2.8zM520.3 144.4l-5.4 3.1l-4 -1.3l5.3 -6.4zM516.2 139.8l-5.3 6.4l-4 -2.1l5.3 -5.6zM512.2 138.5l-5.3 5.6l-4.1 -1.2l5.3 -4.5zM508.1 138.4l-5.3 4.5l-4 -4l5.3 -3.6zM504.1 135.3l-5.3 3.6l-4.1 -0.8l5.4 -4zM500.1 134.1l-5.4 4l-4 0l5.3 -4.7zM488.0 130.0l-5.4 2.6l-4 0.1l5.3 -5.3zM483.9 127.4l-5.3 5.3l-4 -1.5l5.3 -5.5zM479.9 125.7l-5.3 5.5l-4.1 -1.8l5.4 -3zM471.8 124.0l-5.3 1.9l-4 -0.8l5.3 -5.2zM467.8 119.9l-5.3 5.2l-4.1 -0.7l5.3 -4.5zM463.7 119.9l-5.3 4.5l-4 -1.5l5.3 -5.9zM459.7 117.0l-5.3 5.9l-4.1 -1.9l5.4 -4.4zM455.7 116.6l-5.4 4.4l-4 -2.2l5.3 -4.7zM451.6 114.1l-5.3 4.7l-4 -1.3l5.3 -4.7zM447.6 112.8l-5.3 4.7l-4.1 -2l5.4 -3.9zM443.6 111.6l-5.4 3.9l-4 -1.7l5.3 -5.8zM439.5 108.0l-5.3 5.8l-4 -1.3l5.3 -5.2zM435.5 107.3l-5.3 5.2l-4.1 -3.3l5.3 -3zM431.4 106.2l-5.3 3l-4 -0.3l5.3 -5.1zM419.3 99.5l-5.3 6.3l-4 -2.9l5.3 -3.9zM415.3 99.0l-5.3 3.9l-4.1 -0.3l5.4 -5.5zM411.3 97.1l-5.4 5.5l-4 -2.9l5.3 -4.9zM407.2 94.8l-5.3 4.9l-4 -0.1l5.3 -4.9zM403.2 94.7l-5.3 4.9l-4.1 -3.9l5.4 -4.5zM393.8 95.7l-5.3 4.5l-4 -0.6l5.3 -5.2zM389.8 94.4l-5.3 5.2l-4.1 -0.9l5.4 -6.1zM361.5 82.8l-5.3 4.7l-4 -1.1l5.3 -4.8zM357.5 81.6l-5.3 4.8l-4.1 -1.6l5.4 -7.2zM353.5 77.6l-5.4 7.2l-4 -1.3l5.3 -6.4zM349.4 77.1l-5.3 6.4l-4 -0.2l5.3 -7.9zM345.4 75.4l-5.3 7.9l-4.1 -3.7l5.3 -4.9z"/>
<path fill="#ff2000" stroke="#ff2000" d="M588.5 147.3l-5.3 2.2l-4 -6l5.3 -2.4zM583.2 149.5l-5.3 1.9l-4 -4.4l5.3 -3.5zM573.9 147.0l-5.4 3.8l-4 -4.5l5.3 -3.1zM564.5 146.3l-5.3 5.1l-4.1 -4l5.4 -3.3zM560.5 144.1l-5.4 3.3l-4 -3.2l5.3 -3.5zM555.1 147.4l-5.3 2.6l-4 -0.4l5.3 -5.4zM551.1 144.2l-5.3 5.4l-4.1 -3.1l5.4 -4.8zM521.5 137.0l-5.3 2.8l-4 -1.3l5.3 -4.1zM517.5 134.4l-5.3 4.1l-4.1 -0.1l5.4 -5zM513.5 133.4l-5.4 5l-4 -3.1l5.3 -4.1zM509.4 131.2l-5.3 4.1l-4 -1.2l5.3 -2.7zM505.4 131.4l-5.3 2.7l-4.1 -0.7l5.4 -6.2zM501.4 127.2l-5.4 6.2l-4 -0.6l5.3 -6.6zM497.3 126.2l-5.3 6.6l-4 -2.8l5.3 -6.1zM493.3 123.9l-5.3 6.1l-4.1 -2.6l5.4 -5.9zM489.3 121.5l-5.4 5.9l-4 -1.7l5.3 -3.5zM485.2 122.2l-5.3 3.5l-4 0.7l5.3 -7.1zM481.2 119.3l-5.3 7.1l-4.1 -2.4l5.3 -6zM477.1 118.0l-5.3 6l-4 -4.1l5.3 -4.6zM473.1 115.3l-5.3 4.6l-4.1 0l5.4 -5zM469.1 114.9l-5.4 5l-4 -2.9l5.3 -4.7zM465.0 112.3l-5.3 4.7l-4 -0.4l5.3 -6.8zM436.8 101.6l-5.4 4.6l-4 -2.4l5.3 -6.1zM427.4 103.8l-5.3 5.1l-4.1 -1.4l5.4 -7.4zM423.4 100.1l-5.4 7.4l-4 -1.7l5.3 -6.3zM399.2 91.2l-5.4 4.5l-4 -1.3l5.3 -5.5zM395.1 88.9l-5.3 5.5l-4 -1.8l5.3 -4.6zM391.1 88.0l-5.3 4.6l-4.1 0l5.3 -6.5zM387.0 86.1l-5.3 6.5l-4 -1.9l5.3 -8zM383.0 82.7l-5.3 8l-4.1 -2.7l5.4 -6.1zM379.0 81.9l-5.4 6.1l-4 -0.6l5.3 -7.6zM374.9 79.8l-5.3 7.6l-4 -2.3l5.3 -5.6zM370.9 79.5l-5.3 5.6l-4.1 -2.3l5.4 -5.1zM366.9 77.7l-5.4 5.1l-4 -1.2l5.3 -6.5zM362.8 75.1l-5.3 6.5l-4 -4l5.3 -2zM358.8 75.6l-5.3 2l-4.1 -0.5l5.3 -5.6zM354.7 71.5l-5.3 5.6l-4 -1.7l5.3 -4.6zM350.7 70.8l-5.3 4.6l-4.1 -0.7l5.4 -5.7z"/>
<path fill="#ff1000" stroke="#ff1000" d="M579.2 143.5l-5.3 3.5l-4.1 -3.8l5.3 -2.3zM575.1 140.9l-5.3 2.3l-4 -3l5.3 -3.6zM569.8 143.2l-5.3 3.1l-4 -2.2l5.3 -3.9zM565.8 140.2l-5.3 3.9l-4.1 -3.4l5.3 -4.3zM556.4 140.7l-5.3 3.5l-4 -2.5l5.3 -3.7zM547.1 141.7l-5.4 4.8l-4 -2.4l5.3 -5.1zM543.0 139.0l-5.3 5.1l-4 -1.3l5.3 -4.4zM539.0 138.4l-5.3 4.4l-4.1 -2.5l5.3 -5zM534.9 135.3l-5.3 5l-4 0.1l5.3 -6.2zM530.9 134.2l-5.3 6.2l-4.1 -3.4l5.4 -3.8zM526.9 133.2l-5.4 3.8l-4 -2.6l5.3 -4.3zM522.8 130.1l-5.3 4.3l-4 -1l5.3 -5.3zM518.8 128.1l-5.3 5.3l-4.1 -2.2l5.4 -5.1zM514.8 126.1l-5.4 5.1l-4 0.2l5.3 -7zM510.7 124.4l-5.3 7l-4 -4.2l5.3 -4.3zM506.7 122.9l-5.3 4.3l-4.1 -1l5.4 -5.7zM490.5 116.1l-5.3 6.1l-4 -2.9l5.3 -4.2zM486.5 115.1l-5.3 4.2l-4.1 -1.3l5.4 -6.7zM461.0 109.8l-5.3 6.8l-4.1 -2.5l5.4 -5.1zM457.0 109.0l-5.4 5.1l-4 -1.3l5.3 -7.1zM452.9 105.7l-5.3 7.1l-4 -1.2l5.3 -6.7zM448.9 104.9l-5.3 6.7l-4.1 -3.6l5.3 -3.7zM444.8 104.3l-5.3 3.7l-4 -0.7l5.3 -6.4zM440.8 100.9l-5.3 6.4l-4.1 -1.1l5.4 -4.6zM432.7 97.7l-5.3 6.1l-4 -3.7l5.3 -4.3zM428.7 95.8l-5.3 4.3l-4.1 -0.6l5.4 -4zM424.7 95.5l-5.4 4l-4 -0.5l5.3 -5.6zM420.6 93.4l-5.3 5.6l-4 -1.9l5.3 -6.6zM416.6 90.5l-5.3 6.6l-4.1 -2.3l5.4 -6.9zM412.6 87.9l-5.4 6.9l-4 -0.1l5.3 -7.4zM408.5 87.3l-5.3 7.4l-4 -3.5l5.3 -5.4zM404.5 85.8l-5.3 5.4l-4.1 -2.3l5.3 -5.6zM400.4 83.3l-5.3 5.6l-4 -0.9l5.3 -3.7zM396.4 84.3l-5.3 3.7l-4.1 -1.9l5.4 -4.8zM392.4 81.3l-5.4 4.8l-4 -3.4l5.3 -4.5zM384.3 76.0l-5.3 5.9l-4.1 -2.1l5.4 -2.6zM380.3 77.2l-5.4 2.6l-4 -0.3l5.3 -4.6zM376.2 74.9l-5.3 4.6l-4 -1.8l5.3 -5.1zM372.2 72.6l-5.3 5.1l-4.1 -2.6l5.3 -3.7zM368.1 71.4l-5.3 3.7l-4 0.5l5.3 -7.1z"/>
<path fill="#ff0000" stroke="#ff0000" d="M584.5 141.1l-5.3 2.4l-4.1 -2.6l5.4 -4.8zM580.5 136.1l-5.4 4.8l-4 -4.3l5.3 -3.8zM571.1 136.6l-5.3 3.6l-4.1 -3.8l5.4 -3zM561.7 136.4l-5.3 4.3l-4 -2.7l5.3 -4.1zM557.7 133.9l-5.3 4.1l-4.1 -4.1l5.4 -3.7zM552.4 138.0l-5.3 3.7l-4.1 -2.7l5.3 -5.1zM548.3 133.9l-5.3 5.1l-4 -0.6l5.3 -6.9zM544.3 131.5l-5.3 6.9l-4.1 -3.1l5.4 -3.5zM540.3 131.8l-5.4 3.5l-4 -1.1l5.3 -5.7zM536.2 128.5l-5.3 5.7l-4 -1l5.3 -6.1zM532.2 127.1l-5.3 6.1l-4.1 -3.1l5.4 -4.5zM528.2 125.6l-5.4 4.5l-4 -2l5.3 -6.8zM502.7 120.5l-5.4 5.7l-4 -2.3l5.3 -5.5zM498.6 118.4l-5.3 5.5l-4 -2.4l5.3 -5zM494.6 116.5l-5.3 5l-4.1 0.7l5.3 -6.1zM482.5 111.3l-5.4 6.7l-4 -2.7l5.3 -4.4zM478.4 110.9l-5.3 4.4l-4 -0.4l5.3 -5.9zM474.4 109.0l-5.3 5.9l-4.1 -2.6l5.4 -6.6zM470.4 105.7l-5.4 6.6l-4 -2.5l5.3 -4.3zM466.3 105.5l-5.3 4.3l-4 -0.8l5.3 -7.3zM458.2 99.2l-5.3 6.5l-4 -0.8l5.3 -4.8zM454.2 100.1l-5.3 4.8l-4.1 -0.6l5.4 -6.8zM450.2 97.5l-5.4 6.8l-4 -3.4l5.3 -4.7zM446.1 96.2l-5.3 4.7l-4 0.7l5.3 -8.3zM438.1 91.7l-5.4 6l-4 -1.9l5.3 -4.4zM434.0 91.4l-5.3 4.4l-4 -0.3l5.3 -6.6zM430.0 88.9l-5.3 6.6l-4.1 -2.1l5.4 -5.7zM426.0 87.7l-5.4 5.7l-4 -2.9l5.3 -5.3zM388.3 78.2l-5.3 4.5l-4 -0.8l5.3 -5.9zM364.1 68.5l-5.3 7.1l-4.1 -4.1l5.4 -6.2zM360.1 65.3l-5.4 6.2l-4 -0.7l5.3 -6.8zM356.0 64.0l-5.3 6.8l-4 -1.8l5.3 -4.5z"/>
<path fill="#ef0000" stroke="#ef0000" d="M576.4 132.8l-5.3 3.8l-4 -3.2l5.3 -3.1zM572.4 130.3l-5.3 3.1l-4.1 -4.5l5.4 -2.8zM567.1 133.4l-5.4 3l-4 -2.5l5.3 -5zM563.0 128.9l-5.3 5l-4 -3.7l5.3 -2.9zM553.7 130.2l-5.4 3.7l-4 -2.4l5.3 -3.8zM549.6 127.7l-5.3 3.8l-4 0.3l5.3 -7zM524.1 121.3l-5.3 6.8l-4 -2l5.3 -6.8zM520.1 119.3l-5.3 6.8l-4.1 -1.7l5.4 -5.8zM516.1 118.6l-5.4 5.8l-4 -1.5l5.3 -8.1zM512.0 114.8l-5.3 8.1l-4 -2.4l5.3 -5.7zM508.0 114.8l-5.3 5.7l-4.1 -2.1l5.3 -5.6zM503.9 112.8l-5.3 5.6l-4 -1.9l5.3 -4.9zM499.9 111.6l-5.3 4.9l-4.1 -0.4l5.4 -5.4zM495.9 110.7l-5.4 5.4l-4 -1l5.3 -6.7zM491.8 108.4l-5.3 6.7l-4 -3.8l5.3 -5.7zM487.8 105.6l-5.3 5.7l-4.1 -0.4l5.4 -7.4zM483.8 103.5l-5.4 7.4l-4 -1.9l5.3 -6.2zM479.7 102.8l-5.3 6.2l-4 -3.3l5.3 -6zM471.6 99.2l-5.3 6.3l-4 -3.8l5.3 -4.1zM462.3 101.7l-5.3 7.3l-4.1 -3.3l5.3 -6.5zM442.1 93.3l-5.3 8.3l-4.1 -3.9l5.4 -6zM421.9 85.2l-5.3 5.3l-4 -2.6l5.3 -4.3zM417.9 83.6l-5.3 4.3l-4.1 -0.6l5.3 -7.7zM413.8 79.6l-5.3 7.7l-4 -1.5l5.3 -7.8zM409.8 78.0l-5.3 7.8l-4.1 -2.5l5.4 -3.9zM405.8 79.4l-5.4 3.9l-4 1l5.3 -7.7zM401.7 76.6l-5.3 7.7l-4 -3l5.3 -7.3zM397.7 74.0l-5.3 7.3l-4.1 -3.1l5.4 -5zM393.7 73.2l-5.4 5l-4 -2.2l5.3 -4.7zM389.6 71.3l-5.3 4.7l-4 1.2l5.3 -9.3zM385.6 67.9l-5.3 9.3l-4.1 -2.3l5.3 -7.8zM381.5 67.1l-5.3 7.8l-4 -2.3l5.3 -5.7zM377.5 66.9l-5.3 5.7l-4.1 -1.2l5.4 -7.5zM373.5 63.9l-5.4 7.5l-4 -2.9l5.3 -6.4zM369.4 62.1l-5.3 6.4l-4 -3.2l5.3 -5zM365.4 60.3l-5.3 5l-4.1 -1.3l5.4 -3.4zM361.4 60.6l-5.4 3.4l-4 0.5l5.3 -8.5z"/>
<path fill="#df0000" stroke="#df0000" d="M568.4 126.1l-5.4 2.8l-4 -1.6l5.3 -3.4zM564.3 123.9l-5.3 3.4l-4 -3.8l5.3 -2zM559.0 127.3l-5.3 2.9l-4.1 -2.5l5.4 -4.2zM555.0 123.5l-5.4 4.2l-4 -2.9l5.3 -3.2zM550.9 121.6l-5.3 3.2l-4 -2.7l5.3 -2.5zM545.6 124.8l-5.3 7l-4.1 -3.3l5.4 -6.4zM541.6 122.1l-5.4 6.4l-4 -1.4l5.3 -5.5zM537.5 121.6l-5.3 5.5l-4 -1.5l5.3 -6.5zM533.5 119.1l-5.3 6.5l-4.1 -4.3l5.4 -4.6zM529.5 116.7l-5.4 4.6l-4 -2l5.3 -4.1zM525.4 115.2l-5.3 4.1l-4 -0.7l5.3 -4.9zM521.4 113.7l-5.3 4.9l-4.1 -3.8l5.3 -3.5zM517.3 111.3l-5.3 3.5l-4 0l5.3 -4.8zM513.3 110.0l-5.3 4.8l-4.1 -2l5.4 -3zM509.3 109.8l-5.4 3l-4 -1.2l5.3 -4.7zM505.2 106.9l-5.3 4.7l-4 -0.9l5.3 -7.2zM497.2 102.7l-5.4 5.7l-4 -2.8l5.3 -4zM475.7 99.7l-5.3 6l-4.1 -0.2l5.3 -6.3zM467.6 97.6l-5.3 4.1l-4.1 -2.5l5.4 -4.2zM463.6 95.0l-5.4 4.2l-4 0.9l5.3 -7.8zM459.5 92.3l-5.3 7.8l-4 -2.6l5.3 -6.6zM455.5 90.9l-5.3 6.6l-4.1 -1.3l5.4 -6.6zM451.5 89.6l-5.4 6.6l-4 -2.9l5.3 -4.5zM447.4 88.8l-5.3 4.5l-4 -1.6l5.3 -5.8zM443.4 85.9l-5.3 5.8l-4.1 -0.3l5.4 -6zM439.4 85.4l-5.4 6l-4 -2.5l5.3 -5.5zM435.3 83.4l-5.3 5.5l-4 -1.2l5.3 -10.4zM427.2 78.9l-5.3 6.3l-4 -1.6l5.3 -5zM423.2 78.6l-5.3 5l-4.1 -4l5.4 -5.9zM403.0 68.8l-5.3 5.2l-4 -0.8l5.3 -5.9z"/>
<path fill="#cf0000" stroke="#cf0000" d="M560.3 121.5l-5.3 2l-4.1 -1.9l5.4 -3.5zM556.3 118.1l-5.4 3.5l-4 -2l5.3 -4.8zM546.9 119.6l-5.3 2.5l-4.1 -0.5l5.4 -6.2zM542.9 115.4l-5.4 6.2l-4 -2.5l5.3 -4.6zM538.8 114.5l-5.3 4.6l-4 -2.4l5.3 -4.5zM534.8 112.2l-5.3 4.5l-4.1 -1.5l5.3 -5.3zM501.2 103.5l-5.3 7.2l-4.1 -2.3l5.4 -5.7zM493.1 101.6l-5.3 4l-4 -2.1l5.3 -5.4zM489.1 98.1l-5.3 5.4l-4.1 -0.7l5.3 -6.7zM485.0 96.1l-5.3 6.7l-4 -3.1l5.3 -4.6zM481.0 95.1l-5.3 4.6l-4.1 -0.5l5.4 -7zM477.0 92.2l-5.4 7l-4 -1.6l5.3 -7.3zM472.9 90.3l-5.3 7.3l-4 -2.6l5.3 -6.5zM468.9 88.5l-5.3 6.5l-4.1 -2.7l5.4 -3.8zM464.9 88.5l-5.4 3.8l-4 -1.4l5.3 -5.2zM460.8 85.7l-5.3 5.2l-4 -1.3l5.3 -4.7zM456.8 84.9l-5.3 4.7l-4.1 -0.8l5.4 -7zM431.3 77.3l-5.3 10.4l-4.1 -2.5l5.3 -6.3zM419.2 73.7l-5.4 5.9l-4 -1.6l5.3 -4.1zM415.1 73.9l-5.3 4.1l-4 1.4l5.3 -8.5zM411.1 70.9l-5.3 8.5l-4.1 -2.8l5.4 -8zM407.1 68.6l-5.4 8l-4 -2.6l5.3 -5.2zM399.0 67.3l-5.3 5.9l-4.1 -1.9l5.3 -6.8zM394.9 64.5l-5.3 6.8l-4 -3.4l5.3 -6.1zM390.9 61.8l-5.3 6.1l-4.1 -0.8l5.4 -6.2zM386.9 60.9l-5.4 6.2l-4 -0.2l5.3 -9.5zM382.8 57.4l-5.3 9.5l-4 -3l5.3 -7.5zM378.8 56.4l-5.3 7.5l-4.1 -1.8l5.4 -5.7zM374.8 56.4l-5.4 5.7l-4 -1.8l5.3 -7.1zM370.7 53.2l-5.3 7.1l-4 0.3l5.3 -8.5zM366.7 52.1l-5.3 8.5l-4.1 -4.6l5.4 -5.7z"/>
<path fill="#bf0000" stroke="#bf0000" d="M552.2 114.8l-5.3 4.8l-4 -4.2l5.3 -3.4zM548.2 112.0l-5.3 3.4l-4.1 -0.9l5.3 -3.9zM544.1 110.6l-5.3 3.9l-4 -2.3l5.3 -4.2zM530.7 109.9l-5.3 5.3l-4 -1.5l5.3 -5.9zM526.7 107.8l-5.3 5.9l-4.1 -2.4l5.4 -5.2zM522.7 106.1l-5.4 5.2l-4 -1.3l5.3 -6.6zM518.6 103.4l-5.3 6.6l-4 -0.2l5.3 -6.8zM514.6 103.0l-5.3 6.8l-4.1 -2.9l5.4 -5.1zM510.6 101.8l-5.4 5.1l-4 -3.4l5.3 -5.2zM506.5 98.3l-5.3 5.2l-4 -0.8l5.3 -6zM502.5 96.7l-5.3 6l-4.1 -1.1l5.3 -6.8zM498.4 94.8l-5.3 6.8l-4 -3.5l5.3 -3.6zM494.4 94.5l-5.3 3.6l-4.1 -2l5.4 -4zM490.4 92.1l-5.4 4l-4 -1l5.3 -6.2zM452.8 81.8l-5.4 7l-4 -2.9l5.3 -6zM448.7 79.9l-5.3 6l-4 -0.5l5.3 -7.6zM444.7 77.8l-5.3 7.6l-4.1 -2l5.3 -6.4zM440.6 77.0l-5.3 6.4l-4 -6.1l5.3 -3.9zM436.6 73.4l-5.3 3.9l-4.1 1.6l5.4 -5.1zM432.6 73.8l-5.4 5.1l-4 -0.3l5.3 -7.9zM428.5 70.7l-5.3 7.9l-4 -4.9l5.3 -4.1zM424.5 69.6l-5.3 4.1l-4.1 0.2l5.4 -5.4zM420.5 68.5l-5.4 5.4l-4 -3l5.3 -4.7zM416.4 66.2l-5.3 4.7l-4 -2.3l5.3 -5.6z"/>
<path fill="#af0000" stroke="#af0000" d="M540.1 108.0l-5.3 4.2l-4.1 -2.3l5.4 -5.5zM536.1 104.4l-5.4 5.5l-4 -2.1l5.3 -4.1zM532.0 103.7l-5.3 4.1l-4 -1.7l5.3 -4.3zM528.0 101.8l-5.3 4.3l-4.1 -2.7l5.4 -4zM524.0 99.4l-5.4 4l-4 -0.4l5.3 -6.5zM519.9 96.5l-5.3 6.5l-4 -1.2l5.3 -7.2zM515.9 94.6l-5.3 7.2l-4.1 -3.5l5.3 -4.9zM486.3 88.9l-5.3 6.2l-4 -2.9l5.3 -6.2zM482.3 86.0l-5.3 6.2l-4.1 -1.9l5.4 -5.1zM478.3 85.2l-5.4 5.1l-4 -1.8l5.3 -4.7zM474.2 83.8l-5.3 4.7l-4 0l5.3 -7.3zM470.2 81.2l-5.3 7.3l-4.1 -2.8l5.4 -6.2zM466.2 79.5l-5.4 6.2l-4 -0.8l5.3 -8.3zM462.1 76.6l-5.3 8.3l-4 -3.1l5.3 -6.4zM458.1 75.4l-5.3 6.4l-4.1 -1.9l5.3 -5.7zM454.0 74.2l-5.3 5.7l-4 -2.1l5.3 -4.6zM450.0 73.2l-5.3 4.6l-4.1 -0.8l5.4 -6zM446.0 71.0l-5.4 6l-4 -3.6l5.3 -6.2zM437.9 66.7l-5.3 7.1l-4.1 -3.1l5.4 -4zM433.9 66.7l-5.4 4l-4 -1.1l5.3 -6.4zM412.4 63.0l-5.3 5.6l-4.1 0.2l5.3 -7.5zM408.3 61.3l-5.3 7.5l-4 -1.5l5.3 -7.5zM404.3 59.8l-5.3 7.5l-4.1 -2.8l5.4 -7.3zM400.3 57.2l-5.4 7.3l-4 -2.7l5.3 -6.5zM396.2 55.3l-5.3 6.5l-4 -0.9l5.3 -6.2zM392.2 54.7l-5.3 6.2l-4.1 -3.5l5.4 -4.4zM388.2 53.0l-5.4 4.4l-4 -1l5.3 -7.3zM384.1 49.1l-5.3 7.3l-4 0l5.3 -7.8zM380.1 48.6l-5.3 7.8l-4.1 -3.2l5.4 -6.5zM376.1 46.7l-5.4 6.5l-4 -1.1l5.3 -5.3zM372.0 46.8l-5.3 5.3l-4 -1.8l5.3 -7.2z"/>
<path fill="#9f0000" stroke="#9f0000" d="M511.8 93.4l-5.3 4.9l-4 -1.6l5.3 -5.9zM507.8 90.8l-5.3 5.9l-4.1 -1.9l5.4 -6.4zM503.8 88.4l-5.4 6.4l-4 -0.3l5.3 -6.6zM499.7 87.9l-5.3 6.6l-4 -2.4l5.3 -5.1zM495.7 87.0l-5.3 5.1l-4.1 -3.2l5.4 -5zM491.7 83.9l-5.4 5l-4 -2.9l5.3 -4.1zM487.6 81.9l-5.3 4.1l-4 -0.8l5.3 -4.9zM483.6 80.3l-5.3 4.9l-4.1 -1.4l5.4 -6zM479.6 77.8l-5.4 6l-4 -2.6l5.3 -5.7zM471.5 73.5l-5.3 6l-4.1 -2.9l5.3 -2.7zM467.4 73.9l-5.3 2.7l-4 -1.2l5.3 -3.3zM463.4 72.1l-5.3 3.3l-4.1 -1.2l5.4 -6.8zM441.9 67.2l-5.3 6.2l-4 0.4l5.3 -7.1zM429.8 63.2l-5.3 6.4l-4 -1.1l5.3 -6.5zM425.8 62.0l-5.3 6.5l-4.1 -2.3l5.3 -6.5zM421.7 59.7l-5.3 6.5l-4 -3.2l5.3 -5.6zM417.7 57.4l-5.3 5.6l-4.1 -1.7l5.4 -4zM413.7 57.3l-5.4 4l-4 -1.5l5.3 -6.5zM409.6 53.3l-5.3 6.5l-4 -2.6l5.3 -5.3zM405.6 51.9l-5.3 5.3l-4.1 -1.9l5.4 -5.4zM393.5 45.7l-5.3 7.3l-4.1 -3.9l5.4 -3.7zM389.5 45.4l-5.4 3.7l-4 -0.5l5.3 -6.6z"/>
<path fill="#8f0000" stroke="#8f0000" d="M475.5 75.5l-5.3 5.7l-4 -1.7l5.3 -6zM459.4 67.4l-5.4 6.8l-4 -1l5.3 -5.9zM455.3 67.3l-5.3 5.9l-4 -2.2l5.3 -7.4zM451.3 63.6l-5.3 7.4l-4.1 -3.8l5.4 -4.8zM447.3 62.4l-5.4 4.8l-4 -0.5l5.3 -6.1zM443.2 60.6l-5.3 6.1l-4 0l5.3 -7.7zM439.2 59.0l-5.3 7.7l-4.1 -3.5l5.3 -5.9zM435.1 57.3l-5.3 5.9l-4 -1.2l5.3 -7.1zM401.6 49.9l-5.4 5.4l-4 -0.6l5.3 -7.9zM397.5 46.8l-5.3 7.9l-4 -1.7l5.3 -7.3zM385.4 42.0l-5.3 6.6l-4 -1.9l5.3 -6zM381.4 40.7l-5.3 6l-4.1 0.1l5.3 -7.9zM377.3 38.9l-5.3 7.9l-4 -3.7l5.3 -6.3z"/>
<path fill="#800000" stroke="#800000" d="M431.1 54.9l-5.3 7.1l-4.1 -2.3l5.4 -6.5zM427.1 53.2l-5.4 6.5l-4 -2.3l5.3 -6.5zM423.0 50.9l-5.3 6.5l-4 -0.1l5.3 -7.7zM419.0 49.6l-5.3 7.7l-4.1 -4l5.4 -5.5zM415.0 47.8l-5.4 5.5l-4 -1.4l5.3 -4.9zM410.9 47.0l-5.3 4.9l-4 -2l5.3 -5.6zM406.9 44.3l-5.3 5.6l-4.1 -3.1l5.4 -4.6zM402.9 42.2l-5.4 4.6l-4 -1.1l5.3 -5.8zM398.8 39.9l-5.3 5.8l-4 -0.3l5.3 -7.3zM394.8 38.1l-5.3 7.3l-4.1 -3.4l5.3 -5.8zM390.7 36.2l-5.3 5.8l-4 -1.3l5.3 -6.8zM386.7 33.9l-5.3 6.8l-4.1 -1.8l5.4 -7.6zM382.7 31.3l-5.4 7.6l-4 -2.1l5.3 -5.8z"/>
</g>
<path d="M303.3,390.1 l-7.6,1.8 M236.0,363.1 l-7.6,1.8 M168.7,336.1 l-7.6,1.8 M101.4,309.0 l-7.6,1.8 M303.3,390.1 l8.4,3.4 M356.5,377.6 l8.4,3.4 M409.8,365.0 l8.4,3.4 M463.1,352.5 l8.4,3.4 M516.3,340.0 l8.4,3.4 M569.6,327.4 l8.4,3.4 M622.9,314.9 l8.4,3.4 M59.0,292.0 l-8.0,-3.2 M59.0,232.2 l-8.0,-3.2 M59.0,172.3 l-8.0,-3.2 M59.0,112.4 l-8.0,-3.2" fill="none" stroke="#000" stroke-width="0.8"/>
<g font-family="'Liberation Sans', Arial, Helvetica, sans-serif" font-weight="bold" font-size="16.5px" fill="#000">
<text x="293.3" y="408.8" text-anchor="end">0</text>
<text x="225.1" y="381.6" text-anchor="end">1000</text>
<text x="156.8" y="354.4" text-anchor="end">2000</text>
<text x="88.6" y="327.1" text-anchor="end">3000</text>
<text x="314.3" y="410.8">90</text>
<text x="367.5" y="398.3">80</text>
<text x="420.8" y="385.7">70</text>
<text x="474.1" y="373.2">60</text>
<text x="527.3" y="360.7">50</text>
<text x="580.6" y="348.1">40</text>
<text x="633.9" y="335.6">30</text>
<text x="48.6" y="294.2" text-anchor="end">0</text>
<text x="48.6" y="234.4" text-anchor="end">50</text>
<text x="48.6" y="174.5" text-anchor="end">100</text>
<text x="48.6" y="114.6" text-anchor="end">150</text>
<text x="658.5" y="318.2">0</text>
<text x="658.5" y="250.4">50</text>
<text x="658.5" y="182.7">100</text>
<text x="658.5" y="115.0">150</text>
</g>
<g font-family="'Liberation Sans', Arial, Helvetica, sans-serif" font-weight="bold" font-size="17px" fill="#000">
<text x="138.3" y="418" text-anchor="middle" font-size="16.6px">Time (sec)</text>
<text x="468" y="424" text-anchor="middle" font-size="16.5px">T (C)</text>
<text transform="translate(12.1,184.7) rotate(-90)" text-anchor="middle" font-size="15.6px">q (mg/g)</text>
</g>
<defs><linearGradient id="cb" x1="0" y1="0" x2="0" y2="1"><stop offset="0.00000" stop-color="#800000"/><stop offset="0.01562" stop-color="#800000"/><stop offset="0.01562" stop-color="#8f0000"/><stop offset="0.03125" stop-color="#8f0000"/><stop offset="0.03125" stop-color="#9f0000"/><stop offset="0.04688" stop-color="#9f0000"/><stop offset="0.04688" stop-color="#af0000"/><stop offset="0.06250" stop-color="#af0000"/><stop offset="0.06250" stop-color="#bf0000"/><stop offset="0.07812" stop-color="#bf0000"/><stop offset="0.07812" stop-color="#cf0000"/><stop offset="0.09375" stop-color="#cf0000"/><stop offset="0.09375" stop-color="#df0000"/><stop offset="0.10938" stop-color="#df0000"/><stop offset="0.10938" stop-color="#ef0000"/><stop offset="0.12500" stop-color="#ef0000"/><stop offset="0.12500" stop-color="#ff0000"/><stop offset="0.14062" stop-color="#ff0000"/><stop offset="0.14062" stop-color="#ff1000"/><stop offset="0.15625" stop-color="#ff1000"/><stop offset="0.15625" stop-color="#ff2000"/><stop offset="0.17188" stop-color="#ff2000"/><stop offset="0.17188" stop-color="#ff3000"/><stop offset="0.18750" stop-color="#ff3000"/><stop offset="0.18750" stop-color="#ff4000"/><stop offset="0.20312" stop-color="#ff4000"/><stop offset="0.20312" stop-color="#ff5000"/><stop offset="0.21875" stop-color="#ff5000"/><stop offset="0.21875" stop-color="#ff6000"/><stop offset="0.23438" stop-color="#ff6000"/><stop offset="0.23438" stop-color="#ff7000"/><stop offset="0.25000" stop-color="#ff7000"/><stop offset="0.25000" stop-color="#ff8000"/><stop offset="0.26562" stop-color="#ff8000"/><stop offset="0.26562" stop-color="#ff8f00"/><stop offset="0.28125" stop-color="#ff8f00"/><stop offset="0.28125" stop-color="#ff9f00"/><stop offset="0.29688" stop-color="#ff9f00"/><stop offset="0.29688" stop-color="#ffaf00"/><stop offset="0.31250" stop-color="#ffaf00"/><stop offset="0.31250" stop-color="#ffbf00"/><stop offset="0.32812" stop-color="#ffbf00"/><stop offset="0.32812" stop-color="#ffcf00"/><stop offset="0.34375" stop-color="#ffcf00"/><stop offset="0.34375" stop-color="#ffdf00"/><stop offset="0.35938" stop-color="#ffdf00"/><stop offset="0.35938" stop-color="#ffef00"/><stop offset="0.37500" stop-color="#ffef00"/><stop offset="0.37500" stop-color="#ffff00"/><stop offset="0.39062" stop-color="#ffff00"/><stop offset="0.39062" stop-color="#efff10"/><stop offset="0.40625" stop-color="#efff10"/><stop offset="0.40625" stop-color="#dfff20"/><stop offset="0.42188" stop-color="#dfff20"/><stop offset="0.42188" stop-color="#cfff30"/><stop offset="0.43750" stop-color="#cfff30"/><stop offset="0.43750" stop-color="#bfff40"/><stop offset="0.45312" stop-color="#bfff40"/><stop offset="0.45312" stop-color="#afff50"/><stop offset="0.46875" stop-color="#afff50"/><stop offset="0.46875" stop-color="#9fff60"/><stop offset="0.48438" stop-color="#9fff60"/><stop offset="0.48438" stop-color="#8fff70"/><stop offset="0.50000" stop-color="#8fff70"/><stop offset="0.50000" stop-color="#80ff80"/><stop offset="0.51562" stop-color="#80ff80"/><stop offset="0.51562" stop-color="#70ff8f"/><stop offset="0.53125" stop-color="#70ff8f"/><stop offset="0.53125" stop-color="#60ff9f"/><stop offset="0.54688" stop-color="#60ff9f"/><stop offset="0.54688" stop-color="#50ffaf"/><stop offset="0.56250" stop-color="#50ffaf"/><stop offset="0.56250" stop-color="#40ffbf"/><stop offset="0.57812" stop-color="#40ffbf"/><stop offset="0.57812" stop-color="#30ffcf"/><stop offset="0.59375" stop-color="#30ffcf"/><stop offset="0.59375" stop-color="#20ffdf"/><stop offset="0.60938" stop-color="#20ffdf"/><stop offset="0.60938" stop-color="#10ffef"/><stop offset="0.62500" stop-color="#10ffef"/><stop offset="0.62500" stop-color="#00ffff"/><stop offset="0.64062" stop-color="#00ffff"/><stop offset="0.64062" stop-color="#00efff"/><stop offset="0.65625" stop-color="#00efff"/><stop offset="0.65625" stop-color="#00dfff"/><stop offset="0.67188" stop-color="#00dfff"/><stop offset="0.67188" stop-color="#00cfff"/><stop offset="0.68750" stop-color="#00cfff"/><stop offset="0.68750" stop-color="#00bfff"/><stop offset="0.70312" stop-color="#00bfff"/><stop offset="0.70312" stop-color="#00afff"/><stop offset="0.71875" stop-color="#00afff"/><stop offset="0.71875" stop-color="#009fff"/><stop offset="0.73438" stop-color="#009fff"/><stop offset="0.73438" stop-color="#008fff"/><stop offset="0.75000" stop-color="#008fff"/><stop offset="0.75000" stop-color="#0080ff"/><stop offset="0.76562" stop-color="#0080ff"/><stop offset="0.76562" stop-color="#0070ff"/><stop offset="0.78125" stop-color="#0070ff"/><stop offset="0.78125" stop-color="#0060ff"/><stop offset="0.79688" stop-color="#0060ff"/><stop offset="0.79688" stop-color="#0050ff"/><stop offset="0.81250" stop-color="#0050ff"/><stop offset="0.81250" stop-color="#0040ff"/><stop offset="0.82812" stop-color="#0040ff"/><stop offset="0.82812" stop-color="#0030ff"/><stop offset="0.84375" stop-color="#0030ff"/><stop offset="0.84375" stop-color="#0020ff"/><stop offset="0.85938" stop-color="#0020ff"/><stop offset="0.85938" stop-color="#0010ff"/><stop offset="0.87500" stop-color="#0010ff"/><stop offset="0.87500" stop-color="#0000ff"/><stop offset="0.89062" stop-color="#0000ff"/><stop offset="0.89062" stop-color="#0000ef"/><stop offset="0.90625" stop-color="#0000ef"/><stop offset="0.90625" stop-color="#0000df"/><stop offset="0.92188" stop-color="#0000df"/><stop offset="0.92188" stop-color="#0000cf"/><stop offset="0.93750" stop-color="#0000cf"/><stop offset="0.93750" stop-color="#0000bf"/><stop offset="0.95312" stop-color="#0000bf"/><stop offset="0.95312" stop-color="#0000af"/><stop offset="0.96875" stop-color="#0000af"/><stop offset="0.96875" stop-color="#00009f"/><stop offset="0.98438" stop-color="#00009f"/><stop offset="0.98438" stop-color="#00008f"/><stop offset="1.00000" stop-color="#00008f"/></linearGradient></defs>
<rect x="631.4" y="102.6" width="24.3" height="212.0" fill="url(#cb)"/>
<rect x="631.4" y="102.6" width="24.3" height="212.0" fill="none" stroke="#000" stroke-width="0.8"/>
<path d="M631.4,312.2 h2.5 M655.7,312.2 h-2.5 M631.4,244.4 h2.5 M655.7,244.4 h-2.5 M631.4,176.7 h2.5 M655.7,176.7 h-2.5 M631.4,109.0 h2.5 M655.7,109.0 h-2.5" stroke="#000" stroke-width="0.8" fill="none"/>
</svg>
</body></html>
